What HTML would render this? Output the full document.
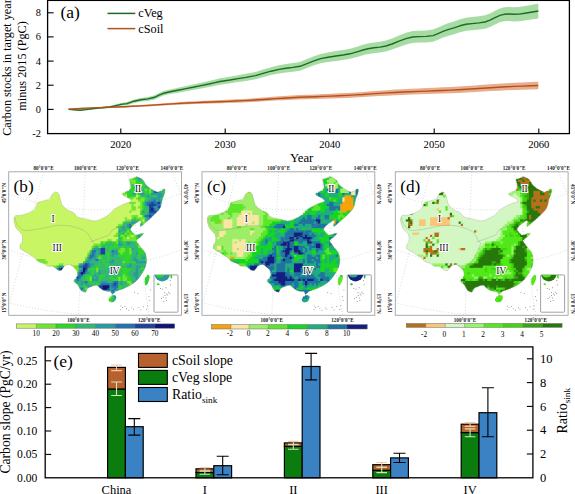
<!DOCTYPE html>
<html><head><meta charset="utf-8"><title>figure</title>
<style>
html,body{margin:0;padding:0;background:#fff;}
body{width:575px;height:494px;overflow:hidden;font-family:"Liberation Serif", serif;}
svg{display:block;font-family:"Liberation Serif", serif;}
</style></head><body>
<svg width="575" height="494" viewBox="0 0 575 494">
<rect x="0" y="0" width="575" height="494" fill="#ffffff"/>
<g id="panel-a">
<polygon points="68.5,109.4 74.0,109.4 80.0,109.7 86.0,109.0 92.0,108.0 98.0,107.1 104.4,106.4 110.0,105.8 116.0,104.3 121.0,103.0 127.0,102.0 134.0,99.5 141.0,98.0 148.0,96.9 154.7,95.2 159.0,93.0 163.5,91.1 170.0,89.5 178.0,87.7 186.0,86.0 193.0,84.6 201.0,82.7 209.0,81.0 215.0,79.5 220.0,78.3 230.0,76.7 238.0,75.2 246.0,73.8 255.5,71.9 263.0,69.6 271.0,67.3 279.0,65.3 286.0,64.1 293.0,63.1 300.0,61.9 307.0,59.1 314.0,56.3 320.6,54.0 328.0,52.5 336.0,51.1 343.0,50.1 350.0,48.8 357.0,46.7 363.0,44.8 368.0,43.4 374.0,42.4 380.0,41.7 386.0,40.5 392.0,38.4 399.0,35.5 406.0,32.8 412.5,31.1 419.0,30.7 426.0,30.4 433.0,29.5 438.0,27.4 443.0,25.2 448.0,23.3 454.0,21.4 460.0,19.3 466.0,17.8 472.0,17.0 479.0,16.2 485.0,15.2 490.0,13.4 495.0,10.7 500.0,8.5 504.0,7.3 509.0,6.9 514.0,7.2 519.0,6.9 525.0,6.0 531.0,4.9 538.3,3.6 538.3,18.4 531.0,19.5 525.0,20.4 519.0,21.3 514.0,21.4 509.0,21.1 504.0,21.3 500.0,22.3 495.0,24.5 490.0,27.0 485.0,28.8 479.0,29.6 472.0,30.2 466.0,30.8 460.0,32.3 454.0,34.2 448.0,35.9 443.0,37.6 438.0,39.8 433.0,41.7 426.0,42.4 419.0,42.5 412.5,42.9 406.0,44.4 399.0,46.9 392.0,49.6 386.0,51.5 380.0,52.5 374.0,53.2 368.0,54.0 363.0,55.2 357.0,56.9 350.0,58.8 343.0,59.9 336.0,60.9 328.0,61.9 320.6,63.2 314.0,65.3 307.0,68.1 300.0,70.7 293.0,71.7 286.0,72.5 279.0,73.5 271.0,75.1 263.0,77.2 255.5,79.3 246.0,81.0 238.0,82.0 230.0,83.3 220.0,84.7 215.0,85.7 209.0,87.0 201.0,88.5 193.0,90.0 186.0,91.2 178.0,92.7 170.0,94.1 163.5,95.5 159.0,97.4 154.7,99.4 148.0,100.9 141.0,101.6 134.0,102.9 127.0,105.2 121.0,105.8 116.0,106.9 110.0,108.2 104.4,108.6 98.0,108.9 92.0,109.6 86.0,110.2 80.0,110.7 74.0,110.0 68.5,109.4" fill="#a6dca4"/>
<polygon points="68.5,109.1 76.5,108.5 84.4,108.0 92.4,107.5 100.4,107.1 108.3,106.7 116.3,106.3 124.2,105.9 132.2,105.5 140.2,105.0 148.1,104.4 156.1,103.9 164.1,103.3 172.0,102.7 180.0,102.1 187.9,101.6 195.9,101.2 203.9,100.8 211.8,100.5 219.8,100.1 227.8,99.7 235.7,99.3 243.7,98.9 251.6,98.4 259.6,97.8 267.6,97.2 275.5,96.6 283.5,96.1 291.5,95.6 299.4,95.1 307.4,94.7 315.3,94.4 323.3,94.0 331.3,93.7 339.2,93.3 347.2,92.9 355.2,92.4 363.1,91.9 371.1,91.3 379.0,90.7 387.0,90.2 395.0,89.6 402.9,89.2 410.9,88.8 418.9,88.4 426.8,88.0 434.8,87.7 442.7,87.3 450.7,86.9 458.7,86.5 466.6,86.0 474.6,85.4 482.6,84.8 490.5,84.3 498.5,83.7 506.4,83.3 514.4,82.8 522.4,82.4 530.3,82.1 538.3,81.8 538.3,89.2 530.3,89.4 522.4,89.7 514.4,89.9 506.4,90.3 498.5,90.7 490.5,91.1 482.6,91.6 474.6,92.0 466.6,92.5 458.7,92.9 450.7,93.3 442.7,93.6 434.8,93.8 426.8,94.1 418.9,94.3 410.9,94.6 402.9,94.9 395.0,95.3 387.0,95.7 379.0,96.1 371.1,96.6 363.1,97.1 355.2,97.5 347.2,97.9 339.2,98.2 331.3,98.5 323.3,98.7 315.3,99.0 307.4,99.2 299.4,99.5 291.5,99.8 283.5,100.2 275.5,100.6 267.6,101.1 259.6,101.6 251.6,102.0 243.7,102.4 235.7,102.7 227.8,103.0 219.8,103.3 211.8,103.5 203.9,103.7 195.9,104.0 187.9,104.3 180.0,104.7 172.0,105.1 164.1,105.5 156.1,106.0 148.1,106.4 140.2,106.8 132.2,107.1 124.2,107.4 116.3,107.7 108.3,107.9 100.4,108.1 92.4,108.3 84.4,108.5 76.5,108.8 68.5,109.1" fill="#e9ad8c"/>
<polyline points="68.5,109.4 74.0,109.7 80.0,110.2 86.0,109.6 92.0,108.8 98.0,108.0 104.4,107.5 110.0,107.0 116.0,105.6 121.0,104.4 127.0,103.6 134.0,101.2 141.0,99.8 148.0,98.9 154.7,97.3 159.0,95.2 163.5,93.3 170.0,91.8 178.0,90.2 186.0,88.6 193.0,87.3 201.0,85.6 209.0,84.0 215.0,82.6 220.0,81.5 230.0,80.0 238.0,78.6 246.0,77.4 255.5,75.6 263.0,73.4 271.0,71.2 279.0,69.4 286.0,68.3 293.0,67.4 300.0,66.3 307.0,63.6 314.0,60.8 320.6,58.6 328.0,57.2 336.0,56.0 343.0,55.0 350.0,53.8 357.0,51.8 363.0,50.0 368.0,48.7 374.0,47.8 380.0,47.1 386.0,46.0 392.0,44.0 399.0,41.2 406.0,38.6 412.5,37.0 419.0,36.6 426.0,36.4 433.0,35.6 438.0,33.6 443.0,31.4 448.0,29.6 454.0,27.8 460.0,25.8 466.0,24.3 472.0,23.6 479.0,22.9 485.0,22.0 490.0,20.2 495.0,17.6 500.0,15.4 504.0,14.3 509.0,14.0 514.0,14.3 519.0,14.1 525.0,13.2 531.0,12.2 538.3,11.0" fill="none" stroke="#1d6b24" stroke-width="1.4" stroke-linejoin="round"/>
<polyline points="68.5,109.1 76.5,108.7 84.4,108.2 92.4,107.9 100.4,107.6 108.3,107.3 116.3,107.0 124.2,106.7 132.2,106.3 140.2,105.9 148.1,105.4 156.1,104.9 164.1,104.4 172.0,103.9 180.0,103.4 187.9,103.0 195.9,102.6 203.9,102.3 211.8,102.0 219.8,101.7 227.8,101.4 235.7,101.0 243.7,100.6 251.6,100.2 259.6,99.7 267.6,99.2 275.5,98.6 283.5,98.2 291.5,97.7 299.4,97.3 307.4,97.0 315.3,96.7 323.3,96.4 331.3,96.1 339.2,95.8 347.2,95.4 355.2,94.9 363.1,94.5 371.1,93.9 379.0,93.4 387.0,92.9 395.0,92.5 402.9,92.0 410.9,91.7 418.9,91.4 426.8,91.1 434.8,90.8 442.7,90.5 450.7,90.1 458.7,89.7 466.6,89.2 474.6,88.7 482.6,88.2 490.5,87.7 498.5,87.2 506.4,86.8 514.4,86.4 522.4,86.1 530.3,85.8 538.3,85.5" fill="none" stroke="#b4501e" stroke-width="1.4" stroke-linejoin="round"/>
<rect x="47.6" y="0.4" width="521.8" height="133.2" fill="none" stroke="#000" stroke-width="1.3"/>
<text x="40.9" y="137.0" font-size="10.4" text-anchor="end" font-weight="normal" fill="#000">-2</text>
<line x1="47.6" y1="109.4" x2="53.6" y2="109.4" stroke="#000" stroke-width="1.1"/>
<text x="40.9" y="112.8" font-size="10.4" text-anchor="end" font-weight="normal" fill="#000">0</text>
<line x1="47.6" y1="85.2" x2="53.6" y2="85.2" stroke="#000" stroke-width="1.1"/>
<text x="40.9" y="88.6" font-size="10.4" text-anchor="end" font-weight="normal" fill="#000">2</text>
<line x1="47.6" y1="61.1" x2="53.6" y2="61.1" stroke="#000" stroke-width="1.1"/>
<text x="40.9" y="64.5" font-size="10.4" text-anchor="end" font-weight="normal" fill="#000">4</text>
<line x1="47.6" y1="36.9" x2="53.6" y2="36.9" stroke="#000" stroke-width="1.1"/>
<text x="40.9" y="40.3" font-size="10.4" text-anchor="end" font-weight="normal" fill="#000">6</text>
<line x1="47.6" y1="12.8" x2="53.6" y2="12.8" stroke="#000" stroke-width="1.1"/>
<text x="40.9" y="16.2" font-size="10.4" text-anchor="end" font-weight="normal" fill="#000">8</text>
<line x1="120.8" y1="133.6" x2="120.8" y2="128.6" stroke="#000" stroke-width="1.1"/>
<text x="120.8" y="148.1" font-size="10.6" text-anchor="middle" font-weight="normal" fill="#000">2020</text>
<line x1="225.2" y1="133.6" x2="225.2" y2="128.6" stroke="#000" stroke-width="1.1"/>
<text x="225.2" y="148.1" font-size="10.6" text-anchor="middle" font-weight="normal" fill="#000">2030</text>
<line x1="329.8" y1="133.6" x2="329.8" y2="128.6" stroke="#000" stroke-width="1.1"/>
<text x="329.8" y="148.1" font-size="10.6" text-anchor="middle" font-weight="normal" fill="#000">2040</text>
<line x1="434.2" y1="133.6" x2="434.2" y2="128.6" stroke="#000" stroke-width="1.1"/>
<text x="434.2" y="148.1" font-size="10.6" text-anchor="middle" font-weight="normal" fill="#000">2050</text>
<line x1="538.8" y1="133.6" x2="538.8" y2="128.6" stroke="#000" stroke-width="1.1"/>
<text x="538.8" y="148.1" font-size="10.6" text-anchor="middle" font-weight="normal" fill="#000">2060</text>
<text x="301.6" y="161.6" font-size="12.7" text-anchor="middle" font-weight="normal" fill="#000">Year</text>
<text x="11.1" y="135.8" font-size="12.2" text-anchor="start" font-weight="normal" fill="#000" transform="rotate(-90 11.1 135.8)">Carbon stocks in target year</text>
<text x="26.1" y="66.0" font-size="12.2" text-anchor="middle" font-weight="normal" fill="#000" transform="rotate(-90 26.1 66.0)">minus 2015 (PgC)</text>
<text x="60.5" y="18.2" font-size="17.5" text-anchor="start" font-weight="normal" fill="#000">(a)</text>
<line x1="107.5" y1="13.4" x2="135.3" y2="13.4" stroke="#1d6b24" stroke-width="1.5"/>
<line x1="107.5" y1="28.6" x2="135.3" y2="28.6" stroke="#b4501e" stroke-width="1.5"/>
<text x="138.2" y="17.4" font-size="12.3" text-anchor="start" font-weight="normal" fill="#000">cVeg</text>
<text x="138.2" y="32.6" font-size="12.3" text-anchor="start" font-weight="normal" fill="#000">cSoil</text>
</g>
<defs><clipPath id="china">
<polygon points="55.7,191.9 57.6,192.6 59.2,194.8 60.3,199.5 61.8,204.4 64.2,207.4 67.1,209.6 70.3,211.2 73.2,212.3 75.2,214.3 76.7,216.6 81.5,218.3 87.1,219.2 90.8,220.3 94.1,221.0 97.5,220.4 100.5,219.2 104.2,217.6 107.4,215.7 110.2,213.0 112.6,210.5 115.2,208.6 117.9,207.0 121.4,205.2 124.8,203.6 128.5,202.6 131.8,200.9 129.8,199.0 127.5,197.5 124.2,196.0 121.4,194.0 123.8,192.4 126.6,191.4 129.2,190.0 130.9,187.9 130.4,183.4 129.2,179.2 132.4,178.4 136.2,176.6 139.4,177.4 142.3,179.2 144.2,181.8 145.7,184.4 148.2,186.8 151.0,188.7 154.4,190.8 157.9,192.2 161.0,190.6 164.0,188.7 165.3,189.6 164.9,192.2 163.8,195.8 162.3,199.2 161.6,203.2 160.6,207.0 158.6,210.2 156.2,212.8 152.5,216.2 149.4,219.2 145.3,222.7 142.8,225.0 140.7,226.8 139.7,225.2 140.6,223.2 141.5,221.8 140.4,220.8 139.3,220.8 137.0,222.4 135.0,223.8 133.0,225.4 131.4,227.2 130.3,229.3 131.0,230.8 132.2,232.0 133.6,233.6 135.2,234.9 137.0,234.8 139.0,234.3 141.4,233.6 143.8,233.3 142.6,235.0 141.0,236.5 139.2,238.0 137.5,239.2 136.2,240.6 137.0,242.2 138.0,243.5 139.2,245.2 140.5,247.0 142.8,249.6 144.9,252.2 146.0,255.6 146.6,259.2 146.4,262.8 145.7,266.1 144.2,269.8 142.3,273.1 140.2,276.3 137.9,279.2 135.0,282.0 131.8,284.4 128.4,286.3 124.8,287.9 121.4,289.4 117.9,290.5 115.4,291.4 113.6,293.4 112.2,294.6 111.2,293.0 110.9,291.6 109.2,291.6 107.4,291.4 104.8,290.8 102.2,289.7 99.6,287.8 97.0,285.3 93.6,285.6 90.6,287.0 88.8,287.6 87.1,288.8 86.4,290.8 85.4,292.3 83.2,291.8 81.0,290.5 79.2,287.6 77.5,284.4 75.2,282.8 73.2,280.9 75.2,278.4 77.5,275.7 77.4,273.0 76.7,270.5 75.0,268.6 73.2,267.0 71.4,265.4 69.7,264.4 67.0,264.9 64.5,266.1 62.8,268.4 61.0,270.5 58.8,270.4 56.6,269.6 54.6,267.6 52.3,266.1 49.6,266.3 47.0,266.1 45.2,264.6 43.6,263.5 40.6,262.4 37.5,260.9 35.2,258.8 33.1,256.6 29.6,254.6 26.1,252.2 23.0,250.6 20.0,248.7 20.0,246.0 20.9,243.5 22.3,241.9 22.6,238.0 21.8,234.0 20.0,232.4 18.3,230.6 16.8,229.0 15.7,227.1 14.4,223.2 13.9,219.2 14.4,217.0 15.7,215.4 19.2,215.4 22.6,214.9 27.2,213.4 31.4,211.4 33.8,209.8 35.7,207.9 36.4,205.2 37.5,202.7 40.6,201.6 43.6,200.9 47.2,199.8 50.5,198.3 51.2,196.0 52.3,194.0 54.0,192.6"/><polygon points="109.0,297.2 110.8,295.6 113.4,295.2 115.8,295.8 116.3,297.6 115.4,300.2 113.4,302.0 110.8,302.5 109.0,301.2 108.5,299.2"/><polygon points="147.6,274.8 149.0,275.0 149.6,277.0 149.0,280.0 147.8,283.0 146.4,285.6 145.4,285.2 144.6,283.0 144.4,280.4 145.2,277.8 146.4,275.8"/>
</clipPath>
<clipPath id="frameclip"><rect x="8.7" y="171.8" width="172.8" height="143.5"/></clipPath>
<clipPath id="insetclip"><rect x="154.0" y="274.9" width="24.0" height="37.3"/></clipPath>
</defs>
<g id="map-b" transform="translate(0.0 0)">
<rect x="8.7" y="171.8" width="172.8" height="143.5" fill="#fff" stroke="#a2a2a2" stroke-width="0.9"/>
<g clip-path="url(#frameclip)" fill="none" stroke="#c4c4c4" stroke-width="0.7" stroke-dasharray="0.9 2.1">
<path d="M43.5 171.8L9.6 302.7"/><path d="M85.4 171.8L78.4 315.3"/><path d="M127.5 171.8L149.2 315.3"/><path d="M171.9 171.8L183 200"/>
<path d="M8.7 194 Q50 209.5 95 209.8 T181.5 193"/>
<path d="M8.7 249.6 Q50 265 95 265.6 T181.5 249.6"/>
<path d="M8.7 302.7 Q45 312 95 316"/>
</g>
<g clip-path="url(#china)"><rect x="135.8" y="175.4" width="3.20" height="3.20" fill="#30d52c"/><rect x="129.2" y="177.6" width="5.40" height="3.20" fill="#70e62e"/><rect x="133.6" y="177.6" width="3.20" height="3.20" fill="#30d52c"/><rect x="135.8" y="177.6" width="3.20" height="3.20" fill="#33b874"/><rect x="138.0" y="177.6" width="3.20" height="3.20" fill="#2a9aa0"/><rect x="140.2" y="177.6" width="3.20" height="3.20" fill="#33b874"/><rect x="129.2" y="179.8" width="7.60" height="3.20" fill="#70e62e"/><rect x="135.8" y="179.8" width="3.20" height="3.20" fill="#30d52c"/><rect x="138.0" y="179.8" width="7.60" height="3.20" fill="#33b874"/><rect x="129.2" y="182.0" width="3.20" height="3.20" fill="#30d52c"/><rect x="131.4" y="182.0" width="5.40" height="3.20" fill="#70e62e"/><rect x="135.8" y="182.0" width="9.80" height="3.20" fill="#30d52c"/><rect x="129.2" y="184.2" width="3.20" height="3.20" fill="#70e62e"/><rect x="131.4" y="184.2" width="3.20" height="3.20" fill="#33b874"/><rect x="133.6" y="184.2" width="5.40" height="3.20" fill="#30d52c"/><rect x="138.0" y="184.2" width="3.20" height="3.20" fill="#70e62e"/><rect x="140.2" y="184.2" width="5.40" height="3.20" fill="#30d52c"/><rect x="144.6" y="184.2" width="3.20" height="3.20" fill="#33b874"/><rect x="129.2" y="186.4" width="5.40" height="3.20" fill="#30d52c"/><rect x="133.6" y="186.4" width="3.20" height="3.20" fill="#33b874"/><rect x="135.8" y="186.4" width="5.40" height="3.20" fill="#70e62e"/><rect x="140.2" y="186.4" width="3.20" height="3.20" fill="#33b874"/><rect x="142.4" y="186.4" width="3.20" height="3.20" fill="#30d52c"/><rect x="144.6" y="186.4" width="5.40" height="3.20" fill="#33b874"/><rect x="129.2" y="188.6" width="7.60" height="3.20" fill="#30d52c"/><rect x="135.8" y="188.6" width="3.20" height="3.20" fill="#33b874"/><rect x="138.0" y="188.6" width="3.20" height="3.20" fill="#2a9aa0"/><rect x="140.2" y="188.6" width="5.40" height="3.20" fill="#33b874"/><rect x="144.6" y="188.6" width="3.20" height="3.20" fill="#70e62e"/><rect x="146.8" y="188.6" width="3.20" height="3.20" fill="#30d52c"/><rect x="149.0" y="188.6" width="3.20" height="3.20" fill="#70e62e"/><rect x="151.2" y="188.6" width="3.20" height="3.20" fill="#33b874"/><rect x="162.2" y="188.6" width="3.20" height="3.20" fill="#33b874"/><rect x="54.4" y="190.8" width="3.20" height="3.20" fill="#c8f564"/><rect x="124.8" y="190.8" width="5.40" height="3.20" fill="#30d52c"/><rect x="129.2" y="190.8" width="3.20" height="3.20" fill="#33b874"/><rect x="131.4" y="190.8" width="7.60" height="3.20" fill="#30d52c"/><rect x="138.0" y="190.8" width="3.20" height="3.20" fill="#2a9aa0"/><rect x="140.2" y="190.8" width="5.40" height="3.20" fill="#33b874"/><rect x="144.6" y="190.8" width="5.40" height="3.20" fill="#30d52c"/><rect x="149.0" y="190.8" width="3.20" height="3.20" fill="#70e62e"/><rect x="151.2" y="190.8" width="3.20" height="3.20" fill="#33b874"/><rect x="153.4" y="190.8" width="3.20" height="3.20" fill="#2470b0"/><rect x="155.6" y="190.8" width="3.20" height="3.20" fill="#1f409c"/><rect x="157.8" y="190.8" width="3.20" height="3.20" fill="#2a9aa0"/><rect x="160.0" y="190.8" width="5.40" height="3.20" fill="#33b874"/><rect x="164.4" y="190.8" width="3.20" height="3.20" fill="#30d52c"/><rect x="52.2" y="193.0" width="7.60" height="3.20" fill="#c8f564"/><rect x="122.6" y="193.0" width="5.40" height="3.20" fill="#70e62e"/><rect x="127.0" y="193.0" width="5.40" height="3.20" fill="#30d52c"/><rect x="131.4" y="193.0" width="3.20" height="3.20" fill="#33b874"/><rect x="133.6" y="193.0" width="3.20" height="3.20" fill="#2a9aa0"/><rect x="135.8" y="193.0" width="3.20" height="3.20" fill="#70e62e"/><rect x="138.0" y="193.0" width="3.20" height="3.20" fill="#30d52c"/><rect x="140.2" y="193.0" width="5.40" height="3.20" fill="#2a9aa0"/><rect x="144.6" y="193.0" width="3.20" height="3.20" fill="#30d52c"/><rect x="146.8" y="193.0" width="3.20" height="3.20" fill="#33b874"/><rect x="149.0" y="193.0" width="3.20" height="3.20" fill="#30d52c"/><rect x="151.2" y="193.0" width="12.00" height="3.20" fill="#2a9aa0"/><rect x="162.2" y="193.0" width="3.20" height="3.20" fill="#33b874"/><rect x="50.0" y="195.2" width="12.00" height="3.20" fill="#c8f564"/><rect x="124.8" y="195.2" width="3.20" height="3.20" fill="#c8f564"/><rect x="127.0" y="195.2" width="9.80" height="3.20" fill="#30d52c"/><rect x="135.8" y="195.2" width="3.20" height="3.20" fill="#c8f564"/><rect x="138.0" y="195.2" width="3.20" height="3.20" fill="#70e62e"/><rect x="140.2" y="195.2" width="7.60" height="3.20" fill="#33b874"/><rect x="146.8" y="195.2" width="3.20" height="3.20" fill="#2a9aa0"/><rect x="149.0" y="195.2" width="5.40" height="3.20" fill="#33b874"/><rect x="153.4" y="195.2" width="3.20" height="3.20" fill="#30d52c"/><rect x="155.6" y="195.2" width="3.20" height="3.20" fill="#33b874"/><rect x="157.8" y="195.2" width="5.40" height="3.20" fill="#2a9aa0"/><rect x="162.2" y="195.2" width="3.20" height="3.20" fill="#33b874"/><rect x="50.0" y="197.4" width="12.00" height="3.20" fill="#c8f564"/><rect x="129.2" y="197.4" width="5.40" height="3.20" fill="#70e62e"/><rect x="133.6" y="197.4" width="3.20" height="3.20" fill="#c8f564"/><rect x="135.8" y="197.4" width="3.20" height="3.20" fill="#70e62e"/><rect x="138.0" y="197.4" width="3.20" height="3.20" fill="#30d52c"/><rect x="140.2" y="197.4" width="5.40" height="3.20" fill="#70e62e"/><rect x="144.6" y="197.4" width="3.20" height="3.20" fill="#30d52c"/><rect x="146.8" y="197.4" width="5.40" height="3.20" fill="#33b874"/><rect x="151.2" y="197.4" width="9.80" height="3.20" fill="#2a9aa0"/><rect x="160.0" y="197.4" width="3.20" height="3.20" fill="#33b874"/><rect x="41.2" y="199.6" width="20.80" height="3.20" fill="#c8f564"/><rect x="129.2" y="199.6" width="9.80" height="3.20" fill="#c8f564"/><rect x="138.0" y="199.6" width="7.60" height="3.20" fill="#70e62e"/><rect x="144.6" y="199.6" width="5.40" height="3.20" fill="#33b874"/><rect x="149.0" y="199.6" width="5.40" height="3.20" fill="#2a9aa0"/><rect x="153.4" y="199.6" width="3.20" height="3.20" fill="#2470b0"/><rect x="155.6" y="199.6" width="3.20" height="3.20" fill="#33b874"/><rect x="157.8" y="199.6" width="5.40" height="3.20" fill="#2a9aa0"/><rect x="36.8" y="201.8" width="25.20" height="3.20" fill="#c8f564"/><rect x="124.8" y="201.8" width="5.40" height="3.20" fill="#c8f564"/><rect x="129.2" y="201.8" width="7.60" height="3.20" fill="#70e62e"/><rect x="135.8" y="201.8" width="5.40" height="3.20" fill="#c8f564"/><rect x="140.2" y="201.8" width="3.20" height="3.20" fill="#70e62e"/><rect x="142.4" y="201.8" width="3.20" height="3.20" fill="#30d52c"/><rect x="144.6" y="201.8" width="3.20" height="3.20" fill="#2a9aa0"/><rect x="146.8" y="201.8" width="5.40" height="3.20" fill="#2470b0"/><rect x="151.2" y="201.8" width="3.20" height="3.20" fill="#1f409c"/><rect x="153.4" y="201.8" width="5.40" height="3.20" fill="#2470b0"/><rect x="157.8" y="201.8" width="3.20" height="3.20" fill="#1f409c"/><rect x="160.0" y="201.8" width="3.20" height="3.20" fill="#2a9aa0"/><rect x="36.8" y="204.0" width="27.40" height="3.20" fill="#c8f564"/><rect x="120.4" y="204.0" width="12.00" height="3.20" fill="#c8f564"/><rect x="131.4" y="204.0" width="3.20" height="3.20" fill="#70e62e"/><rect x="133.6" y="204.0" width="7.60" height="3.20" fill="#c8f564"/><rect x="140.2" y="204.0" width="3.20" height="3.20" fill="#70e62e"/><rect x="142.4" y="204.0" width="3.20" height="3.20" fill="#30d52c"/><rect x="144.6" y="204.0" width="3.20" height="3.20" fill="#2a9aa0"/><rect x="146.8" y="204.0" width="3.20" height="3.20" fill="#2470b0"/><rect x="149.0" y="204.0" width="7.60" height="3.20" fill="#1f409c"/><rect x="155.6" y="204.0" width="5.40" height="3.20" fill="#2470b0"/><rect x="160.0" y="204.0" width="3.20" height="3.20" fill="#2a9aa0"/><rect x="34.6" y="206.2" width="31.80" height="3.20" fill="#c8f564"/><rect x="116.0" y="206.2" width="16.40" height="3.20" fill="#c8f564"/><rect x="131.4" y="206.2" width="5.40" height="3.20" fill="#70e62e"/><rect x="135.8" y="206.2" width="3.20" height="3.20" fill="#c8f564"/><rect x="138.0" y="206.2" width="5.40" height="3.20" fill="#70e62e"/><rect x="142.4" y="206.2" width="3.20" height="3.20" fill="#30d52c"/><rect x="144.6" y="206.2" width="5.40" height="3.20" fill="#33b874"/><rect x="149.0" y="206.2" width="5.40" height="3.20" fill="#1f409c"/><rect x="153.4" y="206.2" width="5.40" height="3.20" fill="#2a9aa0"/><rect x="157.8" y="206.2" width="3.20" height="3.20" fill="#1f409c"/><rect x="34.6" y="208.4" width="34.00" height="3.20" fill="#c8f564"/><rect x="113.8" y="208.4" width="18.60" height="3.20" fill="#c8f564"/><rect x="131.4" y="208.4" width="5.40" height="3.20" fill="#70e62e"/><rect x="135.8" y="208.4" width="5.40" height="3.20" fill="#c8f564"/><rect x="140.2" y="208.4" width="3.20" height="3.20" fill="#70e62e"/><rect x="142.4" y="208.4" width="3.20" height="3.20" fill="#30d52c"/><rect x="144.6" y="208.4" width="5.40" height="3.20" fill="#33b874"/><rect x="149.0" y="208.4" width="3.20" height="3.20" fill="#1f409c"/><rect x="151.2" y="208.4" width="3.20" height="3.20" fill="#121274"/><rect x="153.4" y="208.4" width="3.20" height="3.20" fill="#2470b0"/><rect x="155.6" y="208.4" width="3.20" height="3.20" fill="#2a9aa0"/><rect x="157.8" y="208.4" width="3.20" height="3.20" fill="#2470b0"/><rect x="30.2" y="210.6" width="42.80" height="3.20" fill="#c8f564"/><rect x="111.6" y="210.6" width="18.60" height="3.20" fill="#c8f564"/><rect x="129.2" y="210.6" width="3.20" height="3.20" fill="#70e62e"/><rect x="131.4" y="210.6" width="9.80" height="3.20" fill="#c8f564"/><rect x="140.2" y="210.6" width="3.20" height="3.20" fill="#30d52c"/><rect x="142.4" y="210.6" width="3.20" height="3.20" fill="#2a9aa0"/><rect x="144.6" y="210.6" width="3.20" height="3.20" fill="#30d52c"/><rect x="146.8" y="210.6" width="3.20" height="3.20" fill="#33b874"/><rect x="149.0" y="210.6" width="7.60" height="3.20" fill="#1f409c"/><rect x="155.6" y="210.6" width="3.20" height="3.20" fill="#2470b0"/><rect x="23.6" y="212.8" width="51.60" height="3.20" fill="#c8f564"/><rect x="109.4" y="212.8" width="31.80" height="3.20" fill="#c8f564"/><rect x="140.2" y="212.8" width="3.20" height="3.20" fill="#30d52c"/><rect x="142.4" y="212.8" width="5.40" height="3.20" fill="#33b874"/><rect x="146.8" y="212.8" width="3.20" height="3.20" fill="#2a9aa0"/><rect x="149.0" y="212.8" width="7.60" height="3.20" fill="#2470b0"/><rect x="14.8" y="215.0" width="62.60" height="3.20" fill="#c8f564"/><rect x="105.0" y="215.0" width="27.40" height="3.20" fill="#c8f564"/><rect x="131.4" y="215.0" width="7.60" height="3.20" fill="#70e62e"/><rect x="138.0" y="215.0" width="5.40" height="3.20" fill="#c8f564"/><rect x="142.4" y="215.0" width="3.20" height="3.20" fill="#30d52c"/><rect x="144.6" y="215.0" width="5.40" height="3.20" fill="#2470b0"/><rect x="149.0" y="215.0" width="3.20" height="3.20" fill="#1f409c"/><rect x="151.2" y="215.0" width="3.20" height="3.20" fill="#2470b0"/><rect x="12.6" y="217.2" width="73.60" height="3.20" fill="#c8f564"/><rect x="100.6" y="217.2" width="25.20" height="3.20" fill="#c8f564"/><rect x="124.8" y="217.2" width="3.20" height="3.20" fill="#70e62e"/><rect x="127.0" y="217.2" width="5.40" height="3.20" fill="#c8f564"/><rect x="131.4" y="217.2" width="3.20" height="3.20" fill="#70e62e"/><rect x="133.6" y="217.2" width="3.20" height="3.20" fill="#30d52c"/><rect x="135.8" y="217.2" width="9.80" height="3.20" fill="#70e62e"/><rect x="144.6" y="217.2" width="3.20" height="3.20" fill="#33b874"/><rect x="146.8" y="217.2" width="3.20" height="3.20" fill="#2a9aa0"/><rect x="149.0" y="217.2" width="3.20" height="3.20" fill="#2470b0"/><rect x="12.6" y="219.4" width="113.20" height="3.20" fill="#c8f564"/><rect x="124.8" y="219.4" width="7.60" height="3.20" fill="#70e62e"/><rect x="131.4" y="219.4" width="7.60" height="3.20" fill="#33b874"/><rect x="138.0" y="219.4" width="3.20" height="3.20" fill="#30d52c"/><rect x="140.2" y="219.4" width="3.20" height="3.20" fill="#70e62e"/><rect x="142.4" y="219.4" width="3.20" height="3.20" fill="#c8f564"/><rect x="144.6" y="219.4" width="3.20" height="3.20" fill="#33b874"/><rect x="146.8" y="219.4" width="3.20" height="3.20" fill="#2a9aa0"/><rect x="12.6" y="221.6" width="111.00" height="3.20" fill="#c8f564"/><rect x="122.6" y="221.6" width="3.20" height="3.20" fill="#30d52c"/><rect x="124.8" y="221.6" width="7.60" height="3.20" fill="#33b874"/><rect x="131.4" y="221.6" width="5.40" height="3.20" fill="#2a9aa0"/><rect x="135.8" y="221.6" width="3.20" height="3.20" fill="#33b874"/><rect x="140.2" y="221.6" width="3.20" height="3.20" fill="#30d52c"/><rect x="142.4" y="221.6" width="3.20" height="3.20" fill="#70e62e"/><rect x="14.8" y="223.8" width="104.40" height="3.20" fill="#c8f564"/><rect x="118.2" y="223.8" width="5.40" height="3.20" fill="#70e62e"/><rect x="122.6" y="223.8" width="5.40" height="3.20" fill="#33b874"/><rect x="127.0" y="223.8" width="3.20" height="3.20" fill="#2a9aa0"/><rect x="129.2" y="223.8" width="3.20" height="3.20" fill="#2470b0"/><rect x="131.4" y="223.8" width="3.20" height="3.20" fill="#30d52c"/><rect x="140.2" y="223.8" width="3.20" height="3.20" fill="#33b874"/><rect x="14.8" y="226.0" width="102.20" height="3.20" fill="#c8f564"/><rect x="116.0" y="226.0" width="3.20" height="3.20" fill="#70e62e"/><rect x="118.2" y="226.0" width="3.20" height="3.20" fill="#30d52c"/><rect x="120.4" y="226.0" width="3.20" height="3.20" fill="#33b874"/><rect x="122.6" y="226.0" width="3.20" height="3.20" fill="#2a9aa0"/><rect x="124.8" y="226.0" width="3.20" height="3.20" fill="#33b874"/><rect x="127.0" y="226.0" width="3.20" height="3.20" fill="#2a9aa0"/><rect x="129.2" y="226.0" width="3.20" height="3.20" fill="#2470b0"/><rect x="17.0" y="228.2" width="102.20" height="3.20" fill="#c8f564"/><rect x="118.2" y="228.2" width="5.40" height="3.20" fill="#33b874"/><rect x="122.6" y="228.2" width="3.20" height="3.20" fill="#2a9aa0"/><rect x="124.8" y="228.2" width="3.20" height="3.20" fill="#33b874"/><rect x="127.0" y="228.2" width="5.40" height="3.20" fill="#30d52c"/><rect x="19.2" y="230.4" width="100.00" height="3.20" fill="#c8f564"/><rect x="118.2" y="230.4" width="3.20" height="3.20" fill="#2a9aa0"/><rect x="120.4" y="230.4" width="7.60" height="3.20" fill="#33b874"/><rect x="127.0" y="230.4" width="3.20" height="3.20" fill="#70e62e"/><rect x="129.2" y="230.4" width="3.20" height="3.20" fill="#30d52c"/><rect x="21.4" y="232.6" width="95.60" height="3.20" fill="#c8f564"/><rect x="116.0" y="232.6" width="3.20" height="3.20" fill="#70e62e"/><rect x="118.2" y="232.6" width="3.20" height="3.20" fill="#33b874"/><rect x="120.4" y="232.6" width="3.20" height="3.20" fill="#30d52c"/><rect x="122.6" y="232.6" width="3.20" height="3.20" fill="#33b874"/><rect x="124.8" y="232.6" width="3.20" height="3.20" fill="#70e62e"/><rect x="127.0" y="232.6" width="3.20" height="3.20" fill="#30d52c"/><rect x="129.2" y="232.6" width="3.20" height="3.20" fill="#70e62e"/><rect x="131.4" y="232.6" width="3.20" height="3.20" fill="#30d52c"/><rect x="138.0" y="232.6" width="3.20" height="3.20" fill="#33b874"/><rect x="140.2" y="232.6" width="5.40" height="3.20" fill="#30d52c"/><rect x="21.4" y="234.8" width="93.40" height="3.20" fill="#c8f564"/><rect x="113.8" y="234.8" width="5.40" height="3.20" fill="#70e62e"/><rect x="118.2" y="234.8" width="3.20" height="3.20" fill="#33b874"/><rect x="120.4" y="234.8" width="5.40" height="3.20" fill="#70e62e"/><rect x="124.8" y="234.8" width="3.20" height="3.20" fill="#30d52c"/><rect x="127.0" y="234.8" width="5.40" height="3.20" fill="#70e62e"/><rect x="131.4" y="234.8" width="3.20" height="3.20" fill="#c8f564"/><rect x="133.6" y="234.8" width="3.20" height="3.20" fill="#70e62e"/><rect x="135.8" y="234.8" width="3.20" height="3.20" fill="#30d52c"/><rect x="138.0" y="234.8" width="3.20" height="3.20" fill="#2a9aa0"/><rect x="140.2" y="234.8" width="3.20" height="3.20" fill="#33b874"/><rect x="21.4" y="237.0" width="97.80" height="3.20" fill="#c8f564"/><rect x="118.2" y="237.0" width="3.20" height="3.20" fill="#33b874"/><rect x="120.4" y="237.0" width="3.20" height="3.20" fill="#30d52c"/><rect x="122.6" y="237.0" width="5.40" height="3.20" fill="#70e62e"/><rect x="127.0" y="237.0" width="3.20" height="3.20" fill="#c8f564"/><rect x="129.2" y="237.0" width="7.60" height="3.20" fill="#70e62e"/><rect x="135.8" y="237.0" width="3.20" height="3.20" fill="#30d52c"/><rect x="138.0" y="237.0" width="3.20" height="3.20" fill="#33b874"/><rect x="21.4" y="239.2" width="86.80" height="3.20" fill="#c8f564"/><rect x="107.2" y="239.2" width="5.40" height="3.20" fill="#70e62e"/><rect x="111.6" y="239.2" width="5.40" height="3.20" fill="#c8f564"/><rect x="116.0" y="239.2" width="3.20" height="3.20" fill="#70e62e"/><rect x="118.2" y="239.2" width="3.20" height="3.20" fill="#33b874"/><rect x="120.4" y="239.2" width="3.20" height="3.20" fill="#30d52c"/><rect x="122.6" y="239.2" width="16.40" height="3.20" fill="#70e62e"/><rect x="21.4" y="241.4" width="80.20" height="3.20" fill="#c8f564"/><rect x="100.6" y="241.4" width="3.20" height="3.20" fill="#30d52c"/><rect x="102.8" y="241.4" width="3.20" height="3.20" fill="#70e62e"/><rect x="105.0" y="241.4" width="5.40" height="3.20" fill="#30d52c"/><rect x="109.4" y="241.4" width="3.20" height="3.20" fill="#33b874"/><rect x="111.6" y="241.4" width="5.40" height="3.20" fill="#30d52c"/><rect x="116.0" y="241.4" width="3.20" height="3.20" fill="#70e62e"/><rect x="118.2" y="241.4" width="3.20" height="3.20" fill="#2a9aa0"/><rect x="120.4" y="241.4" width="3.20" height="3.20" fill="#33b874"/><rect x="122.6" y="241.4" width="3.20" height="3.20" fill="#30d52c"/><rect x="124.8" y="241.4" width="3.20" height="3.20" fill="#33b874"/><rect x="127.0" y="241.4" width="5.40" height="3.20" fill="#2a9aa0"/><rect x="131.4" y="241.4" width="5.40" height="3.20" fill="#33b874"/><rect x="135.8" y="241.4" width="3.20" height="3.20" fill="#30d52c"/><rect x="19.2" y="243.6" width="75.80" height="3.20" fill="#c8f564"/><rect x="94.0" y="243.6" width="7.60" height="3.20" fill="#70e62e"/><rect x="100.6" y="243.6" width="5.40" height="3.20" fill="#30d52c"/><rect x="105.0" y="243.6" width="9.80" height="3.20" fill="#33b874"/><rect x="113.8" y="243.6" width="5.40" height="3.20" fill="#30d52c"/><rect x="118.2" y="243.6" width="5.40" height="3.20" fill="#2a9aa0"/><rect x="122.6" y="243.6" width="5.40" height="3.20" fill="#33b874"/><rect x="127.0" y="243.6" width="3.20" height="3.20" fill="#2a9aa0"/><rect x="129.2" y="243.6" width="7.60" height="3.20" fill="#33b874"/><rect x="135.8" y="243.6" width="3.20" height="3.20" fill="#30d52c"/><rect x="138.0" y="243.6" width="3.20" height="3.20" fill="#70e62e"/><rect x="19.2" y="245.8" width="73.60" height="3.20" fill="#c8f564"/><rect x="91.8" y="245.8" width="3.20" height="3.20" fill="#70e62e"/><rect x="94.0" y="245.8" width="3.20" height="3.20" fill="#30d52c"/><rect x="96.2" y="245.8" width="3.20" height="3.20" fill="#33b874"/><rect x="98.4" y="245.8" width="3.20" height="3.20" fill="#70e62e"/><rect x="100.6" y="245.8" width="3.20" height="3.20" fill="#33b874"/><rect x="102.8" y="245.8" width="3.20" height="3.20" fill="#2a9aa0"/><rect x="105.0" y="245.8" width="3.20" height="3.20" fill="#30d52c"/><rect x="107.2" y="245.8" width="3.20" height="3.20" fill="#33b874"/><rect x="109.4" y="245.8" width="9.80" height="3.20" fill="#30d52c"/><rect x="118.2" y="245.8" width="3.20" height="3.20" fill="#33b874"/><rect x="120.4" y="245.8" width="5.40" height="3.20" fill="#30d52c"/><rect x="124.8" y="245.8" width="3.20" height="3.20" fill="#33b874"/><rect x="127.0" y="245.8" width="3.20" height="3.20" fill="#30d52c"/><rect x="129.2" y="245.8" width="9.80" height="3.20" fill="#33b874"/><rect x="138.0" y="245.8" width="3.20" height="3.20" fill="#70e62e"/><rect x="21.4" y="248.0" width="71.40" height="3.20" fill="#c8f564"/><rect x="91.8" y="248.0" width="3.20" height="3.20" fill="#33b874"/><rect x="94.0" y="248.0" width="7.60" height="3.20" fill="#2a9aa0"/><rect x="100.6" y="248.0" width="5.40" height="3.20" fill="#1f409c"/><rect x="105.0" y="248.0" width="5.40" height="3.20" fill="#33b874"/><rect x="109.4" y="248.0" width="3.20" height="3.20" fill="#30d52c"/><rect x="111.6" y="248.0" width="7.60" height="3.20" fill="#33b874"/><rect x="118.2" y="248.0" width="3.20" height="3.20" fill="#30d52c"/><rect x="120.4" y="248.0" width="5.40" height="3.20" fill="#70e62e"/><rect x="124.8" y="248.0" width="5.40" height="3.20" fill="#30d52c"/><rect x="129.2" y="248.0" width="3.20" height="3.20" fill="#70e62e"/><rect x="131.4" y="248.0" width="3.20" height="3.20" fill="#2a9aa0"/><rect x="133.6" y="248.0" width="5.40" height="3.20" fill="#33b874"/><rect x="138.0" y="248.0" width="5.40" height="3.20" fill="#30d52c"/><rect x="23.6" y="250.2" width="67.00" height="3.20" fill="#c8f564"/><rect x="89.6" y="250.2" width="3.20" height="3.20" fill="#30d52c"/><rect x="91.8" y="250.2" width="5.40" height="3.20" fill="#2470b0"/><rect x="96.2" y="250.2" width="3.20" height="3.20" fill="#33b874"/><rect x="98.4" y="250.2" width="3.20" height="3.20" fill="#2a9aa0"/><rect x="100.6" y="250.2" width="5.40" height="3.20" fill="#1f409c"/><rect x="105.0" y="250.2" width="7.60" height="3.20" fill="#33b874"/><rect x="111.6" y="250.2" width="3.20" height="3.20" fill="#2470b0"/><rect x="113.8" y="250.2" width="5.40" height="3.20" fill="#2a9aa0"/><rect x="118.2" y="250.2" width="7.60" height="3.20" fill="#70e62e"/><rect x="124.8" y="250.2" width="5.40" height="3.20" fill="#30d52c"/><rect x="129.2" y="250.2" width="3.20" height="3.20" fill="#70e62e"/><rect x="131.4" y="250.2" width="7.60" height="3.20" fill="#33b874"/><rect x="138.0" y="250.2" width="7.60" height="3.20" fill="#30d52c"/><rect x="28.0" y="252.4" width="60.40" height="3.20" fill="#c8f564"/><rect x="87.4" y="252.4" width="3.20" height="3.20" fill="#70e62e"/><rect x="89.6" y="252.4" width="3.20" height="3.20" fill="#33b874"/><rect x="91.8" y="252.4" width="3.20" height="3.20" fill="#2470b0"/><rect x="94.0" y="252.4" width="3.20" height="3.20" fill="#2a9aa0"/><rect x="96.2" y="252.4" width="3.20" height="3.20" fill="#33b874"/><rect x="98.4" y="252.4" width="3.20" height="3.20" fill="#2a9aa0"/><rect x="100.6" y="252.4" width="5.40" height="3.20" fill="#1f409c"/><rect x="105.0" y="252.4" width="5.40" height="3.20" fill="#30d52c"/><rect x="109.4" y="252.4" width="3.20" height="3.20" fill="#33b874"/><rect x="111.6" y="252.4" width="7.60" height="3.20" fill="#2a9aa0"/><rect x="118.2" y="252.4" width="3.20" height="3.20" fill="#30d52c"/><rect x="120.4" y="252.4" width="3.20" height="3.20" fill="#70e62e"/><rect x="122.6" y="252.4" width="7.60" height="3.20" fill="#30d52c"/><rect x="129.2" y="252.4" width="3.20" height="3.20" fill="#70e62e"/><rect x="131.4" y="252.4" width="5.40" height="3.20" fill="#33b874"/><rect x="135.8" y="252.4" width="3.20" height="3.20" fill="#2a9aa0"/><rect x="138.0" y="252.4" width="7.60" height="3.20" fill="#30d52c"/><rect x="144.6" y="252.4" width="3.20" height="3.20" fill="#2a9aa0"/><rect x="30.2" y="254.6" width="58.20" height="3.20" fill="#c8f564"/><rect x="87.4" y="254.6" width="3.20" height="3.20" fill="#30d52c"/><rect x="89.6" y="254.6" width="5.40" height="3.20" fill="#2470b0"/><rect x="94.0" y="254.6" width="3.20" height="3.20" fill="#2a9aa0"/><rect x="96.2" y="254.6" width="3.20" height="3.20" fill="#33b874"/><rect x="98.4" y="254.6" width="5.40" height="3.20" fill="#30d52c"/><rect x="102.8" y="254.6" width="5.40" height="3.20" fill="#33b874"/><rect x="107.2" y="254.6" width="3.20" height="3.20" fill="#30d52c"/><rect x="109.4" y="254.6" width="3.20" height="3.20" fill="#33b874"/><rect x="111.6" y="254.6" width="3.20" height="3.20" fill="#2a9aa0"/><rect x="113.8" y="254.6" width="5.40" height="3.20" fill="#33b874"/><rect x="118.2" y="254.6" width="14.20" height="3.20" fill="#30d52c"/><rect x="131.4" y="254.6" width="7.60" height="3.20" fill="#33b874"/><rect x="138.0" y="254.6" width="3.20" height="3.20" fill="#30d52c"/><rect x="140.2" y="254.6" width="7.60" height="3.20" fill="#33b874"/><rect x="34.6" y="256.8" width="51.60" height="3.20" fill="#c8f564"/><rect x="85.2" y="256.8" width="3.20" height="3.20" fill="#70e62e"/><rect x="87.4" y="256.8" width="3.20" height="3.20" fill="#2a9aa0"/><rect x="89.6" y="256.8" width="3.20" height="3.20" fill="#2470b0"/><rect x="91.8" y="256.8" width="5.40" height="3.20" fill="#2a9aa0"/><rect x="96.2" y="256.8" width="3.20" height="3.20" fill="#33b874"/><rect x="98.4" y="256.8" width="3.20" height="3.20" fill="#70e62e"/><rect x="100.6" y="256.8" width="3.20" height="3.20" fill="#30d52c"/><rect x="102.8" y="256.8" width="5.40" height="3.20" fill="#33b874"/><rect x="107.2" y="256.8" width="3.20" height="3.20" fill="#30d52c"/><rect x="109.4" y="256.8" width="12.00" height="3.20" fill="#33b874"/><rect x="120.4" y="256.8" width="3.20" height="3.20" fill="#30d52c"/><rect x="122.6" y="256.8" width="3.20" height="3.20" fill="#33b874"/><rect x="124.8" y="256.8" width="7.60" height="3.20" fill="#30d52c"/><rect x="131.4" y="256.8" width="3.20" height="3.20" fill="#33b874"/><rect x="133.6" y="256.8" width="3.20" height="3.20" fill="#2a9aa0"/><rect x="135.8" y="256.8" width="3.20" height="3.20" fill="#33b874"/><rect x="138.0" y="256.8" width="3.20" height="3.20" fill="#30d52c"/><rect x="140.2" y="256.8" width="3.20" height="3.20" fill="#33b874"/><rect x="142.4" y="256.8" width="3.20" height="3.20" fill="#2a9aa0"/><rect x="144.6" y="256.8" width="3.20" height="3.20" fill="#33b874"/><rect x="36.8" y="259.0" width="9.80" height="3.20" fill="#70e62e"/><rect x="45.6" y="259.0" width="40.60" height="3.20" fill="#c8f564"/><rect x="85.2" y="259.0" width="3.20" height="3.20" fill="#30d52c"/><rect x="87.4" y="259.0" width="5.40" height="3.20" fill="#2a9aa0"/><rect x="91.8" y="259.0" width="3.20" height="3.20" fill="#33b874"/><rect x="94.0" y="259.0" width="3.20" height="3.20" fill="#2a9aa0"/><rect x="96.2" y="259.0" width="3.20" height="3.20" fill="#2470b0"/><rect x="98.4" y="259.0" width="5.40" height="3.20" fill="#33b874"/><rect x="102.8" y="259.0" width="3.20" height="3.20" fill="#30d52c"/><rect x="105.0" y="259.0" width="3.20" height="3.20" fill="#33b874"/><rect x="107.2" y="259.0" width="3.20" height="3.20" fill="#30d52c"/><rect x="109.4" y="259.0" width="3.20" height="3.20" fill="#33b874"/><rect x="111.6" y="259.0" width="3.20" height="3.20" fill="#2a9aa0"/><rect x="113.8" y="259.0" width="9.80" height="3.20" fill="#33b874"/><rect x="122.6" y="259.0" width="7.60" height="3.20" fill="#30d52c"/><rect x="129.2" y="259.0" width="5.40" height="3.20" fill="#33b874"/><rect x="133.6" y="259.0" width="5.40" height="3.20" fill="#2a9aa0"/><rect x="138.0" y="259.0" width="7.60" height="3.20" fill="#33b874"/><rect x="144.6" y="259.0" width="3.20" height="3.20" fill="#30d52c"/><rect x="39.0" y="261.2" width="9.80" height="3.20" fill="#70e62e"/><rect x="47.8" y="261.2" width="36.20" height="3.20" fill="#c8f564"/><rect x="83.0" y="261.2" width="3.20" height="3.20" fill="#30d52c"/><rect x="85.2" y="261.2" width="5.40" height="3.20" fill="#2a9aa0"/><rect x="89.6" y="261.2" width="14.20" height="3.20" fill="#33b874"/><rect x="102.8" y="261.2" width="3.20" height="3.20" fill="#30d52c"/><rect x="105.0" y="261.2" width="5.40" height="3.20" fill="#33b874"/><rect x="109.4" y="261.2" width="5.40" height="3.20" fill="#2a9aa0"/><rect x="113.8" y="261.2" width="9.80" height="3.20" fill="#33b874"/><rect x="122.6" y="261.2" width="3.20" height="3.20" fill="#70e62e"/><rect x="124.8" y="261.2" width="12.00" height="3.20" fill="#30d52c"/><rect x="135.8" y="261.2" width="12.00" height="3.20" fill="#2a9aa0"/><rect x="45.6" y="263.4" width="14.20" height="3.20" fill="#c8f564"/><rect x="58.8" y="263.4" width="5.40" height="3.20" fill="#70e62e"/><rect x="63.2" y="263.4" width="16.40" height="3.20" fill="#c8f564"/><rect x="78.6" y="263.4" width="3.20" height="3.20" fill="#33b874"/><rect x="80.8" y="263.4" width="3.20" height="3.20" fill="#2a9aa0"/><rect x="83.0" y="263.4" width="3.20" height="3.20" fill="#2470b0"/><rect x="85.2" y="263.4" width="3.20" height="3.20" fill="#1f409c"/><rect x="87.4" y="263.4" width="3.20" height="3.20" fill="#2470b0"/><rect x="89.6" y="263.4" width="5.40" height="3.20" fill="#2a9aa0"/><rect x="94.0" y="263.4" width="5.40" height="3.20" fill="#33b874"/><rect x="98.4" y="263.4" width="3.20" height="3.20" fill="#30d52c"/><rect x="100.6" y="263.4" width="5.40" height="3.20" fill="#33b874"/><rect x="105.0" y="263.4" width="5.40" height="3.20" fill="#30d52c"/><rect x="109.4" y="263.4" width="14.20" height="3.20" fill="#33b874"/><rect x="122.6" y="263.4" width="3.20" height="3.20" fill="#30d52c"/><rect x="124.8" y="263.4" width="5.40" height="3.20" fill="#33b874"/><rect x="129.2" y="263.4" width="3.20" height="3.20" fill="#2a9aa0"/><rect x="131.4" y="263.4" width="16.40" height="3.20" fill="#33b874"/><rect x="47.8" y="265.6" width="3.20" height="3.20" fill="#c8f564"/><rect x="50.0" y="265.6" width="7.60" height="3.20" fill="#70e62e"/><rect x="56.6" y="265.6" width="3.20" height="3.20" fill="#30d52c"/><rect x="58.8" y="265.6" width="5.40" height="3.20" fill="#2a9aa0"/><rect x="72.0" y="265.6" width="3.20" height="3.20" fill="#c8f564"/><rect x="74.2" y="265.6" width="5.40" height="3.20" fill="#70e62e"/><rect x="78.6" y="265.6" width="5.40" height="3.20" fill="#2470b0"/><rect x="83.0" y="265.6" width="5.40" height="3.20" fill="#1f409c"/><rect x="87.4" y="265.6" width="3.20" height="3.20" fill="#2470b0"/><rect x="89.6" y="265.6" width="3.20" height="3.20" fill="#2a9aa0"/><rect x="91.8" y="265.6" width="5.40" height="3.20" fill="#33b874"/><rect x="96.2" y="265.6" width="3.20" height="3.20" fill="#30d52c"/><rect x="98.4" y="265.6" width="7.60" height="3.20" fill="#33b874"/><rect x="105.0" y="265.6" width="3.20" height="3.20" fill="#30d52c"/><rect x="107.2" y="265.6" width="9.80" height="3.20" fill="#33b874"/><rect x="116.0" y="265.6" width="3.20" height="3.20" fill="#2a9aa0"/><rect x="118.2" y="265.6" width="9.80" height="3.20" fill="#33b874"/><rect x="127.0" y="265.6" width="5.40" height="3.20" fill="#2a9aa0"/><rect x="131.4" y="265.6" width="5.40" height="3.20" fill="#33b874"/><rect x="135.8" y="265.6" width="5.40" height="3.20" fill="#2a9aa0"/><rect x="140.2" y="265.6" width="5.40" height="3.20" fill="#33b874"/><rect x="144.6" y="265.6" width="3.20" height="3.20" fill="#2a9aa0"/><rect x="56.6" y="267.8" width="3.20" height="3.20" fill="#2a9aa0"/><rect x="58.8" y="267.8" width="3.20" height="3.20" fill="#1f409c"/><rect x="61.0" y="267.8" width="3.20" height="3.20" fill="#121274"/><rect x="74.2" y="267.8" width="5.40" height="3.20" fill="#70e62e"/><rect x="78.6" y="267.8" width="3.20" height="3.20" fill="#33b874"/><rect x="80.8" y="267.8" width="3.20" height="3.20" fill="#2a9aa0"/><rect x="83.0" y="267.8" width="3.20" height="3.20" fill="#121274"/><rect x="85.2" y="267.8" width="3.20" height="3.20" fill="#1f409c"/><rect x="87.4" y="267.8" width="3.20" height="3.20" fill="#33b874"/><rect x="89.6" y="267.8" width="7.60" height="3.20" fill="#30d52c"/><rect x="96.2" y="267.8" width="3.20" height="3.20" fill="#70e62e"/><rect x="98.4" y="267.8" width="16.40" height="3.20" fill="#33b874"/><rect x="113.8" y="267.8" width="5.40" height="3.20" fill="#2a9aa0"/><rect x="118.2" y="267.8" width="3.20" height="3.20" fill="#33b874"/><rect x="120.4" y="267.8" width="12.00" height="3.20" fill="#30d52c"/><rect x="131.4" y="267.8" width="5.40" height="3.20" fill="#33b874"/><rect x="135.8" y="267.8" width="3.20" height="3.20" fill="#2a9aa0"/><rect x="138.0" y="267.8" width="3.20" height="3.20" fill="#33b874"/><rect x="140.2" y="267.8" width="5.40" height="3.20" fill="#30d52c"/><rect x="58.8" y="270.0" width="3.20" height="3.20" fill="#30d52c"/><rect x="76.4" y="270.0" width="3.20" height="3.20" fill="#70e62e"/><rect x="78.6" y="270.0" width="3.20" height="3.20" fill="#2a9aa0"/><rect x="80.8" y="270.0" width="3.20" height="3.20" fill="#2470b0"/><rect x="83.0" y="270.0" width="3.20" height="3.20" fill="#121274"/><rect x="85.2" y="270.0" width="3.20" height="3.20" fill="#2470b0"/><rect x="87.4" y="270.0" width="5.40" height="3.20" fill="#33b874"/><rect x="91.8" y="270.0" width="3.20" height="3.20" fill="#30d52c"/><rect x="94.0" y="270.0" width="3.20" height="3.20" fill="#33b874"/><rect x="96.2" y="270.0" width="3.20" height="3.20" fill="#70e62e"/><rect x="98.4" y="270.0" width="3.20" height="3.20" fill="#2a9aa0"/><rect x="100.6" y="270.0" width="12.00" height="3.20" fill="#33b874"/><rect x="111.6" y="270.0" width="7.60" height="3.20" fill="#2a9aa0"/><rect x="118.2" y="270.0" width="3.20" height="3.20" fill="#30d52c"/><rect x="120.4" y="270.0" width="3.20" height="3.20" fill="#33b874"/><rect x="122.6" y="270.0" width="7.60" height="3.20" fill="#30d52c"/><rect x="129.2" y="270.0" width="7.60" height="3.20" fill="#33b874"/><rect x="135.8" y="270.0" width="3.20" height="3.20" fill="#2a9aa0"/><rect x="138.0" y="270.0" width="7.60" height="3.20" fill="#33b874"/><rect x="76.4" y="272.2" width="3.20" height="3.20" fill="#30d52c"/><rect x="78.6" y="272.2" width="3.20" height="3.20" fill="#2470b0"/><rect x="80.8" y="272.2" width="3.20" height="3.20" fill="#121274"/><rect x="83.0" y="272.2" width="3.20" height="3.20" fill="#1f409c"/><rect x="85.2" y="272.2" width="5.40" height="3.20" fill="#2a9aa0"/><rect x="89.6" y="272.2" width="3.20" height="3.20" fill="#33b874"/><rect x="91.8" y="272.2" width="3.20" height="3.20" fill="#30d52c"/><rect x="94.0" y="272.2" width="5.40" height="3.20" fill="#33b874"/><rect x="98.4" y="272.2" width="3.20" height="3.20" fill="#2a9aa0"/><rect x="100.6" y="272.2" width="12.00" height="3.20" fill="#33b874"/><rect x="111.6" y="272.2" width="3.20" height="3.20" fill="#2a9aa0"/><rect x="113.8" y="272.2" width="7.60" height="3.20" fill="#33b874"/><rect x="120.4" y="272.2" width="7.60" height="3.20" fill="#30d52c"/><rect x="127.0" y="272.2" width="7.60" height="3.20" fill="#33b874"/><rect x="133.6" y="272.2" width="5.40" height="3.20" fill="#2a9aa0"/><rect x="138.0" y="272.2" width="5.40" height="3.20" fill="#33b874"/><rect x="76.4" y="274.4" width="3.20" height="3.20" fill="#2a9aa0"/><rect x="78.6" y="274.4" width="5.40" height="3.20" fill="#2470b0"/><rect x="83.0" y="274.4" width="3.20" height="3.20" fill="#33b874"/><rect x="85.2" y="274.4" width="7.60" height="3.20" fill="#30d52c"/><rect x="91.8" y="274.4" width="3.20" height="3.20" fill="#33b874"/><rect x="94.0" y="274.4" width="3.20" height="3.20" fill="#2a9aa0"/><rect x="96.2" y="274.4" width="5.40" height="3.20" fill="#33b874"/><rect x="100.6" y="274.4" width="5.40" height="3.20" fill="#30d52c"/><rect x="105.0" y="274.4" width="18.60" height="3.20" fill="#33b874"/><rect x="122.6" y="274.4" width="3.20" height="3.20" fill="#70e62e"/><rect x="124.8" y="274.4" width="5.40" height="3.20" fill="#30d52c"/><rect x="129.2" y="274.4" width="5.40" height="3.20" fill="#33b874"/><rect x="133.6" y="274.4" width="5.40" height="3.20" fill="#2a9aa0"/><rect x="138.0" y="274.4" width="3.20" height="3.20" fill="#33b874"/><rect x="146.8" y="274.4" width="3.20" height="3.20" fill="#30d52c"/><rect x="76.4" y="276.6" width="3.20" height="3.20" fill="#1f409c"/><rect x="78.6" y="276.6" width="3.20" height="3.20" fill="#2470b0"/><rect x="80.8" y="276.6" width="5.40" height="3.20" fill="#33b874"/><rect x="85.2" y="276.6" width="5.40" height="3.20" fill="#30d52c"/><rect x="89.6" y="276.6" width="3.20" height="3.20" fill="#70e62e"/><rect x="91.8" y="276.6" width="3.20" height="3.20" fill="#2a9aa0"/><rect x="94.0" y="276.6" width="3.20" height="3.20" fill="#33b874"/><rect x="96.2" y="276.6" width="3.20" height="3.20" fill="#2a9aa0"/><rect x="98.4" y="276.6" width="5.40" height="3.20" fill="#30d52c"/><rect x="102.8" y="276.6" width="7.60" height="3.20" fill="#33b874"/><rect x="109.4" y="276.6" width="5.40" height="3.20" fill="#30d52c"/><rect x="113.8" y="276.6" width="3.20" height="3.20" fill="#33b874"/><rect x="116.0" y="276.6" width="3.20" height="3.20" fill="#30d52c"/><rect x="118.2" y="276.6" width="3.20" height="3.20" fill="#70e62e"/><rect x="120.4" y="276.6" width="3.20" height="3.20" fill="#30d52c"/><rect x="122.6" y="276.6" width="5.40" height="3.20" fill="#70e62e"/><rect x="127.0" y="276.6" width="5.40" height="3.20" fill="#30d52c"/><rect x="131.4" y="276.6" width="5.40" height="3.20" fill="#33b874"/><rect x="135.8" y="276.6" width="3.20" height="3.20" fill="#2a9aa0"/><rect x="138.0" y="276.6" width="3.20" height="3.20" fill="#33b874"/><rect x="144.6" y="276.6" width="7.60" height="3.20" fill="#30d52c"/><rect x="74.2" y="278.8" width="3.20" height="3.20" fill="#33b874"/><rect x="76.4" y="278.8" width="3.20" height="3.20" fill="#2470b0"/><rect x="78.6" y="278.8" width="3.20" height="3.20" fill="#2a9aa0"/><rect x="80.8" y="278.8" width="5.40" height="3.20" fill="#33b874"/><rect x="85.2" y="278.8" width="5.40" height="3.20" fill="#30d52c"/><rect x="89.6" y="278.8" width="3.20" height="3.20" fill="#70e62e"/><rect x="91.8" y="278.8" width="7.60" height="3.20" fill="#2a9aa0"/><rect x="98.4" y="278.8" width="3.20" height="3.20" fill="#30d52c"/><rect x="100.6" y="278.8" width="12.00" height="3.20" fill="#33b874"/><rect x="111.6" y="278.8" width="7.60" height="3.20" fill="#30d52c"/><rect x="118.2" y="278.8" width="3.20" height="3.20" fill="#70e62e"/><rect x="120.4" y="278.8" width="3.20" height="3.20" fill="#30d52c"/><rect x="122.6" y="278.8" width="5.40" height="3.20" fill="#70e62e"/><rect x="127.0" y="278.8" width="5.40" height="3.20" fill="#30d52c"/><rect x="131.4" y="278.8" width="5.40" height="3.20" fill="#33b874"/><rect x="135.8" y="278.8" width="3.20" height="3.20" fill="#2a9aa0"/><rect x="144.6" y="278.8" width="5.40" height="3.20" fill="#30d52c"/><rect x="74.2" y="281.0" width="3.20" height="3.20" fill="#33b874"/><rect x="76.4" y="281.0" width="3.20" height="3.20" fill="#2a9aa0"/><rect x="78.6" y="281.0" width="3.20" height="3.20" fill="#33b874"/><rect x="80.8" y="281.0" width="5.40" height="3.20" fill="#2a9aa0"/><rect x="85.2" y="281.0" width="3.20" height="3.20" fill="#2470b0"/><rect x="87.4" y="281.0" width="3.20" height="3.20" fill="#33b874"/><rect x="89.6" y="281.0" width="3.20" height="3.20" fill="#30d52c"/><rect x="91.8" y="281.0" width="9.80" height="3.20" fill="#33b874"/><rect x="100.6" y="281.0" width="7.60" height="3.20" fill="#2a9aa0"/><rect x="107.2" y="281.0" width="5.40" height="3.20" fill="#33b874"/><rect x="111.6" y="281.0" width="3.20" height="3.20" fill="#2a9aa0"/><rect x="113.8" y="281.0" width="5.40" height="3.20" fill="#2470b0"/><rect x="118.2" y="281.0" width="3.20" height="3.20" fill="#33b874"/><rect x="120.4" y="281.0" width="3.20" height="3.20" fill="#2a9aa0"/><rect x="122.6" y="281.0" width="5.40" height="3.20" fill="#33b874"/><rect x="127.0" y="281.0" width="5.40" height="3.20" fill="#70e62e"/><rect x="131.4" y="281.0" width="3.20" height="3.20" fill="#33b874"/><rect x="133.6" y="281.0" width="3.20" height="3.20" fill="#2a9aa0"/><rect x="144.6" y="281.0" width="3.20" height="3.20" fill="#30d52c"/><rect x="146.8" y="281.0" width="3.20" height="3.20" fill="#33b874"/><rect x="76.4" y="283.2" width="5.40" height="3.20" fill="#33b874"/><rect x="80.8" y="283.2" width="3.20" height="3.20" fill="#2a9aa0"/><rect x="83.0" y="283.2" width="3.20" height="3.20" fill="#33b874"/><rect x="85.2" y="283.2" width="3.20" height="3.20" fill="#2a9aa0"/><rect x="87.4" y="283.2" width="5.40" height="3.20" fill="#33b874"/><rect x="91.8" y="283.2" width="3.20" height="3.20" fill="#30d52c"/><rect x="94.0" y="283.2" width="3.20" height="3.20" fill="#33b874"/><rect x="96.2" y="283.2" width="3.20" height="3.20" fill="#30d52c"/><rect x="98.4" y="283.2" width="3.20" height="3.20" fill="#33b874"/><rect x="100.6" y="283.2" width="9.80" height="3.20" fill="#2470b0"/><rect x="109.4" y="283.2" width="3.20" height="3.20" fill="#2a9aa0"/><rect x="111.6" y="283.2" width="3.20" height="3.20" fill="#2470b0"/><rect x="113.8" y="283.2" width="3.20" height="3.20" fill="#1f409c"/><rect x="116.0" y="283.2" width="3.20" height="3.20" fill="#2470b0"/><rect x="118.2" y="283.2" width="3.20" height="3.20" fill="#33b874"/><rect x="120.4" y="283.2" width="3.20" height="3.20" fill="#2a9aa0"/><rect x="122.6" y="283.2" width="5.40" height="3.20" fill="#33b874"/><rect x="127.0" y="283.2" width="3.20" height="3.20" fill="#30d52c"/><rect x="129.2" y="283.2" width="3.20" height="3.20" fill="#70e62e"/><rect x="144.6" y="283.2" width="3.20" height="3.20" fill="#30d52c"/><rect x="78.6" y="285.4" width="5.40" height="3.20" fill="#33b874"/><rect x="83.0" y="285.4" width="3.20" height="3.20" fill="#30d52c"/><rect x="85.2" y="285.4" width="3.20" height="3.20" fill="#33b874"/><rect x="87.4" y="285.4" width="7.60" height="3.20" fill="#2a9aa0"/><rect x="98.4" y="285.4" width="5.40" height="3.20" fill="#1f409c"/><rect x="102.8" y="285.4" width="7.60" height="3.20" fill="#121274"/><rect x="109.4" y="285.4" width="3.20" height="3.20" fill="#2a9aa0"/><rect x="111.6" y="285.4" width="7.60" height="3.20" fill="#2470b0"/><rect x="118.2" y="285.4" width="5.40" height="3.20" fill="#30d52c"/><rect x="122.6" y="285.4" width="5.40" height="3.20" fill="#33b874"/><rect x="127.0" y="285.4" width="3.20" height="3.20" fill="#30d52c"/><rect x="78.6" y="287.6" width="3.20" height="3.20" fill="#2a9aa0"/><rect x="80.8" y="287.6" width="3.20" height="3.20" fill="#2470b0"/><rect x="83.0" y="287.6" width="3.20" height="3.20" fill="#33b874"/><rect x="85.2" y="287.6" width="3.20" height="3.20" fill="#70e62e"/><rect x="100.6" y="287.6" width="3.20" height="3.20" fill="#1f409c"/><rect x="102.8" y="287.6" width="5.40" height="3.20" fill="#121274"/><rect x="107.2" y="287.6" width="3.20" height="3.20" fill="#1f409c"/><rect x="109.4" y="287.6" width="5.40" height="3.20" fill="#2a9aa0"/><rect x="113.8" y="287.6" width="3.20" height="3.20" fill="#2470b0"/><rect x="116.0" y="287.6" width="3.20" height="3.20" fill="#2a9aa0"/><rect x="118.2" y="287.6" width="3.20" height="3.20" fill="#30d52c"/><rect x="120.4" y="287.6" width="3.20" height="3.20" fill="#33b874"/><rect x="122.6" y="287.6" width="3.20" height="3.20" fill="#2a9aa0"/><rect x="80.8" y="289.8" width="5.40" height="3.20" fill="#33b874"/><rect x="85.2" y="289.8" width="3.20" height="3.20" fill="#30d52c"/><rect x="102.8" y="289.8" width="9.80" height="3.20" fill="#2a9aa0"/><rect x="111.6" y="289.8" width="3.20" height="3.20" fill="#2470b0"/><rect x="113.8" y="289.8" width="5.40" height="3.20" fill="#2a9aa0"/><rect x="111.6" y="292.0" width="3.20" height="3.20" fill="#2a9aa0"/><rect x="111.6" y="294.2" width="3.20" height="3.20" fill="#33b874"/><rect x="113.8" y="294.2" width="3.20" height="3.20" fill="#2470b0"/><rect x="109.4" y="296.4" width="3.20" height="3.20" fill="#70e62e"/><rect x="111.6" y="296.4" width="3.20" height="3.20" fill="#30d52c"/><rect x="113.8" y="296.4" width="3.20" height="3.20" fill="#2a9aa0"/><rect x="107.2" y="298.6" width="5.40" height="3.20" fill="#30d52c"/><rect x="111.6" y="298.6" width="5.40" height="3.20" fill="#33b874"/><rect x="109.4" y="300.8" width="3.20" height="3.20" fill="#70e62e"/><rect x="111.6" y="300.8" width="3.20" height="3.20" fill="#33b874"/></g>
<polygon points="55.7,191.9 57.6,192.6 59.2,194.8 60.3,199.5 61.8,204.4 64.2,207.4 67.1,209.6 70.3,211.2 73.2,212.3 75.2,214.3 76.7,216.6 81.5,218.3 87.1,219.2 90.8,220.3 94.1,221.0 97.5,220.4 100.5,219.2 104.2,217.6 107.4,215.7 110.2,213.0 112.6,210.5 115.2,208.6 117.9,207.0 121.4,205.2 124.8,203.6 128.5,202.6 131.8,200.9 129.8,199.0 127.5,197.5 124.2,196.0 121.4,194.0 123.8,192.4 126.6,191.4 129.2,190.0 130.9,187.9 130.4,183.4 129.2,179.2 132.4,178.4 136.2,176.6 139.4,177.4 142.3,179.2 144.2,181.8 145.7,184.4 148.2,186.8 151.0,188.7 154.4,190.8 157.9,192.2 161.0,190.6 164.0,188.7 165.3,189.6 164.9,192.2 163.8,195.8 162.3,199.2 161.6,203.2 160.6,207.0 158.6,210.2 156.2,212.8 152.5,216.2 149.4,219.2 145.3,222.7 142.8,225.0 140.7,226.8 139.7,225.2 140.6,223.2 141.5,221.8 140.4,220.8 139.3,220.8 137.0,222.4 135.0,223.8 133.0,225.4 131.4,227.2 130.3,229.3 131.0,230.8 132.2,232.0 133.6,233.6 135.2,234.9 137.0,234.8 139.0,234.3 141.4,233.6 143.8,233.3 142.6,235.0 141.0,236.5 139.2,238.0 137.5,239.2 136.2,240.6 137.0,242.2 138.0,243.5 139.2,245.2 140.5,247.0 142.8,249.6 144.9,252.2 146.0,255.6 146.6,259.2 146.4,262.8 145.7,266.1 144.2,269.8 142.3,273.1 140.2,276.3 137.9,279.2 135.0,282.0 131.8,284.4 128.4,286.3 124.8,287.9 121.4,289.4 117.9,290.5 115.4,291.4 113.6,293.4 112.2,294.6 111.2,293.0 110.9,291.6 109.2,291.6 107.4,291.4 104.8,290.8 102.2,289.7 99.6,287.8 97.0,285.3 93.6,285.6 90.6,287.0 88.8,287.6 87.1,288.8 86.4,290.8 85.4,292.3 83.2,291.8 81.0,290.5 79.2,287.6 77.5,284.4 75.2,282.8 73.2,280.9 75.2,278.4 77.5,275.7 77.4,273.0 76.7,270.5 75.0,268.6 73.2,267.0 71.4,265.4 69.7,264.4 67.0,264.9 64.5,266.1 62.8,268.4 61.0,270.5 58.8,270.4 56.6,269.6 54.6,267.6 52.3,266.1 49.6,266.3 47.0,266.1 45.2,264.6 43.6,263.5 40.6,262.4 37.5,260.9 35.2,258.8 33.1,256.6 29.6,254.6 26.1,252.2 23.0,250.6 20.0,248.7 20.0,246.0 20.9,243.5 22.3,241.9 22.6,238.0 21.8,234.0 20.0,232.4 18.3,230.6 16.8,229.0 15.7,227.1 14.4,223.2 13.9,219.2 14.4,217.0 15.7,215.4 19.2,215.4 22.6,214.9 27.2,213.4 31.4,211.4 33.8,209.8 35.7,207.9 36.4,205.2 37.5,202.7 40.6,201.6 43.6,200.9 47.2,199.8 50.5,198.3 51.2,196.0 52.3,194.0 54.0,192.6" fill="none" stroke="#9aa58a" stroke-width="0.35"/>
<g fill="none" stroke="#8d9388" stroke-width="0.45" opacity="0.75">
<path d="M14.8 217.5C15.5 222 17.5 226 19.2 227C21.5 229.5 23.5 230.6 26.1 230.6C33 230.3 38 228.8 43.6 228C50 226.8 55 225.3 61 225.3C66 225.3 71 225.8 74.9 227.1C79.5 228.5 83 229.8 85.4 231.4C88.2 233.6 89.6 236 90.6 238.4L94.1 243.6"/>
<path d="M90 241.9L100.5 238.4L109.2 234.9L112.6 229.7L124.8 224.5L135.3 217.5L139 219.5"/>
<path d="M94.1 243.6C92 250 88 258 85 262C80 266 74 267 70 264.5"/>
</g>
<g fill="#777">
<rect x="120.5" y="305.6" width="0.8" height="0.8"/>
<rect x="122.0" y="307.2" width="0.8" height="0.8"/>
<rect x="124.6" y="306.1" width="0.8" height="0.8"/>
<rect x="126.2" y="308.4" width="0.8" height="0.8"/>
<rect x="131.5" y="307.5" width="0.8" height="0.8"/>
<rect x="133.0" y="308.8" width="0.8" height="0.8"/>
<rect x="138.5" y="307.0" width="0.8" height="0.8"/>
<rect x="143.0" y="306.4" width="0.8" height="0.8"/>
<rect x="147.0" y="305.4" width="0.8" height="0.8"/>
<rect x="149.4" y="300.2" width="0.8" height="0.8"/>
<rect x="148.6" y="296.0" width="0.8" height="0.8"/>
<rect x="134.0" y="292.3" width="0.8" height="0.8"/>
<rect x="137.4" y="293.2" width="0.8" height="0.8"/>
<rect x="150.2" y="289.6" width="0.8" height="0.8"/>
<rect x="120.2" y="309.4" width="0.8" height="0.8"/>
<rect x="128.4" y="309.9" width="0.8" height="0.8"/>
<rect x="140.4" y="309.6" width="0.8" height="0.8"/>
<rect x="146.2" y="309.1" width="0.8" height="0.8"/>
</g>
<rect x="154.0" y="274.9" width="24.0" height="37.3" rx="0.8" fill="#fff" stroke="#969696" stroke-width="0.9"/>
<g clip-path="url(#insetclip)">
<ellipse cx="162.2" cy="274.4" rx="7.6" ry="7.0" fill="#2a9aa0"/>
<ellipse cx="160.0" cy="274.0" rx="4.6" ry="3.4" fill="#30d52c"/>
<ellipse cx="158.2" cy="284.2" rx="1.3" ry="1.0" fill="#30d52c"/>
<ellipse cx="171.3" cy="276.4" rx="0.9" ry="2.2" fill="#30d52c"/>
</g>
<g fill="#666">
<rect x="160.2" y="288.2" width="0.8" height="0.8"/>
<rect x="162.4" y="288.8" width="0.8" height="0.8"/>
<rect x="165.5" y="287.4" width="0.8" height="0.8"/>
<rect x="168.2" y="291.8" width="0.8" height="0.8"/>
<rect x="166.4" y="293.6" width="0.8" height="0.8"/>
<rect x="164.6" y="295.2" width="0.8" height="0.8"/>
<rect x="162.8" y="296.8" width="0.8" height="0.8"/>
<rect x="161.0" y="298.2" width="0.8" height="0.8"/>
<rect x="165.6" y="297.6" width="0.8" height="0.8"/>
<rect x="167.3" y="294.6" width="0.8" height="0.8"/>
<rect x="169.5" y="293.0" width="0.8" height="0.8"/>
<rect x="163.4" y="301.2" width="0.8" height="0.8"/>
<rect x="166.2" y="300.0" width="0.8" height="0.8"/>
<rect x="170.4" y="284.4" width="0.8" height="0.8"/>
<rect x="169.8" y="280.2" width="0.8" height="0.8"/>
<rect x="164.4" y="292.0" width="0.8" height="0.8"/>
</g>
<text x="53.0" y="221.5" font-size="9.4" text-anchor="middle" font-weight="normal" fill="#111" stroke="#fff" stroke-width="2.1" stroke-linejoin="round" paint-order="stroke">I</text>
<text x="138.0" y="191.5" font-size="9.4" text-anchor="middle" font-weight="normal" fill="#111" stroke="#fff" stroke-width="2.1" stroke-linejoin="round" paint-order="stroke">II</text>
<text x="57.3" y="250.7" font-size="9.4" text-anchor="middle" font-weight="normal" fill="#111" stroke="#fff" stroke-width="2.1" stroke-linejoin="round" paint-order="stroke">III</text>
<text x="114.7" y="274.1" font-size="9.4" text-anchor="middle" font-weight="normal" fill="#111" stroke="#fff" stroke-width="2.1" stroke-linejoin="round" paint-order="stroke">IV</text>
<text x="13.6" y="192.2" font-size="17.2" text-anchor="start" font-weight="normal" fill="#000">(b)</text>
<text x="43.5" y="169.5" font-size="5.2" text-anchor="middle" font-weight="bold" fill="#222">80°0'0"E</text>
<text x="85.4" y="169.5" font-size="5.2" text-anchor="middle" font-weight="bold" fill="#222">100°0'0"E</text>
<text x="127.5" y="169.5" font-size="5.2" text-anchor="middle" font-weight="bold" fill="#222">120°0'0"E</text>
<text x="171.9" y="169.5" font-size="5.2" text-anchor="middle" font-weight="bold" fill="#222">140°0'0"E</text>
<text x="78.4" y="321.9" font-size="5.1" text-anchor="middle" font-weight="bold" fill="#222">100°0'0"E</text>
<text x="149.2" y="321.9" font-size="5.1" text-anchor="middle" font-weight="bold" fill="#222">120°0'0"E</text>
<text x="5.6" y="193.2" font-size="5.1" text-anchor="middle" font-weight="bold" fill="#222" transform="rotate(-90 5.6 193.2)">45°0'0"N</text>
<text x="184.1" y="194.2" font-size="5.1" text-anchor="middle" font-weight="bold" fill="#222" transform="rotate(90 184.1 194.2)">45°0'0"N</text>
<text x="5.6" y="249.6" font-size="5.1" text-anchor="middle" font-weight="bold" fill="#222" transform="rotate(-90 5.6 249.6)">30°0'0"N</text>
<text x="184.1" y="250.6" font-size="5.1" text-anchor="middle" font-weight="bold" fill="#222" transform="rotate(90 184.1 250.6)">30°0'0"N</text>
<text x="5.6" y="302.7" font-size="5.1" text-anchor="middle" font-weight="bold" fill="#222" transform="rotate(-90 5.6 302.7)">15°0'0"N</text>
<text x="184.1" y="303.7" font-size="5.1" text-anchor="middle" font-weight="bold" fill="#222" transform="rotate(90 184.1 303.7)">15°0'0"N</text>
<rect x="16.50" y="323.9" width="19.95" height="4.3" fill="#c8f564"/>
<rect x="36.25" y="323.9" width="19.95" height="4.3" fill="#70e62e"/>
<rect x="56.00" y="323.9" width="19.95" height="4.3" fill="#30d52c"/>
<rect x="75.75" y="323.9" width="19.95" height="4.3" fill="#33b874"/>
<rect x="95.50" y="323.9" width="19.95" height="4.3" fill="#2a9aa0"/>
<rect x="115.25" y="323.9" width="19.95" height="4.3" fill="#2470b0"/>
<rect x="135.00" y="323.9" width="19.95" height="4.3" fill="#1f409c"/>
<rect x="154.75" y="323.9" width="19.95" height="4.3" fill="#121274"/>
<rect x="16.50" y="323.9" width="158.0" height="4.3" fill="none" stroke="#666" stroke-width="0.5"/>
<line x1="36.25" y1="323.9" x2="36.25" y2="328.2" stroke="#666" stroke-width="0.4"/>
<text x="36.2" y="336.1" font-size="7.3" text-anchor="middle" font-weight="normal" fill="#000">10</text>
<line x1="56.00" y1="323.9" x2="56.00" y2="328.2" stroke="#666" stroke-width="0.4"/>
<text x="56.0" y="336.1" font-size="7.3" text-anchor="middle" font-weight="normal" fill="#000">20</text>
<line x1="75.75" y1="323.9" x2="75.75" y2="328.2" stroke="#666" stroke-width="0.4"/>
<text x="75.8" y="336.1" font-size="7.3" text-anchor="middle" font-weight="normal" fill="#000">30</text>
<line x1="95.50" y1="323.9" x2="95.50" y2="328.2" stroke="#666" stroke-width="0.4"/>
<text x="95.5" y="336.1" font-size="7.3" text-anchor="middle" font-weight="normal" fill="#000">40</text>
<line x1="115.25" y1="323.9" x2="115.25" y2="328.2" stroke="#666" stroke-width="0.4"/>
<text x="115.2" y="336.1" font-size="7.3" text-anchor="middle" font-weight="normal" fill="#000">50</text>
<line x1="135.00" y1="323.9" x2="135.00" y2="328.2" stroke="#666" stroke-width="0.4"/>
<text x="135.0" y="336.1" font-size="7.3" text-anchor="middle" font-weight="normal" fill="#000">60</text>
<line x1="154.75" y1="323.9" x2="154.75" y2="328.2" stroke="#666" stroke-width="0.4"/>
<text x="154.8" y="336.1" font-size="7.3" text-anchor="middle" font-weight="normal" fill="#000">70</text>
</g>
<g id="map-c" transform="translate(193.3 0)">
<rect x="8.7" y="171.8" width="172.8" height="143.5" fill="#fff" stroke="#a2a2a2" stroke-width="0.9"/>
<g clip-path="url(#frameclip)" fill="none" stroke="#c4c4c4" stroke-width="0.7" stroke-dasharray="0.9 2.1">
<path d="M43.5 171.8L9.6 302.7"/><path d="M85.4 171.8L78.4 315.3"/><path d="M127.5 171.8L149.2 315.3"/><path d="M171.9 171.8L183 200"/>
<path d="M8.7 194 Q50 209.5 95 209.8 T181.5 193"/>
<path d="M8.7 249.6 Q50 265 95 265.6 T181.5 249.6"/>
<path d="M8.7 302.7 Q45 312 95 316"/>
</g>
<g clip-path="url(#china)"><rect x="135.8" y="175.4" width="3.20" height="3.20" fill="#1eac80"/><rect x="129.2" y="177.6" width="7.60" height="3.20" fill="#16d622"/><rect x="135.8" y="177.6" width="7.60" height="3.20" fill="#9cee66"/><rect x="129.2" y="179.8" width="5.40" height="3.20" fill="#16d622"/><rect x="133.6" y="179.8" width="9.80" height="3.20" fill="#9cee66"/><rect x="142.4" y="179.8" width="3.20" height="3.20" fill="#16d622"/><rect x="129.2" y="182.0" width="3.20" height="3.20" fill="#1eac80"/><rect x="131.4" y="182.0" width="3.20" height="3.20" fill="#16d622"/><rect x="133.6" y="182.0" width="3.20" height="3.20" fill="#5ce628"/><rect x="135.8" y="182.0" width="5.40" height="3.20" fill="#9cee66"/><rect x="140.2" y="182.0" width="3.20" height="3.20" fill="#5ce628"/><rect x="142.4" y="182.0" width="3.20" height="3.20" fill="#9cee66"/><rect x="129.2" y="184.2" width="3.20" height="3.20" fill="#1e74a0"/><rect x="131.4" y="184.2" width="14.20" height="3.20" fill="#9cee66"/><rect x="144.6" y="184.2" width="3.20" height="3.20" fill="#16d622"/><rect x="129.2" y="186.4" width="3.20" height="3.20" fill="#1eac80"/><rect x="131.4" y="186.4" width="3.20" height="3.20" fill="#16d622"/><rect x="133.6" y="186.4" width="12.00" height="3.20" fill="#9cee66"/><rect x="144.6" y="186.4" width="3.20" height="3.20" fill="#1eac80"/><rect x="146.8" y="186.4" width="3.20" height="3.20" fill="#16d622"/><rect x="129.2" y="188.6" width="3.20" height="3.20" fill="#16d622"/><rect x="131.4" y="188.6" width="3.20" height="3.20" fill="#1eac80"/><rect x="133.6" y="188.6" width="3.20" height="3.20" fill="#1e74a0"/><rect x="135.8" y="188.6" width="3.20" height="3.20" fill="#9cee66"/><rect x="138.0" y="188.6" width="3.20" height="3.20" fill="#1eac80"/><rect x="140.2" y="188.6" width="3.20" height="3.20" fill="#f9e6a4"/><rect x="142.4" y="188.6" width="3.20" height="3.20" fill="#1e74a0"/><rect x="144.6" y="188.6" width="3.20" height="3.20" fill="#1eac80"/><rect x="146.8" y="188.6" width="7.60" height="3.20" fill="#9cee66"/><rect x="162.2" y="188.6" width="3.20" height="3.20" fill="#1e74a0"/><rect x="54.4" y="190.8" width="3.20" height="3.20" fill="#f6a20c"/><rect x="124.8" y="190.8" width="3.20" height="3.20" fill="#1eac80"/><rect x="127.0" y="190.8" width="5.40" height="3.20" fill="#16d622"/><rect x="131.4" y="190.8" width="9.80" height="3.20" fill="#1eac80"/><rect x="140.2" y="190.8" width="5.40" height="3.20" fill="#1e74a0"/><rect x="144.6" y="190.8" width="3.20" height="3.20" fill="#1eac80"/><rect x="146.8" y="190.8" width="9.80" height="3.20" fill="#9cee66"/><rect x="155.6" y="190.8" width="3.20" height="3.20" fill="#1e74a0"/><rect x="157.8" y="190.8" width="5.40" height="3.20" fill="#f9e6a4"/><rect x="162.2" y="190.8" width="5.40" height="3.20" fill="#1e74a0"/><rect x="52.2" y="193.0" width="7.60" height="3.20" fill="#9cee66"/><rect x="122.6" y="193.0" width="3.20" height="3.20" fill="#1eac80"/><rect x="124.8" y="193.0" width="3.20" height="3.20" fill="#1e74a0"/><rect x="127.0" y="193.0" width="5.40" height="3.20" fill="#1eac80"/><rect x="131.4" y="193.0" width="5.40" height="3.20" fill="#16d622"/><rect x="135.8" y="193.0" width="9.80" height="3.20" fill="#1eac80"/><rect x="144.6" y="193.0" width="5.40" height="3.20" fill="#16d622"/><rect x="149.0" y="193.0" width="3.20" height="3.20" fill="#1e74a0"/><rect x="151.2" y="193.0" width="7.60" height="3.20" fill="#1eac80"/><rect x="157.8" y="193.0" width="5.40" height="3.20" fill="#f9e6a4"/><rect x="162.2" y="193.0" width="3.20" height="3.20" fill="#1e74a0"/><rect x="50.0" y="195.2" width="12.00" height="3.20" fill="#9cee66"/><rect x="124.8" y="195.2" width="3.20" height="3.20" fill="#1e74a0"/><rect x="127.0" y="195.2" width="5.40" height="3.20" fill="#1eac80"/><rect x="131.4" y="195.2" width="5.40" height="3.20" fill="#16d622"/><rect x="135.8" y="195.2" width="9.80" height="3.20" fill="#1eac80"/><rect x="144.6" y="195.2" width="5.40" height="3.20" fill="#16d622"/><rect x="149.0" y="195.2" width="3.20" height="3.20" fill="#1eac80"/><rect x="151.2" y="195.2" width="7.60" height="3.20" fill="#f6a20c"/><rect x="157.8" y="195.2" width="7.60" height="3.20" fill="#1eac80"/><rect x="50.0" y="197.4" width="12.00" height="3.20" fill="#9cee66"/><rect x="129.2" y="197.4" width="7.60" height="3.20" fill="#1eac80"/><rect x="135.8" y="197.4" width="3.20" height="3.20" fill="#5ce628"/><rect x="138.0" y="197.4" width="7.60" height="3.20" fill="#16d622"/><rect x="144.6" y="197.4" width="5.40" height="3.20" fill="#1eac80"/><rect x="149.0" y="197.4" width="3.20" height="3.20" fill="#f9e6a4"/><rect x="151.2" y="197.4" width="9.80" height="3.20" fill="#f6a20c"/><rect x="160.0" y="197.4" width="3.20" height="3.20" fill="#1eac80"/><rect x="41.2" y="199.6" width="20.80" height="3.20" fill="#9cee66"/><rect x="129.2" y="199.6" width="7.60" height="3.20" fill="#1eac80"/><rect x="135.8" y="199.6" width="5.40" height="3.20" fill="#16d622"/><rect x="140.2" y="199.6" width="3.20" height="3.20" fill="#5ce628"/><rect x="142.4" y="199.6" width="3.20" height="3.20" fill="#16d622"/><rect x="144.6" y="199.6" width="5.40" height="3.20" fill="#1eac80"/><rect x="149.0" y="199.6" width="3.20" height="3.20" fill="#f9e6a4"/><rect x="151.2" y="199.6" width="9.80" height="3.20" fill="#f6a20c"/><rect x="160.0" y="199.6" width="3.20" height="3.20" fill="#1eac80"/><rect x="36.8" y="201.8" width="3.20" height="3.20" fill="#5ce628"/><rect x="39.0" y="201.8" width="23.00" height="3.20" fill="#9cee66"/><rect x="124.8" y="201.8" width="7.60" height="3.20" fill="#16d622"/><rect x="131.4" y="201.8" width="5.40" height="3.20" fill="#1eac80"/><rect x="135.8" y="201.8" width="5.40" height="3.20" fill="#1e74a0"/><rect x="140.2" y="201.8" width="9.80" height="3.20" fill="#1eac80"/><rect x="149.0" y="201.8" width="12.00" height="3.20" fill="#f6a20c"/><rect x="160.0" y="201.8" width="3.20" height="3.20" fill="#16d622"/><rect x="36.8" y="204.0" width="14.20" height="3.20" fill="#5ce628"/><rect x="50.0" y="204.0" width="14.20" height="3.20" fill="#9cee66"/><rect x="120.4" y="204.0" width="5.40" height="3.20" fill="#5ce628"/><rect x="124.8" y="204.0" width="7.60" height="3.20" fill="#16d622"/><rect x="131.4" y="204.0" width="3.20" height="3.20" fill="#1eac80"/><rect x="133.6" y="204.0" width="7.60" height="3.20" fill="#1e74a0"/><rect x="140.2" y="204.0" width="7.60" height="3.20" fill="#1eac80"/><rect x="146.8" y="204.0" width="14.20" height="3.20" fill="#f6a20c"/><rect x="160.0" y="204.0" width="3.20" height="3.20" fill="#16d622"/><rect x="34.6" y="206.2" width="18.60" height="3.20" fill="#5ce628"/><rect x="52.2" y="206.2" width="14.20" height="3.20" fill="#9cee66"/><rect x="116.0" y="206.2" width="5.40" height="3.20" fill="#16d622"/><rect x="120.4" y="206.2" width="7.60" height="3.20" fill="#5ce628"/><rect x="127.0" y="206.2" width="9.80" height="3.20" fill="#16d622"/><rect x="135.8" y="206.2" width="12.00" height="3.20" fill="#1e74a0"/><rect x="146.8" y="206.2" width="14.20" height="3.20" fill="#f6a20c"/><rect x="34.6" y="208.4" width="16.40" height="3.20" fill="#5ce628"/><rect x="50.0" y="208.4" width="18.60" height="3.20" fill="#9cee66"/><rect x="113.8" y="208.4" width="3.20" height="3.20" fill="#16d622"/><rect x="116.0" y="208.4" width="3.20" height="3.20" fill="#1eac80"/><rect x="118.2" y="208.4" width="9.80" height="3.20" fill="#5ce628"/><rect x="127.0" y="208.4" width="5.40" height="3.20" fill="#16d622"/><rect x="131.4" y="208.4" width="5.40" height="3.20" fill="#1eac80"/><rect x="135.8" y="208.4" width="7.60" height="3.20" fill="#1e74a0"/><rect x="142.4" y="208.4" width="3.20" height="3.20" fill="#1eac80"/><rect x="144.6" y="208.4" width="3.20" height="3.20" fill="#1e74a0"/><rect x="146.8" y="208.4" width="14.20" height="3.20" fill="#f6a20c"/><rect x="30.2" y="210.6" width="3.20" height="3.20" fill="#9cee66"/><rect x="32.4" y="210.6" width="16.40" height="3.20" fill="#5ce628"/><rect x="47.8" y="210.6" width="12.00" height="3.20" fill="#f9e6a4"/><rect x="58.8" y="210.6" width="12.00" height="3.20" fill="#9cee66"/><rect x="69.8" y="210.6" width="3.20" height="3.20" fill="#5ce628"/><rect x="111.6" y="210.6" width="14.20" height="3.20" fill="#16d622"/><rect x="124.8" y="210.6" width="3.20" height="3.20" fill="#1eac80"/><rect x="127.0" y="210.6" width="5.40" height="3.20" fill="#16d622"/><rect x="131.4" y="210.6" width="9.80" height="3.20" fill="#1eac80"/><rect x="140.2" y="210.6" width="5.40" height="3.20" fill="#16d622"/><rect x="144.6" y="210.6" width="5.40" height="3.20" fill="#5ce628"/><rect x="149.0" y="210.6" width="5.40" height="3.20" fill="#f6a20c"/><rect x="153.4" y="210.6" width="5.40" height="3.20" fill="#16d622"/><rect x="23.6" y="212.8" width="5.40" height="3.20" fill="#9cee66"/><rect x="28.0" y="212.8" width="3.20" height="3.20" fill="#5ce628"/><rect x="30.2" y="212.8" width="5.40" height="3.20" fill="#9cee66"/><rect x="34.6" y="212.8" width="5.40" height="3.20" fill="#5ce628"/><rect x="39.0" y="212.8" width="9.80" height="3.20" fill="#9cee66"/><rect x="47.8" y="212.8" width="7.60" height="3.20" fill="#f9e6a4"/><rect x="54.4" y="212.8" width="3.20" height="3.20" fill="#9cee66"/><rect x="56.6" y="212.8" width="3.20" height="3.20" fill="#f9e6a4"/><rect x="58.8" y="212.8" width="14.20" height="3.20" fill="#9cee66"/><rect x="72.0" y="212.8" width="3.20" height="3.20" fill="#5ce628"/><rect x="109.4" y="212.8" width="5.40" height="3.20" fill="#16d622"/><rect x="113.8" y="212.8" width="3.20" height="3.20" fill="#1eac80"/><rect x="116.0" y="212.8" width="7.60" height="3.20" fill="#16d622"/><rect x="122.6" y="212.8" width="18.60" height="3.20" fill="#1eac80"/><rect x="140.2" y="212.8" width="7.60" height="3.20" fill="#16d622"/><rect x="146.8" y="212.8" width="3.20" height="3.20" fill="#5ce628"/><rect x="149.0" y="212.8" width="7.60" height="3.20" fill="#16d622"/><rect x="14.8" y="215.0" width="5.40" height="3.20" fill="#9cee66"/><rect x="19.2" y="215.0" width="7.60" height="3.20" fill="#5ce628"/><rect x="25.8" y="215.0" width="12.00" height="3.20" fill="#9cee66"/><rect x="36.8" y="215.0" width="3.20" height="3.20" fill="#5ce628"/><rect x="39.0" y="215.0" width="7.60" height="3.20" fill="#9cee66"/><rect x="45.6" y="215.0" width="20.80" height="3.20" fill="#f9e6a4"/><rect x="65.4" y="215.0" width="5.40" height="3.20" fill="#9cee66"/><rect x="69.8" y="215.0" width="5.40" height="3.20" fill="#5ce628"/><rect x="74.2" y="215.0" width="3.20" height="3.20" fill="#9cee66"/><rect x="105.0" y="215.0" width="9.80" height="3.20" fill="#1eac80"/><rect x="113.8" y="215.0" width="5.40" height="3.20" fill="#1e74a0"/><rect x="118.2" y="215.0" width="7.60" height="3.20" fill="#1eac80"/><rect x="124.8" y="215.0" width="3.20" height="3.20" fill="#1e74a0"/><rect x="127.0" y="215.0" width="5.40" height="3.20" fill="#1eac80"/><rect x="131.4" y="215.0" width="5.40" height="3.20" fill="#1e74a0"/><rect x="135.8" y="215.0" width="9.80" height="3.20" fill="#16d622"/><rect x="144.6" y="215.0" width="7.60" height="3.20" fill="#5ce628"/><rect x="151.2" y="215.0" width="3.20" height="3.20" fill="#16d622"/><rect x="12.6" y="217.2" width="5.40" height="3.20" fill="#9cee66"/><rect x="17.0" y="217.2" width="9.80" height="3.20" fill="#5ce628"/><rect x="25.8" y="217.2" width="9.80" height="3.20" fill="#9cee66"/><rect x="34.6" y="217.2" width="3.20" height="3.20" fill="#5ce628"/><rect x="36.8" y="217.2" width="7.60" height="3.20" fill="#9cee66"/><rect x="43.4" y="217.2" width="23.00" height="3.20" fill="#f9e6a4"/><rect x="65.4" y="217.2" width="5.40" height="3.20" fill="#9cee66"/><rect x="69.8" y="217.2" width="5.40" height="3.20" fill="#5ce628"/><rect x="74.2" y="217.2" width="12.00" height="3.20" fill="#9cee66"/><rect x="100.6" y="217.2" width="9.80" height="3.20" fill="#1eac80"/><rect x="109.4" y="217.2" width="3.20" height="3.20" fill="#1e74a0"/><rect x="111.6" y="217.2" width="3.20" height="3.20" fill="#1eac80"/><rect x="113.8" y="217.2" width="5.40" height="3.20" fill="#1e74a0"/><rect x="118.2" y="217.2" width="5.40" height="3.20" fill="#1eac80"/><rect x="122.6" y="217.2" width="5.40" height="3.20" fill="#1e74a0"/><rect x="127.0" y="217.2" width="3.20" height="3.20" fill="#16d622"/><rect x="129.2" y="217.2" width="3.20" height="3.20" fill="#1eac80"/><rect x="131.4" y="217.2" width="5.40" height="3.20" fill="#1e74a0"/><rect x="135.8" y="217.2" width="9.80" height="3.20" fill="#16d622"/><rect x="144.6" y="217.2" width="3.20" height="3.20" fill="#5ce628"/><rect x="146.8" y="217.2" width="3.20" height="3.20" fill="#16d622"/><rect x="149.0" y="217.2" width="3.20" height="3.20" fill="#5ce628"/><rect x="12.6" y="219.4" width="5.40" height="3.20" fill="#9cee66"/><rect x="17.0" y="219.4" width="12.00" height="3.20" fill="#5ce628"/><rect x="28.0" y="219.4" width="3.20" height="3.20" fill="#9cee66"/><rect x="30.2" y="219.4" width="9.80" height="3.20" fill="#f9e6a4"/><rect x="39.0" y="219.4" width="5.40" height="3.20" fill="#9cee66"/><rect x="43.4" y="219.4" width="9.80" height="3.20" fill="#f9e6a4"/><rect x="52.2" y="219.4" width="3.20" height="3.20" fill="#9cee66"/><rect x="54.4" y="219.4" width="12.00" height="3.20" fill="#f9e6a4"/><rect x="65.4" y="219.4" width="5.40" height="3.20" fill="#9cee66"/><rect x="69.8" y="219.4" width="18.60" height="3.20" fill="#5ce628"/><rect x="87.4" y="219.4" width="5.40" height="3.20" fill="#16d622"/><rect x="91.8" y="219.4" width="5.40" height="3.20" fill="#1eac80"/><rect x="96.2" y="219.4" width="5.40" height="3.20" fill="#16d622"/><rect x="100.6" y="219.4" width="7.60" height="3.20" fill="#1eac80"/><rect x="107.2" y="219.4" width="16.40" height="3.20" fill="#1e74a0"/><rect x="122.6" y="219.4" width="5.40" height="3.20" fill="#141e80"/><rect x="127.0" y="219.4" width="14.20" height="3.20" fill="#1eac80"/><rect x="140.2" y="219.4" width="3.20" height="3.20" fill="#f6a20c"/><rect x="142.4" y="219.4" width="3.20" height="3.20" fill="#1eac80"/><rect x="144.6" y="219.4" width="3.20" height="3.20" fill="#16d622"/><rect x="146.8" y="219.4" width="3.20" height="3.20" fill="#5ce628"/><rect x="12.6" y="221.6" width="9.80" height="3.20" fill="#9cee66"/><rect x="21.4" y="221.6" width="5.40" height="3.20" fill="#5ce628"/><rect x="25.8" y="221.6" width="3.20" height="3.20" fill="#f6a20c"/><rect x="28.0" y="221.6" width="3.20" height="3.20" fill="#9cee66"/><rect x="30.2" y="221.6" width="9.80" height="3.20" fill="#f9e6a4"/><rect x="39.0" y="221.6" width="5.40" height="3.20" fill="#9cee66"/><rect x="43.4" y="221.6" width="16.40" height="3.20" fill="#f9e6a4"/><rect x="58.8" y="221.6" width="3.20" height="3.20" fill="#9cee66"/><rect x="61.0" y="221.6" width="5.40" height="3.20" fill="#f9e6a4"/><rect x="65.4" y="221.6" width="5.40" height="3.20" fill="#9cee66"/><rect x="69.8" y="221.6" width="9.80" height="3.20" fill="#5ce628"/><rect x="78.6" y="221.6" width="9.80" height="3.20" fill="#16d622"/><rect x="87.4" y="221.6" width="9.80" height="3.20" fill="#1eac80"/><rect x="96.2" y="221.6" width="5.40" height="3.20" fill="#16d622"/><rect x="100.6" y="221.6" width="5.40" height="3.20" fill="#1eac80"/><rect x="105.0" y="221.6" width="16.40" height="3.20" fill="#1e74a0"/><rect x="120.4" y="221.6" width="3.20" height="3.20" fill="#1eac80"/><rect x="122.6" y="221.6" width="3.20" height="3.20" fill="#1e74a0"/><rect x="124.8" y="221.6" width="3.20" height="3.20" fill="#141e80"/><rect x="127.0" y="221.6" width="12.00" height="3.20" fill="#1eac80"/><rect x="140.2" y="221.6" width="3.20" height="3.20" fill="#f6a20c"/><rect x="142.4" y="221.6" width="3.20" height="3.20" fill="#1e74a0"/><rect x="14.8" y="223.8" width="16.40" height="3.20" fill="#9cee66"/><rect x="30.2" y="223.8" width="9.80" height="3.20" fill="#f9e6a4"/><rect x="39.0" y="223.8" width="5.40" height="3.20" fill="#9cee66"/><rect x="43.4" y="223.8" width="9.80" height="3.20" fill="#f9e6a4"/><rect x="52.2" y="223.8" width="3.20" height="3.20" fill="#9cee66"/><rect x="54.4" y="223.8" width="12.00" height="3.20" fill="#f9e6a4"/><rect x="65.4" y="223.8" width="5.40" height="3.20" fill="#9cee66"/><rect x="69.8" y="223.8" width="7.60" height="3.20" fill="#5ce628"/><rect x="76.4" y="223.8" width="5.40" height="3.20" fill="#16d622"/><rect x="80.8" y="223.8" width="3.20" height="3.20" fill="#1eac80"/><rect x="83.0" y="223.8" width="9.80" height="3.20" fill="#1e74a0"/><rect x="91.8" y="223.8" width="3.20" height="3.20" fill="#16d622"/><rect x="94.0" y="223.8" width="3.20" height="3.20" fill="#1eac80"/><rect x="96.2" y="223.8" width="5.40" height="3.20" fill="#16d622"/><rect x="100.6" y="223.8" width="5.40" height="3.20" fill="#1e74a0"/><rect x="105.0" y="223.8" width="5.40" height="3.20" fill="#1eac80"/><rect x="109.4" y="223.8" width="3.20" height="3.20" fill="#1e74a0"/><rect x="111.6" y="223.8" width="7.60" height="3.20" fill="#1eac80"/><rect x="118.2" y="223.8" width="16.40" height="3.20" fill="#1e74a0"/><rect x="140.2" y="223.8" width="3.20" height="3.20" fill="#1eac80"/><rect x="14.8" y="226.0" width="16.40" height="3.20" fill="#9cee66"/><rect x="30.2" y="226.0" width="9.80" height="3.20" fill="#f9e6a4"/><rect x="39.0" y="226.0" width="5.40" height="3.20" fill="#9cee66"/><rect x="43.4" y="226.0" width="5.40" height="3.20" fill="#5ce628"/><rect x="47.8" y="226.0" width="20.80" height="3.20" fill="#9cee66"/><rect x="67.6" y="226.0" width="5.40" height="3.20" fill="#5ce628"/><rect x="72.0" y="226.0" width="5.40" height="3.20" fill="#16d622"/><rect x="76.4" y="226.0" width="5.40" height="3.20" fill="#1eac80"/><rect x="80.8" y="226.0" width="9.80" height="3.20" fill="#1e74a0"/><rect x="89.6" y="226.0" width="3.20" height="3.20" fill="#141e80"/><rect x="91.8" y="226.0" width="9.80" height="3.20" fill="#16d622"/><rect x="100.6" y="226.0" width="18.60" height="3.20" fill="#1eac80"/><rect x="118.2" y="226.0" width="14.20" height="3.20" fill="#1e74a0"/><rect x="17.0" y="228.2" width="40.60" height="3.20" fill="#9cee66"/><rect x="56.6" y="228.2" width="5.40" height="3.20" fill="#5ce628"/><rect x="61.0" y="228.2" width="12.00" height="3.20" fill="#9cee66"/><rect x="72.0" y="228.2" width="3.20" height="3.20" fill="#5ce628"/><rect x="74.2" y="228.2" width="9.80" height="3.20" fill="#16d622"/><rect x="83.0" y="228.2" width="5.40" height="3.20" fill="#1eac80"/><rect x="87.4" y="228.2" width="5.40" height="3.20" fill="#16d622"/><rect x="91.8" y="228.2" width="5.40" height="3.20" fill="#1eac80"/><rect x="96.2" y="228.2" width="5.40" height="3.20" fill="#1e74a0"/><rect x="100.6" y="228.2" width="3.20" height="3.20" fill="#1eac80"/><rect x="102.8" y="228.2" width="3.20" height="3.20" fill="#1e74a0"/><rect x="105.0" y="228.2" width="5.40" height="3.20" fill="#1eac80"/><rect x="109.4" y="228.2" width="3.20" height="3.20" fill="#16d622"/><rect x="111.6" y="228.2" width="7.60" height="3.20" fill="#1eac80"/><rect x="118.2" y="228.2" width="9.80" height="3.20" fill="#16d622"/><rect x="127.0" y="228.2" width="3.20" height="3.20" fill="#1eac80"/><rect x="129.2" y="228.2" width="3.20" height="3.20" fill="#16d622"/><rect x="19.2" y="230.4" width="7.60" height="3.20" fill="#9cee66"/><rect x="25.8" y="230.4" width="7.60" height="3.20" fill="#f9e6a4"/><rect x="32.4" y="230.4" width="25.20" height="3.20" fill="#9cee66"/><rect x="56.6" y="230.4" width="5.40" height="3.20" fill="#f9e6a4"/><rect x="61.0" y="230.4" width="9.80" height="3.20" fill="#9cee66"/><rect x="69.8" y="230.4" width="5.40" height="3.20" fill="#5ce628"/><rect x="74.2" y="230.4" width="3.20" height="3.20" fill="#16d622"/><rect x="76.4" y="230.4" width="3.20" height="3.20" fill="#1eac80"/><rect x="78.6" y="230.4" width="3.20" height="3.20" fill="#16d622"/><rect x="80.8" y="230.4" width="5.40" height="3.20" fill="#1eac80"/><rect x="85.2" y="230.4" width="7.60" height="3.20" fill="#16d622"/><rect x="91.8" y="230.4" width="3.20" height="3.20" fill="#1eac80"/><rect x="94.0" y="230.4" width="25.20" height="3.20" fill="#1e74a0"/><rect x="118.2" y="230.4" width="14.20" height="3.20" fill="#16d622"/><rect x="21.4" y="232.6" width="5.40" height="3.20" fill="#9cee66"/><rect x="25.8" y="232.6" width="7.60" height="3.20" fill="#f9e6a4"/><rect x="32.4" y="232.6" width="25.20" height="3.20" fill="#9cee66"/><rect x="56.6" y="232.6" width="3.20" height="3.20" fill="#f9e6a4"/><rect x="58.8" y="232.6" width="9.80" height="3.20" fill="#9cee66"/><rect x="67.6" y="232.6" width="7.60" height="3.20" fill="#5ce628"/><rect x="74.2" y="232.6" width="9.80" height="3.20" fill="#16d622"/><rect x="83.0" y="232.6" width="5.40" height="3.20" fill="#1eac80"/><rect x="87.4" y="232.6" width="3.20" height="3.20" fill="#16d622"/><rect x="89.6" y="232.6" width="3.20" height="3.20" fill="#1eac80"/><rect x="91.8" y="232.6" width="9.80" height="3.20" fill="#1e74a0"/><rect x="100.6" y="232.6" width="9.80" height="3.20" fill="#141e80"/><rect x="109.4" y="232.6" width="7.60" height="3.20" fill="#1e74a0"/><rect x="116.0" y="232.6" width="3.20" height="3.20" fill="#1eac80"/><rect x="118.2" y="232.6" width="3.20" height="3.20" fill="#1e74a0"/><rect x="120.4" y="232.6" width="5.40" height="3.20" fill="#1eac80"/><rect x="124.8" y="232.6" width="3.20" height="3.20" fill="#16d622"/><rect x="127.0" y="232.6" width="5.40" height="3.20" fill="#1eac80"/><rect x="131.4" y="232.6" width="3.20" height="3.20" fill="#16d622"/><rect x="138.0" y="232.6" width="3.20" height="3.20" fill="#16d622"/><rect x="140.2" y="232.6" width="5.40" height="3.20" fill="#1e74a0"/><rect x="21.4" y="234.8" width="5.40" height="3.20" fill="#9cee66"/><rect x="25.8" y="234.8" width="5.40" height="3.20" fill="#f9e6a4"/><rect x="30.2" y="234.8" width="38.40" height="3.20" fill="#9cee66"/><rect x="67.6" y="234.8" width="5.40" height="3.20" fill="#5ce628"/><rect x="72.0" y="234.8" width="9.80" height="3.20" fill="#16d622"/><rect x="80.8" y="234.8" width="12.00" height="3.20" fill="#1eac80"/><rect x="91.8" y="234.8" width="9.80" height="3.20" fill="#1e74a0"/><rect x="100.6" y="234.8" width="9.80" height="3.20" fill="#141e80"/><rect x="109.4" y="234.8" width="3.20" height="3.20" fill="#1e74a0"/><rect x="111.6" y="234.8" width="3.20" height="3.20" fill="#141e80"/><rect x="113.8" y="234.8" width="9.80" height="3.20" fill="#1e74a0"/><rect x="122.6" y="234.8" width="9.80" height="3.20" fill="#1eac80"/><rect x="131.4" y="234.8" width="7.60" height="3.20" fill="#16d622"/><rect x="138.0" y="234.8" width="5.40" height="3.20" fill="#1eac80"/><rect x="21.4" y="237.0" width="3.20" height="3.20" fill="#9cee66"/><rect x="23.6" y="237.0" width="3.20" height="3.20" fill="#f9e6a4"/><rect x="25.8" y="237.0" width="40.60" height="3.20" fill="#9cee66"/><rect x="65.4" y="237.0" width="5.40" height="3.20" fill="#5ce628"/><rect x="69.8" y="237.0" width="3.20" height="3.20" fill="#16d622"/><rect x="72.0" y="237.0" width="7.60" height="3.20" fill="#1eac80"/><rect x="78.6" y="237.0" width="5.40" height="3.20" fill="#16d622"/><rect x="83.0" y="237.0" width="5.40" height="3.20" fill="#1eac80"/><rect x="87.4" y="237.0" width="9.80" height="3.20" fill="#1e74a0"/><rect x="96.2" y="237.0" width="5.40" height="3.20" fill="#141e80"/><rect x="100.6" y="237.0" width="3.20" height="3.20" fill="#1e74a0"/><rect x="102.8" y="237.0" width="3.20" height="3.20" fill="#141e80"/><rect x="105.0" y="237.0" width="5.40" height="3.20" fill="#1e74a0"/><rect x="109.4" y="237.0" width="9.80" height="3.20" fill="#141e80"/><rect x="118.2" y="237.0" width="3.20" height="3.20" fill="#1e74a0"/><rect x="120.4" y="237.0" width="5.40" height="3.20" fill="#1eac80"/><rect x="124.8" y="237.0" width="12.00" height="3.20" fill="#16d622"/><rect x="135.8" y="237.0" width="5.40" height="3.20" fill="#1e74a0"/><rect x="21.4" y="239.2" width="18.60" height="3.20" fill="#9cee66"/><rect x="39.0" y="239.2" width="7.60" height="3.20" fill="#f9e6a4"/><rect x="45.6" y="239.2" width="3.20" height="3.20" fill="#9cee66"/><rect x="47.8" y="239.2" width="5.40" height="3.20" fill="#f9e6a4"/><rect x="52.2" y="239.2" width="12.00" height="3.20" fill="#9cee66"/><rect x="63.2" y="239.2" width="5.40" height="3.20" fill="#5ce628"/><rect x="67.6" y="239.2" width="3.20" height="3.20" fill="#16d622"/><rect x="69.8" y="239.2" width="3.20" height="3.20" fill="#1eac80"/><rect x="72.0" y="239.2" width="3.20" height="3.20" fill="#1e74a0"/><rect x="74.2" y="239.2" width="5.40" height="3.20" fill="#1eac80"/><rect x="78.6" y="239.2" width="7.60" height="3.20" fill="#16d622"/><rect x="85.2" y="239.2" width="3.20" height="3.20" fill="#1eac80"/><rect x="87.4" y="239.2" width="9.80" height="3.20" fill="#1e74a0"/><rect x="96.2" y="239.2" width="5.40" height="3.20" fill="#141e80"/><rect x="100.6" y="239.2" width="14.20" height="3.20" fill="#1e74a0"/><rect x="113.8" y="239.2" width="3.20" height="3.20" fill="#141e80"/><rect x="116.0" y="239.2" width="3.20" height="3.20" fill="#1e74a0"/><rect x="118.2" y="239.2" width="9.80" height="3.20" fill="#1eac80"/><rect x="127.0" y="239.2" width="9.80" height="3.20" fill="#16d622"/><rect x="135.8" y="239.2" width="3.20" height="3.20" fill="#1e74a0"/><rect x="21.4" y="241.4" width="18.60" height="3.20" fill="#9cee66"/><rect x="39.0" y="241.4" width="3.20" height="3.20" fill="#f9e6a4"/><rect x="41.2" y="241.4" width="3.20" height="3.20" fill="#9cee66"/><rect x="43.4" y="241.4" width="9.80" height="3.20" fill="#f9e6a4"/><rect x="52.2" y="241.4" width="3.20" height="3.20" fill="#9cee66"/><rect x="54.4" y="241.4" width="3.20" height="3.20" fill="#5ce628"/><rect x="56.6" y="241.4" width="5.40" height="3.20" fill="#9cee66"/><rect x="61.0" y="241.4" width="5.40" height="3.20" fill="#5ce628"/><rect x="65.4" y="241.4" width="3.20" height="3.20" fill="#16d622"/><rect x="67.6" y="241.4" width="5.40" height="3.20" fill="#1eac80"/><rect x="72.0" y="241.4" width="3.20" height="3.20" fill="#1e74a0"/><rect x="74.2" y="241.4" width="5.40" height="3.20" fill="#16d622"/><rect x="78.6" y="241.4" width="5.40" height="3.20" fill="#1eac80"/><rect x="83.0" y="241.4" width="7.60" height="3.20" fill="#1e74a0"/><rect x="89.6" y="241.4" width="7.60" height="3.20" fill="#141e80"/><rect x="96.2" y="241.4" width="5.40" height="3.20" fill="#1e74a0"/><rect x="100.6" y="241.4" width="5.40" height="3.20" fill="#16d622"/><rect x="105.0" y="241.4" width="5.40" height="3.20" fill="#1e74a0"/><rect x="109.4" y="241.4" width="5.40" height="3.20" fill="#1eac80"/><rect x="113.8" y="241.4" width="5.40" height="3.20" fill="#141e80"/><rect x="118.2" y="241.4" width="9.80" height="3.20" fill="#1e74a0"/><rect x="127.0" y="241.4" width="5.40" height="3.20" fill="#16d622"/><rect x="131.4" y="241.4" width="5.40" height="3.20" fill="#1eac80"/><rect x="135.8" y="241.4" width="3.20" height="3.20" fill="#1e74a0"/><rect x="19.2" y="243.6" width="20.80" height="3.20" fill="#9cee66"/><rect x="39.0" y="243.6" width="14.20" height="3.20" fill="#f9e6a4"/><rect x="52.2" y="243.6" width="5.40" height="3.20" fill="#5ce628"/><rect x="56.6" y="243.6" width="3.20" height="3.20" fill="#9cee66"/><rect x="58.8" y="243.6" width="7.60" height="3.20" fill="#5ce628"/><rect x="65.4" y="243.6" width="3.20" height="3.20" fill="#16d622"/><rect x="67.6" y="243.6" width="7.60" height="3.20" fill="#1eac80"/><rect x="74.2" y="243.6" width="5.40" height="3.20" fill="#16d622"/><rect x="78.6" y="243.6" width="5.40" height="3.20" fill="#1eac80"/><rect x="83.0" y="243.6" width="5.40" height="3.20" fill="#1e74a0"/><rect x="87.4" y="243.6" width="9.80" height="3.20" fill="#141e80"/><rect x="96.2" y="243.6" width="5.40" height="3.20" fill="#1e74a0"/><rect x="100.6" y="243.6" width="5.40" height="3.20" fill="#16d622"/><rect x="105.0" y="243.6" width="9.80" height="3.20" fill="#1eac80"/><rect x="113.8" y="243.6" width="5.40" height="3.20" fill="#1e74a0"/><rect x="118.2" y="243.6" width="3.20" height="3.20" fill="#1eac80"/><rect x="120.4" y="243.6" width="3.20" height="3.20" fill="#1e74a0"/><rect x="122.6" y="243.6" width="5.40" height="3.20" fill="#141e80"/><rect x="127.0" y="243.6" width="3.20" height="3.20" fill="#1e74a0"/><rect x="129.2" y="243.6" width="3.20" height="3.20" fill="#1eac80"/><rect x="131.4" y="243.6" width="5.40" height="3.20" fill="#16d622"/><rect x="135.8" y="243.6" width="5.40" height="3.20" fill="#1e74a0"/><rect x="19.2" y="245.8" width="5.40" height="3.20" fill="#9cee66"/><rect x="23.6" y="245.8" width="5.40" height="3.20" fill="#f9e6a4"/><rect x="28.0" y="245.8" width="3.20" height="3.20" fill="#5ce628"/><rect x="30.2" y="245.8" width="9.80" height="3.20" fill="#9cee66"/><rect x="39.0" y="245.8" width="14.20" height="3.20" fill="#f9e6a4"/><rect x="52.2" y="245.8" width="3.20" height="3.20" fill="#9cee66"/><rect x="54.4" y="245.8" width="7.60" height="3.20" fill="#5ce628"/><rect x="61.0" y="245.8" width="18.60" height="3.20" fill="#16d622"/><rect x="78.6" y="245.8" width="3.20" height="3.20" fill="#1eac80"/><rect x="80.8" y="245.8" width="3.20" height="3.20" fill="#1e74a0"/><rect x="83.0" y="245.8" width="3.20" height="3.20" fill="#16d622"/><rect x="85.2" y="245.8" width="5.40" height="3.20" fill="#1eac80"/><rect x="89.6" y="245.8" width="5.40" height="3.20" fill="#1e74a0"/><rect x="94.0" y="245.8" width="3.20" height="3.20" fill="#141e80"/><rect x="96.2" y="245.8" width="5.40" height="3.20" fill="#1e74a0"/><rect x="100.6" y="245.8" width="5.40" height="3.20" fill="#141e80"/><rect x="105.0" y="245.8" width="7.60" height="3.20" fill="#1e74a0"/><rect x="111.6" y="245.8" width="5.40" height="3.20" fill="#1eac80"/><rect x="116.0" y="245.8" width="7.60" height="3.20" fill="#1e74a0"/><rect x="122.6" y="245.8" width="5.40" height="3.20" fill="#141e80"/><rect x="127.0" y="245.8" width="3.20" height="3.20" fill="#1e74a0"/><rect x="129.2" y="245.8" width="3.20" height="3.20" fill="#1eac80"/><rect x="131.4" y="245.8" width="5.40" height="3.20" fill="#16d622"/><rect x="135.8" y="245.8" width="5.40" height="3.20" fill="#1eac80"/><rect x="21.4" y="248.0" width="3.20" height="3.20" fill="#9cee66"/><rect x="23.6" y="248.0" width="5.40" height="3.20" fill="#f9e6a4"/><rect x="28.0" y="248.0" width="3.20" height="3.20" fill="#5ce628"/><rect x="30.2" y="248.0" width="9.80" height="3.20" fill="#9cee66"/><rect x="39.0" y="248.0" width="5.40" height="3.20" fill="#f9e6a4"/><rect x="43.4" y="248.0" width="3.20" height="3.20" fill="#9cee66"/><rect x="45.6" y="248.0" width="7.60" height="3.20" fill="#f9e6a4"/><rect x="52.2" y="248.0" width="3.20" height="3.20" fill="#9cee66"/><rect x="54.4" y="248.0" width="5.40" height="3.20" fill="#5ce628"/><rect x="58.8" y="248.0" width="9.80" height="3.20" fill="#16d622"/><rect x="67.6" y="248.0" width="3.20" height="3.20" fill="#1eac80"/><rect x="69.8" y="248.0" width="9.80" height="3.20" fill="#16d622"/><rect x="78.6" y="248.0" width="5.40" height="3.20" fill="#1e74a0"/><rect x="83.0" y="248.0" width="3.20" height="3.20" fill="#16d622"/><rect x="85.2" y="248.0" width="5.40" height="3.20" fill="#1eac80"/><rect x="89.6" y="248.0" width="3.20" height="3.20" fill="#1e74a0"/><rect x="91.8" y="248.0" width="7.60" height="3.20" fill="#141e80"/><rect x="98.4" y="248.0" width="3.20" height="3.20" fill="#1e74a0"/><rect x="100.6" y="248.0" width="5.40" height="3.20" fill="#141e80"/><rect x="105.0" y="248.0" width="5.40" height="3.20" fill="#1e74a0"/><rect x="109.4" y="248.0" width="3.20" height="3.20" fill="#1eac80"/><rect x="111.6" y="248.0" width="3.20" height="3.20" fill="#1e74a0"/><rect x="113.8" y="248.0" width="3.20" height="3.20" fill="#1eac80"/><rect x="116.0" y="248.0" width="3.20" height="3.20" fill="#1e74a0"/><rect x="118.2" y="248.0" width="5.40" height="3.20" fill="#1eac80"/><rect x="122.6" y="248.0" width="7.60" height="3.20" fill="#1e74a0"/><rect x="129.2" y="248.0" width="3.20" height="3.20" fill="#1eac80"/><rect x="131.4" y="248.0" width="3.20" height="3.20" fill="#16d622"/><rect x="133.6" y="248.0" width="3.20" height="3.20" fill="#5ce628"/><rect x="135.8" y="248.0" width="7.60" height="3.20" fill="#1eac80"/><rect x="23.6" y="250.2" width="3.20" height="3.20" fill="#5ce628"/><rect x="25.8" y="250.2" width="5.40" height="3.20" fill="#9cee66"/><rect x="30.2" y="250.2" width="3.20" height="3.20" fill="#5ce628"/><rect x="32.4" y="250.2" width="7.60" height="3.20" fill="#9cee66"/><rect x="39.0" y="250.2" width="14.20" height="3.20" fill="#f9e6a4"/><rect x="52.2" y="250.2" width="5.40" height="3.20" fill="#9cee66"/><rect x="56.6" y="250.2" width="3.20" height="3.20" fill="#5ce628"/><rect x="58.8" y="250.2" width="9.80" height="3.20" fill="#16d622"/><rect x="67.6" y="250.2" width="3.20" height="3.20" fill="#1eac80"/><rect x="69.8" y="250.2" width="5.40" height="3.20" fill="#16d622"/><rect x="74.2" y="250.2" width="7.60" height="3.20" fill="#1eac80"/><rect x="80.8" y="250.2" width="3.20" height="3.20" fill="#1e74a0"/><rect x="83.0" y="250.2" width="3.20" height="3.20" fill="#16d622"/><rect x="85.2" y="250.2" width="3.20" height="3.20" fill="#1eac80"/><rect x="87.4" y="250.2" width="3.20" height="3.20" fill="#1e74a0"/><rect x="89.6" y="250.2" width="7.60" height="3.20" fill="#141e80"/><rect x="96.2" y="250.2" width="3.20" height="3.20" fill="#1e74a0"/><rect x="98.4" y="250.2" width="3.20" height="3.20" fill="#1eac80"/><rect x="100.6" y="250.2" width="7.60" height="3.20" fill="#141e80"/><rect x="107.2" y="250.2" width="3.20" height="3.20" fill="#1e74a0"/><rect x="109.4" y="250.2" width="3.20" height="3.20" fill="#1eac80"/><rect x="111.6" y="250.2" width="3.20" height="3.20" fill="#1e74a0"/><rect x="113.8" y="250.2" width="5.40" height="3.20" fill="#1eac80"/><rect x="118.2" y="250.2" width="5.40" height="3.20" fill="#16d622"/><rect x="122.6" y="250.2" width="3.20" height="3.20" fill="#1e74a0"/><rect x="124.8" y="250.2" width="7.60" height="3.20" fill="#1eac80"/><rect x="131.4" y="250.2" width="5.40" height="3.20" fill="#5ce628"/><rect x="135.8" y="250.2" width="9.80" height="3.20" fill="#16d622"/><rect x="28.0" y="252.4" width="3.20" height="3.20" fill="#16d622"/><rect x="30.2" y="252.4" width="5.40" height="3.20" fill="#5ce628"/><rect x="34.6" y="252.4" width="3.20" height="3.20" fill="#9cee66"/><rect x="36.8" y="252.4" width="3.20" height="3.20" fill="#5ce628"/><rect x="39.0" y="252.4" width="5.40" height="3.20" fill="#9cee66"/><rect x="43.4" y="252.4" width="7.60" height="3.20" fill="#f9e6a4"/><rect x="50.0" y="252.4" width="7.60" height="3.20" fill="#9cee66"/><rect x="56.6" y="252.4" width="3.20" height="3.20" fill="#5ce628"/><rect x="58.8" y="252.4" width="9.80" height="3.20" fill="#16d622"/><rect x="67.6" y="252.4" width="3.20" height="3.20" fill="#1eac80"/><rect x="69.8" y="252.4" width="5.40" height="3.20" fill="#16d622"/><rect x="74.2" y="252.4" width="5.40" height="3.20" fill="#1eac80"/><rect x="78.6" y="252.4" width="5.40" height="3.20" fill="#1e74a0"/><rect x="83.0" y="252.4" width="3.20" height="3.20" fill="#16d622"/><rect x="85.2" y="252.4" width="3.20" height="3.20" fill="#1eac80"/><rect x="87.4" y="252.4" width="5.40" height="3.20" fill="#1e74a0"/><rect x="91.8" y="252.4" width="5.40" height="3.20" fill="#141e80"/><rect x="96.2" y="252.4" width="3.20" height="3.20" fill="#1eac80"/><rect x="98.4" y="252.4" width="3.20" height="3.20" fill="#16d622"/><rect x="100.6" y="252.4" width="5.40" height="3.20" fill="#1e74a0"/><rect x="105.0" y="252.4" width="5.40" height="3.20" fill="#141e80"/><rect x="109.4" y="252.4" width="3.20" height="3.20" fill="#1e74a0"/><rect x="111.6" y="252.4" width="7.60" height="3.20" fill="#1eac80"/><rect x="118.2" y="252.4" width="5.40" height="3.20" fill="#16d622"/><rect x="122.6" y="252.4" width="9.80" height="3.20" fill="#1eac80"/><rect x="131.4" y="252.4" width="3.20" height="3.20" fill="#16d622"/><rect x="133.6" y="252.4" width="5.40" height="3.20" fill="#5ce628"/><rect x="138.0" y="252.4" width="9.80" height="3.20" fill="#16d622"/><rect x="30.2" y="254.6" width="3.20" height="3.20" fill="#5ce628"/><rect x="32.4" y="254.6" width="12.00" height="3.20" fill="#9cee66"/><rect x="43.4" y="254.6" width="7.60" height="3.20" fill="#f9e6a4"/><rect x="50.0" y="254.6" width="5.40" height="3.20" fill="#9cee66"/><rect x="54.4" y="254.6" width="5.40" height="3.20" fill="#5ce628"/><rect x="58.8" y="254.6" width="5.40" height="3.20" fill="#16d622"/><rect x="63.2" y="254.6" width="12.00" height="3.20" fill="#1eac80"/><rect x="74.2" y="254.6" width="3.20" height="3.20" fill="#1e74a0"/><rect x="76.4" y="254.6" width="3.20" height="3.20" fill="#141e80"/><rect x="78.6" y="254.6" width="5.40" height="3.20" fill="#1e74a0"/><rect x="83.0" y="254.6" width="5.40" height="3.20" fill="#1eac80"/><rect x="87.4" y="254.6" width="5.40" height="3.20" fill="#1e74a0"/><rect x="91.8" y="254.6" width="3.20" height="3.20" fill="#141e80"/><rect x="94.0" y="254.6" width="5.40" height="3.20" fill="#1e74a0"/><rect x="98.4" y="254.6" width="3.20" height="3.20" fill="#1eac80"/><rect x="100.6" y="254.6" width="3.20" height="3.20" fill="#5ce628"/><rect x="102.8" y="254.6" width="7.60" height="3.20" fill="#16d622"/><rect x="109.4" y="254.6" width="5.40" height="3.20" fill="#1eac80"/><rect x="113.8" y="254.6" width="5.40" height="3.20" fill="#1e74a0"/><rect x="118.2" y="254.6" width="5.40" height="3.20" fill="#1eac80"/><rect x="122.6" y="254.6" width="5.40" height="3.20" fill="#1e74a0"/><rect x="127.0" y="254.6" width="3.20" height="3.20" fill="#16d622"/><rect x="129.2" y="254.6" width="3.20" height="3.20" fill="#5ce628"/><rect x="131.4" y="254.6" width="5.40" height="3.20" fill="#16d622"/><rect x="135.8" y="254.6" width="7.60" height="3.20" fill="#1eac80"/><rect x="142.4" y="254.6" width="3.20" height="3.20" fill="#1e74a0"/><rect x="144.6" y="254.6" width="3.20" height="3.20" fill="#16d622"/><rect x="34.6" y="256.8" width="3.20" height="3.20" fill="#9cee66"/><rect x="36.8" y="256.8" width="5.40" height="3.20" fill="#f6a20c"/><rect x="41.2" y="256.8" width="12.00" height="3.20" fill="#9cee66"/><rect x="52.2" y="256.8" width="5.40" height="3.20" fill="#5ce628"/><rect x="56.6" y="256.8" width="5.40" height="3.20" fill="#16d622"/><rect x="61.0" y="256.8" width="9.80" height="3.20" fill="#1eac80"/><rect x="69.8" y="256.8" width="5.40" height="3.20" fill="#1e74a0"/><rect x="74.2" y="256.8" width="7.60" height="3.20" fill="#141e80"/><rect x="80.8" y="256.8" width="3.20" height="3.20" fill="#1e74a0"/><rect x="83.0" y="256.8" width="5.40" height="3.20" fill="#16d622"/><rect x="87.4" y="256.8" width="3.20" height="3.20" fill="#1eac80"/><rect x="89.6" y="256.8" width="7.60" height="3.20" fill="#1e74a0"/><rect x="96.2" y="256.8" width="3.20" height="3.20" fill="#141e80"/><rect x="98.4" y="256.8" width="3.20" height="3.20" fill="#1e74a0"/><rect x="100.6" y="256.8" width="9.80" height="3.20" fill="#16d622"/><rect x="109.4" y="256.8" width="5.40" height="3.20" fill="#1eac80"/><rect x="113.8" y="256.8" width="9.80" height="3.20" fill="#1e74a0"/><rect x="122.6" y="256.8" width="3.20" height="3.20" fill="#1eac80"/><rect x="124.8" y="256.8" width="3.20" height="3.20" fill="#1e74a0"/><rect x="127.0" y="256.8" width="3.20" height="3.20" fill="#16d622"/><rect x="129.2" y="256.8" width="3.20" height="3.20" fill="#5ce628"/><rect x="131.4" y="256.8" width="3.20" height="3.20" fill="#1eac80"/><rect x="133.6" y="256.8" width="3.20" height="3.20" fill="#16d622"/><rect x="135.8" y="256.8" width="9.80" height="3.20" fill="#1eac80"/><rect x="144.6" y="256.8" width="3.20" height="3.20" fill="#16d622"/><rect x="36.8" y="259.0" width="16.40" height="3.20" fill="#16d622"/><rect x="52.2" y="259.0" width="3.20" height="3.20" fill="#5ce628"/><rect x="54.4" y="259.0" width="12.00" height="3.20" fill="#16d622"/><rect x="65.4" y="259.0" width="9.80" height="3.20" fill="#1e74a0"/><rect x="74.2" y="259.0" width="7.60" height="3.20" fill="#141e80"/><rect x="80.8" y="259.0" width="3.20" height="3.20" fill="#1e74a0"/><rect x="83.0" y="259.0" width="5.40" height="3.20" fill="#1eac80"/><rect x="87.4" y="259.0" width="3.20" height="3.20" fill="#1e74a0"/><rect x="89.6" y="259.0" width="3.20" height="3.20" fill="#141e80"/><rect x="91.8" y="259.0" width="7.60" height="3.20" fill="#1e74a0"/><rect x="98.4" y="259.0" width="3.20" height="3.20" fill="#1eac80"/><rect x="100.6" y="259.0" width="5.40" height="3.20" fill="#16d622"/><rect x="105.0" y="259.0" width="5.40" height="3.20" fill="#1eac80"/><rect x="109.4" y="259.0" width="3.20" height="3.20" fill="#1e74a0"/><rect x="111.6" y="259.0" width="3.20" height="3.20" fill="#1eac80"/><rect x="113.8" y="259.0" width="5.40" height="3.20" fill="#1e74a0"/><rect x="118.2" y="259.0" width="3.20" height="3.20" fill="#1eac80"/><rect x="120.4" y="259.0" width="7.60" height="3.20" fill="#1e74a0"/><rect x="127.0" y="259.0" width="5.40" height="3.20" fill="#16d622"/><rect x="131.4" y="259.0" width="3.20" height="3.20" fill="#1eac80"/><rect x="133.6" y="259.0" width="3.20" height="3.20" fill="#16d622"/><rect x="135.8" y="259.0" width="5.40" height="3.20" fill="#1eac80"/><rect x="140.2" y="259.0" width="5.40" height="3.20" fill="#16d622"/><rect x="144.6" y="259.0" width="3.20" height="3.20" fill="#1eac80"/><rect x="39.0" y="261.2" width="7.60" height="3.20" fill="#1eac80"/><rect x="45.6" y="261.2" width="20.80" height="3.20" fill="#16d622"/><rect x="65.4" y="261.2" width="3.20" height="3.20" fill="#1e74a0"/><rect x="67.6" y="261.2" width="3.20" height="3.20" fill="#141e80"/><rect x="69.8" y="261.2" width="3.20" height="3.20" fill="#1e74a0"/><rect x="72.0" y="261.2" width="9.80" height="3.20" fill="#141e80"/><rect x="80.8" y="261.2" width="3.20" height="3.20" fill="#1e74a0"/><rect x="83.0" y="261.2" width="5.40" height="3.20" fill="#1eac80"/><rect x="87.4" y="261.2" width="12.00" height="3.20" fill="#1e74a0"/><rect x="98.4" y="261.2" width="12.00" height="3.20" fill="#1eac80"/><rect x="109.4" y="261.2" width="3.20" height="3.20" fill="#1e74a0"/><rect x="111.6" y="261.2" width="3.20" height="3.20" fill="#1eac80"/><rect x="113.8" y="261.2" width="7.60" height="3.20" fill="#1e74a0"/><rect x="120.4" y="261.2" width="3.20" height="3.20" fill="#1eac80"/><rect x="122.6" y="261.2" width="5.40" height="3.20" fill="#1e74a0"/><rect x="127.0" y="261.2" width="3.20" height="3.20" fill="#1eac80"/><rect x="129.2" y="261.2" width="3.20" height="3.20" fill="#16d622"/><rect x="131.4" y="261.2" width="3.20" height="3.20" fill="#1eac80"/><rect x="133.6" y="261.2" width="3.20" height="3.20" fill="#16d622"/><rect x="135.8" y="261.2" width="3.20" height="3.20" fill="#1eac80"/><rect x="138.0" y="261.2" width="5.40" height="3.20" fill="#16d622"/><rect x="142.4" y="261.2" width="5.40" height="3.20" fill="#1eac80"/><rect x="45.6" y="263.4" width="7.60" height="3.20" fill="#5ce628"/><rect x="52.2" y="263.4" width="3.20" height="3.20" fill="#16d622"/><rect x="54.4" y="263.4" width="7.60" height="3.20" fill="#1eac80"/><rect x="61.0" y="263.4" width="5.40" height="3.20" fill="#1e74a0"/><rect x="65.4" y="263.4" width="5.40" height="3.20" fill="#1eac80"/><rect x="69.8" y="263.4" width="3.20" height="3.20" fill="#1e74a0"/><rect x="72.0" y="263.4" width="5.40" height="3.20" fill="#141e80"/><rect x="76.4" y="263.4" width="5.40" height="3.20" fill="#1e74a0"/><rect x="80.8" y="263.4" width="3.20" height="3.20" fill="#1eac80"/><rect x="83.0" y="263.4" width="9.80" height="3.20" fill="#1e74a0"/><rect x="91.8" y="263.4" width="9.80" height="3.20" fill="#1eac80"/><rect x="100.6" y="263.4" width="9.80" height="3.20" fill="#141e80"/><rect x="109.4" y="263.4" width="14.20" height="3.20" fill="#1eac80"/><rect x="122.6" y="263.4" width="3.20" height="3.20" fill="#1e74a0"/><rect x="124.8" y="263.4" width="3.20" height="3.20" fill="#1eac80"/><rect x="127.0" y="263.4" width="18.60" height="3.20" fill="#16d622"/><rect x="144.6" y="263.4" width="3.20" height="3.20" fill="#1eac80"/><rect x="47.8" y="265.6" width="5.40" height="3.20" fill="#5ce628"/><rect x="52.2" y="265.6" width="3.20" height="3.20" fill="#16d622"/><rect x="54.4" y="265.6" width="3.20" height="3.20" fill="#1e74a0"/><rect x="56.6" y="265.6" width="7.60" height="3.20" fill="#141e80"/><rect x="72.0" y="265.6" width="3.20" height="3.20" fill="#141e80"/><rect x="74.2" y="265.6" width="7.60" height="3.20" fill="#1e74a0"/><rect x="80.8" y="265.6" width="3.20" height="3.20" fill="#1eac80"/><rect x="83.0" y="265.6" width="9.80" height="3.20" fill="#1e74a0"/><rect x="91.8" y="265.6" width="9.80" height="3.20" fill="#1eac80"/><rect x="100.6" y="265.6" width="9.80" height="3.20" fill="#141e80"/><rect x="109.4" y="265.6" width="5.40" height="3.20" fill="#1e74a0"/><rect x="113.8" y="265.6" width="9.80" height="3.20" fill="#1eac80"/><rect x="122.6" y="265.6" width="5.40" height="3.20" fill="#1e74a0"/><rect x="127.0" y="265.6" width="18.60" height="3.20" fill="#16d622"/><rect x="144.6" y="265.6" width="3.20" height="3.20" fill="#1eac80"/><rect x="56.6" y="267.8" width="7.60" height="3.20" fill="#141e80"/><rect x="74.2" y="267.8" width="7.60" height="3.20" fill="#1e74a0"/><rect x="80.8" y="267.8" width="3.20" height="3.20" fill="#1eac80"/><rect x="83.0" y="267.8" width="9.80" height="3.20" fill="#1e74a0"/><rect x="91.8" y="267.8" width="3.20" height="3.20" fill="#1eac80"/><rect x="94.0" y="267.8" width="3.20" height="3.20" fill="#1e74a0"/><rect x="96.2" y="267.8" width="5.40" height="3.20" fill="#1eac80"/><rect x="100.6" y="267.8" width="7.60" height="3.20" fill="#141e80"/><rect x="107.2" y="267.8" width="3.20" height="3.20" fill="#1e74a0"/><rect x="109.4" y="267.8" width="5.40" height="3.20" fill="#1eac80"/><rect x="113.8" y="267.8" width="3.20" height="3.20" fill="#1e74a0"/><rect x="116.0" y="267.8" width="5.40" height="3.20" fill="#1eac80"/><rect x="120.4" y="267.8" width="3.20" height="3.20" fill="#1e74a0"/><rect x="122.6" y="267.8" width="5.40" height="3.20" fill="#1eac80"/><rect x="127.0" y="267.8" width="5.40" height="3.20" fill="#16d622"/><rect x="131.4" y="267.8" width="5.40" height="3.20" fill="#1eac80"/><rect x="135.8" y="267.8" width="5.40" height="3.20" fill="#16d622"/><rect x="140.2" y="267.8" width="5.40" height="3.20" fill="#5ce628"/><rect x="58.8" y="270.0" width="3.20" height="3.20" fill="#1e74a0"/><rect x="76.4" y="270.0" width="3.20" height="3.20" fill="#1e74a0"/><rect x="78.6" y="270.0" width="5.40" height="3.20" fill="#1eac80"/><rect x="83.0" y="270.0" width="9.80" height="3.20" fill="#1e74a0"/><rect x="91.8" y="270.0" width="3.20" height="3.20" fill="#1eac80"/><rect x="94.0" y="270.0" width="3.20" height="3.20" fill="#1e74a0"/><rect x="96.2" y="270.0" width="5.40" height="3.20" fill="#16d622"/><rect x="100.6" y="270.0" width="7.60" height="3.20" fill="#141e80"/><rect x="107.2" y="270.0" width="5.40" height="3.20" fill="#1e74a0"/><rect x="111.6" y="270.0" width="3.20" height="3.20" fill="#1eac80"/><rect x="113.8" y="270.0" width="3.20" height="3.20" fill="#1e74a0"/><rect x="116.0" y="270.0" width="12.00" height="3.20" fill="#1eac80"/><rect x="127.0" y="270.0" width="5.40" height="3.20" fill="#16d622"/><rect x="131.4" y="270.0" width="5.40" height="3.20" fill="#1eac80"/><rect x="135.8" y="270.0" width="5.40" height="3.20" fill="#16d622"/><rect x="140.2" y="270.0" width="5.40" height="3.20" fill="#5ce628"/><rect x="76.4" y="272.2" width="3.20" height="3.20" fill="#1eac80"/><rect x="78.6" y="272.2" width="5.40" height="3.20" fill="#1e74a0"/><rect x="83.0" y="272.2" width="9.80" height="3.20" fill="#141e80"/><rect x="91.8" y="272.2" width="5.40" height="3.20" fill="#1e74a0"/><rect x="96.2" y="272.2" width="5.40" height="3.20" fill="#1eac80"/><rect x="100.6" y="272.2" width="18.60" height="3.20" fill="#1e74a0"/><rect x="118.2" y="272.2" width="9.80" height="3.20" fill="#1eac80"/><rect x="127.0" y="272.2" width="5.40" height="3.20" fill="#1e74a0"/><rect x="131.4" y="272.2" width="12.00" height="3.20" fill="#1eac80"/><rect x="76.4" y="274.4" width="3.20" height="3.20" fill="#1e74a0"/><rect x="78.6" y="274.4" width="14.20" height="3.20" fill="#141e80"/><rect x="91.8" y="274.4" width="7.60" height="3.20" fill="#1e74a0"/><rect x="98.4" y="274.4" width="3.20" height="3.20" fill="#1eac80"/><rect x="100.6" y="274.4" width="7.60" height="3.20" fill="#1e74a0"/><rect x="107.2" y="274.4" width="3.20" height="3.20" fill="#1eac80"/><rect x="109.4" y="274.4" width="3.20" height="3.20" fill="#1e74a0"/><rect x="111.6" y="274.4" width="3.20" height="3.20" fill="#1eac80"/><rect x="113.8" y="274.4" width="7.60" height="3.20" fill="#1e74a0"/><rect x="120.4" y="274.4" width="5.40" height="3.20" fill="#1eac80"/><rect x="124.8" y="274.4" width="7.60" height="3.20" fill="#1e74a0"/><rect x="131.4" y="274.4" width="9.80" height="3.20" fill="#1eac80"/><rect x="146.8" y="274.4" width="3.20" height="3.20" fill="#16d622"/><rect x="76.4" y="276.6" width="7.60" height="3.20" fill="#1e74a0"/><rect x="83.0" y="276.6" width="12.00" height="3.20" fill="#141e80"/><rect x="94.0" y="276.6" width="3.20" height="3.20" fill="#1e74a0"/><rect x="96.2" y="276.6" width="3.20" height="3.20" fill="#141e80"/><rect x="98.4" y="276.6" width="3.20" height="3.20" fill="#1e74a0"/><rect x="100.6" y="276.6" width="5.40" height="3.20" fill="#1eac80"/><rect x="105.0" y="276.6" width="18.60" height="3.20" fill="#1e74a0"/><rect x="122.6" y="276.6" width="5.40" height="3.20" fill="#1eac80"/><rect x="127.0" y="276.6" width="9.80" height="3.20" fill="#1e74a0"/><rect x="135.8" y="276.6" width="5.40" height="3.20" fill="#1eac80"/><rect x="144.6" y="276.6" width="7.60" height="3.20" fill="#5ce628"/><rect x="74.2" y="278.8" width="5.40" height="3.20" fill="#1eac80"/><rect x="78.6" y="278.8" width="3.20" height="3.20" fill="#1e74a0"/><rect x="80.8" y="278.8" width="20.80" height="3.20" fill="#141e80"/><rect x="100.6" y="278.8" width="5.40" height="3.20" fill="#1e74a0"/><rect x="105.0" y="278.8" width="3.20" height="3.20" fill="#141e80"/><rect x="107.2" y="278.8" width="3.20" height="3.20" fill="#1e74a0"/><rect x="109.4" y="278.8" width="3.20" height="3.20" fill="#141e80"/><rect x="111.6" y="278.8" width="3.20" height="3.20" fill="#1e74a0"/><rect x="113.8" y="278.8" width="7.60" height="3.20" fill="#141e80"/><rect x="120.4" y="278.8" width="5.40" height="3.20" fill="#1e74a0"/><rect x="124.8" y="278.8" width="3.20" height="3.20" fill="#1eac80"/><rect x="127.0" y="278.8" width="3.20" height="3.20" fill="#141e80"/><rect x="129.2" y="278.8" width="7.60" height="3.20" fill="#1e74a0"/><rect x="135.8" y="278.8" width="3.20" height="3.20" fill="#1eac80"/><rect x="144.6" y="278.8" width="5.40" height="3.20" fill="#5ce628"/><rect x="74.2" y="281.0" width="3.20" height="3.20" fill="#1eac80"/><rect x="76.4" y="281.0" width="9.80" height="3.20" fill="#1e74a0"/><rect x="85.2" y="281.0" width="7.60" height="3.20" fill="#141e80"/><rect x="91.8" y="281.0" width="14.20" height="3.20" fill="#1e74a0"/><rect x="105.0" y="281.0" width="5.40" height="3.20" fill="#1eac80"/><rect x="109.4" y="281.0" width="3.20" height="3.20" fill="#1e74a0"/><rect x="111.6" y="281.0" width="3.20" height="3.20" fill="#141e80"/><rect x="113.8" y="281.0" width="14.20" height="3.20" fill="#1e74a0"/><rect x="127.0" y="281.0" width="7.60" height="3.20" fill="#1eac80"/><rect x="133.6" y="281.0" width="3.20" height="3.20" fill="#1e74a0"/><rect x="144.6" y="281.0" width="5.40" height="3.20" fill="#5ce628"/><rect x="76.4" y="283.2" width="5.40" height="3.20" fill="#1eac80"/><rect x="80.8" y="283.2" width="7.60" height="3.20" fill="#1e74a0"/><rect x="87.4" y="283.2" width="5.40" height="3.20" fill="#141e80"/><rect x="91.8" y="283.2" width="7.60" height="3.20" fill="#1e74a0"/><rect x="98.4" y="283.2" width="3.20" height="3.20" fill="#1eac80"/><rect x="100.6" y="283.2" width="5.40" height="3.20" fill="#1e74a0"/><rect x="105.0" y="283.2" width="5.40" height="3.20" fill="#1eac80"/><rect x="109.4" y="283.2" width="3.20" height="3.20" fill="#1e74a0"/><rect x="111.6" y="283.2" width="3.20" height="3.20" fill="#141e80"/><rect x="113.8" y="283.2" width="3.20" height="3.20" fill="#1e74a0"/><rect x="116.0" y="283.2" width="3.20" height="3.20" fill="#1eac80"/><rect x="118.2" y="283.2" width="3.20" height="3.20" fill="#1e74a0"/><rect x="120.4" y="283.2" width="3.20" height="3.20" fill="#1eac80"/><rect x="122.6" y="283.2" width="3.20" height="3.20" fill="#1e74a0"/><rect x="124.8" y="283.2" width="7.60" height="3.20" fill="#1eac80"/><rect x="144.6" y="283.2" width="3.20" height="3.20" fill="#5ce628"/><rect x="78.6" y="285.4" width="5.40" height="3.20" fill="#1eac80"/><rect x="83.0" y="285.4" width="3.20" height="3.20" fill="#16d622"/><rect x="85.2" y="285.4" width="3.20" height="3.20" fill="#1eac80"/><rect x="87.4" y="285.4" width="7.60" height="3.20" fill="#1e74a0"/><rect x="98.4" y="285.4" width="3.20" height="3.20" fill="#1eac80"/><rect x="100.6" y="285.4" width="5.40" height="3.20" fill="#1e74a0"/><rect x="105.0" y="285.4" width="3.20" height="3.20" fill="#1eac80"/><rect x="107.2" y="285.4" width="3.20" height="3.20" fill="#16d622"/><rect x="109.4" y="285.4" width="3.20" height="3.20" fill="#1eac80"/><rect x="111.6" y="285.4" width="3.20" height="3.20" fill="#1e74a0"/><rect x="113.8" y="285.4" width="12.00" height="3.20" fill="#1eac80"/><rect x="124.8" y="285.4" width="3.20" height="3.20" fill="#16d622"/><rect x="127.0" y="285.4" width="3.20" height="3.20" fill="#1eac80"/><rect x="78.6" y="287.6" width="9.80" height="3.20" fill="#16d622"/><rect x="100.6" y="287.6" width="3.20" height="3.20" fill="#1e74a0"/><rect x="102.8" y="287.6" width="3.20" height="3.20" fill="#1eac80"/><rect x="105.0" y="287.6" width="5.40" height="3.20" fill="#16d622"/><rect x="109.4" y="287.6" width="5.40" height="3.20" fill="#1eac80"/><rect x="113.8" y="287.6" width="12.00" height="3.20" fill="#16d622"/><rect x="80.8" y="289.8" width="3.20" height="3.20" fill="#1e74a0"/><rect x="83.0" y="289.8" width="3.20" height="3.20" fill="#141e80"/><rect x="85.2" y="289.8" width="3.20" height="3.20" fill="#1e74a0"/><rect x="102.8" y="289.8" width="16.40" height="3.20" fill="#1e74a0"/><rect x="111.6" y="292.0" width="3.20" height="3.20" fill="#1e74a0"/><rect x="111.6" y="294.2" width="3.20" height="3.20" fill="#1e74a0"/><rect x="113.8" y="294.2" width="3.20" height="3.20" fill="#1eac80"/><rect x="109.4" y="296.4" width="5.40" height="3.20" fill="#1e74a0"/><rect x="113.8" y="296.4" width="3.20" height="3.20" fill="#1eac80"/><rect x="107.2" y="298.6" width="3.20" height="3.20" fill="#1e74a0"/><rect x="109.4" y="298.6" width="7.60" height="3.20" fill="#1eac80"/><rect x="109.4" y="300.8" width="5.40" height="3.20" fill="#1eac80"/></g>
<polygon points="55.7,191.9 57.6,192.6 59.2,194.8 60.3,199.5 61.8,204.4 64.2,207.4 67.1,209.6 70.3,211.2 73.2,212.3 75.2,214.3 76.7,216.6 81.5,218.3 87.1,219.2 90.8,220.3 94.1,221.0 97.5,220.4 100.5,219.2 104.2,217.6 107.4,215.7 110.2,213.0 112.6,210.5 115.2,208.6 117.9,207.0 121.4,205.2 124.8,203.6 128.5,202.6 131.8,200.9 129.8,199.0 127.5,197.5 124.2,196.0 121.4,194.0 123.8,192.4 126.6,191.4 129.2,190.0 130.9,187.9 130.4,183.4 129.2,179.2 132.4,178.4 136.2,176.6 139.4,177.4 142.3,179.2 144.2,181.8 145.7,184.4 148.2,186.8 151.0,188.7 154.4,190.8 157.9,192.2 161.0,190.6 164.0,188.7 165.3,189.6 164.9,192.2 163.8,195.8 162.3,199.2 161.6,203.2 160.6,207.0 158.6,210.2 156.2,212.8 152.5,216.2 149.4,219.2 145.3,222.7 142.8,225.0 140.7,226.8 139.7,225.2 140.6,223.2 141.5,221.8 140.4,220.8 139.3,220.8 137.0,222.4 135.0,223.8 133.0,225.4 131.4,227.2 130.3,229.3 131.0,230.8 132.2,232.0 133.6,233.6 135.2,234.9 137.0,234.8 139.0,234.3 141.4,233.6 143.8,233.3 142.6,235.0 141.0,236.5 139.2,238.0 137.5,239.2 136.2,240.6 137.0,242.2 138.0,243.5 139.2,245.2 140.5,247.0 142.8,249.6 144.9,252.2 146.0,255.6 146.6,259.2 146.4,262.8 145.7,266.1 144.2,269.8 142.3,273.1 140.2,276.3 137.9,279.2 135.0,282.0 131.8,284.4 128.4,286.3 124.8,287.9 121.4,289.4 117.9,290.5 115.4,291.4 113.6,293.4 112.2,294.6 111.2,293.0 110.9,291.6 109.2,291.6 107.4,291.4 104.8,290.8 102.2,289.7 99.6,287.8 97.0,285.3 93.6,285.6 90.6,287.0 88.8,287.6 87.1,288.8 86.4,290.8 85.4,292.3 83.2,291.8 81.0,290.5 79.2,287.6 77.5,284.4 75.2,282.8 73.2,280.9 75.2,278.4 77.5,275.7 77.4,273.0 76.7,270.5 75.0,268.6 73.2,267.0 71.4,265.4 69.7,264.4 67.0,264.9 64.5,266.1 62.8,268.4 61.0,270.5 58.8,270.4 56.6,269.6 54.6,267.6 52.3,266.1 49.6,266.3 47.0,266.1 45.2,264.6 43.6,263.5 40.6,262.4 37.5,260.9 35.2,258.8 33.1,256.6 29.6,254.6 26.1,252.2 23.0,250.6 20.0,248.7 20.0,246.0 20.9,243.5 22.3,241.9 22.6,238.0 21.8,234.0 20.0,232.4 18.3,230.6 16.8,229.0 15.7,227.1 14.4,223.2 13.9,219.2 14.4,217.0 15.7,215.4 19.2,215.4 22.6,214.9 27.2,213.4 31.4,211.4 33.8,209.8 35.7,207.9 36.4,205.2 37.5,202.7 40.6,201.6 43.6,200.9 47.2,199.8 50.5,198.3 51.2,196.0 52.3,194.0 54.0,192.6" fill="none" stroke="#9aa58a" stroke-width="0.35"/>
<g fill="none" stroke="#8d9388" stroke-width="0.45" opacity="0.75">
<path d="M14.8 217.5C15.5 222 17.5 226 19.2 227C21.5 229.5 23.5 230.6 26.1 230.6C33 230.3 38 228.8 43.6 228C50 226.8 55 225.3 61 225.3C66 225.3 71 225.8 74.9 227.1C79.5 228.5 83 229.8 85.4 231.4C88.2 233.6 89.6 236 90.6 238.4L94.1 243.6"/>
<path d="M90 241.9L100.5 238.4L109.2 234.9L112.6 229.7L124.8 224.5L135.3 217.5L139 219.5"/>
<path d="M94.1 243.6C92 250 88 258 85 262C80 266 74 267 70 264.5"/>
</g>
<g fill="#777">
<rect x="120.5" y="305.6" width="0.8" height="0.8"/>
<rect x="122.0" y="307.2" width="0.8" height="0.8"/>
<rect x="124.6" y="306.1" width="0.8" height="0.8"/>
<rect x="126.2" y="308.4" width="0.8" height="0.8"/>
<rect x="131.5" y="307.5" width="0.8" height="0.8"/>
<rect x="133.0" y="308.8" width="0.8" height="0.8"/>
<rect x="138.5" y="307.0" width="0.8" height="0.8"/>
<rect x="143.0" y="306.4" width="0.8" height="0.8"/>
<rect x="147.0" y="305.4" width="0.8" height="0.8"/>
<rect x="149.4" y="300.2" width="0.8" height="0.8"/>
<rect x="148.6" y="296.0" width="0.8" height="0.8"/>
<rect x="134.0" y="292.3" width="0.8" height="0.8"/>
<rect x="137.4" y="293.2" width="0.8" height="0.8"/>
<rect x="150.2" y="289.6" width="0.8" height="0.8"/>
<rect x="120.2" y="309.4" width="0.8" height="0.8"/>
<rect x="128.4" y="309.9" width="0.8" height="0.8"/>
<rect x="140.4" y="309.6" width="0.8" height="0.8"/>
<rect x="146.2" y="309.1" width="0.8" height="0.8"/>
</g>
<rect x="154.0" y="274.9" width="24.0" height="37.3" rx="0.8" fill="#fff" stroke="#969696" stroke-width="0.9"/>
<g clip-path="url(#insetclip)">
<ellipse cx="162.2" cy="274.4" rx="7.6" ry="7.0" fill="#141e80"/>
<ellipse cx="160.0" cy="274.0" rx="4.6" ry="3.4" fill="#1eac80"/>
<ellipse cx="158.2" cy="284.2" rx="1.3" ry="1.0" fill="#1eac80"/>
<ellipse cx="171.3" cy="276.4" rx="0.9" ry="2.2" fill="#1eac80"/>
</g>
<g fill="#666">
<rect x="160.2" y="288.2" width="0.8" height="0.8"/>
<rect x="162.4" y="288.8" width="0.8" height="0.8"/>
<rect x="165.5" y="287.4" width="0.8" height="0.8"/>
<rect x="168.2" y="291.8" width="0.8" height="0.8"/>
<rect x="166.4" y="293.6" width="0.8" height="0.8"/>
<rect x="164.6" y="295.2" width="0.8" height="0.8"/>
<rect x="162.8" y="296.8" width="0.8" height="0.8"/>
<rect x="161.0" y="298.2" width="0.8" height="0.8"/>
<rect x="165.6" y="297.6" width="0.8" height="0.8"/>
<rect x="167.3" y="294.6" width="0.8" height="0.8"/>
<rect x="169.5" y="293.0" width="0.8" height="0.8"/>
<rect x="163.4" y="301.2" width="0.8" height="0.8"/>
<rect x="166.2" y="300.0" width="0.8" height="0.8"/>
<rect x="170.4" y="284.4" width="0.8" height="0.8"/>
<rect x="169.8" y="280.2" width="0.8" height="0.8"/>
<rect x="164.4" y="292.0" width="0.8" height="0.8"/>
</g>
<text x="53.0" y="221.5" font-size="9.4" text-anchor="middle" font-weight="normal" fill="#111" stroke="#fff" stroke-width="2.1" stroke-linejoin="round" paint-order="stroke">I</text>
<text x="138.0" y="191.5" font-size="9.4" text-anchor="middle" font-weight="normal" fill="#111" stroke="#fff" stroke-width="2.1" stroke-linejoin="round" paint-order="stroke">II</text>
<text x="57.3" y="250.7" font-size="9.4" text-anchor="middle" font-weight="normal" fill="#111" stroke="#fff" stroke-width="2.1" stroke-linejoin="round" paint-order="stroke">III</text>
<text x="114.7" y="274.1" font-size="9.4" text-anchor="middle" font-weight="normal" fill="#111" stroke="#fff" stroke-width="2.1" stroke-linejoin="round" paint-order="stroke">IV</text>
<text x="13.6" y="192.2" font-size="17.2" text-anchor="start" font-weight="normal" fill="#000">(c)</text>
<text x="43.5" y="169.5" font-size="5.2" text-anchor="middle" font-weight="bold" fill="#222">80°0'0"E</text>
<text x="85.4" y="169.5" font-size="5.2" text-anchor="middle" font-weight="bold" fill="#222">100°0'0"E</text>
<text x="127.5" y="169.5" font-size="5.2" text-anchor="middle" font-weight="bold" fill="#222">120°0'0"E</text>
<text x="171.9" y="169.5" font-size="5.2" text-anchor="middle" font-weight="bold" fill="#222">140°0'0"E</text>
<text x="78.4" y="321.9" font-size="5.1" text-anchor="middle" font-weight="bold" fill="#222">100°0'0"E</text>
<text x="149.2" y="321.9" font-size="5.1" text-anchor="middle" font-weight="bold" fill="#222">120°0'0"E</text>
<text x="5.6" y="193.2" font-size="5.1" text-anchor="middle" font-weight="bold" fill="#222" transform="rotate(-90 5.6 193.2)">45°0'0"N</text>
<text x="184.1" y="194.2" font-size="5.1" text-anchor="middle" font-weight="bold" fill="#222" transform="rotate(90 184.1 194.2)">45°0'0"N</text>
<text x="5.6" y="249.6" font-size="5.1" text-anchor="middle" font-weight="bold" fill="#222" transform="rotate(-90 5.6 249.6)">30°0'0"N</text>
<text x="184.1" y="250.6" font-size="5.1" text-anchor="middle" font-weight="bold" fill="#222" transform="rotate(90 184.1 250.6)">30°0'0"N</text>
<text x="5.6" y="302.7" font-size="5.1" text-anchor="middle" font-weight="bold" fill="#222" transform="rotate(-90 5.6 302.7)">15°0'0"N</text>
<text x="184.1" y="303.7" font-size="5.1" text-anchor="middle" font-weight="bold" fill="#222" transform="rotate(90 184.1 303.7)">15°0'0"N</text>
<rect x="18.20" y="324.6" width="19.70" height="4.4" fill="#f6a20c"/>
<rect x="37.70" y="324.6" width="18.20" height="4.4" fill="#f9e6a4"/>
<rect x="55.70" y="324.6" width="19.40" height="4.4" fill="#9cee66"/>
<rect x="74.90" y="324.6" width="19.80" height="4.4" fill="#5ce628"/>
<rect x="94.50" y="324.6" width="19.60" height="4.4" fill="#16d622"/>
<rect x="113.90" y="324.6" width="20.20" height="4.4" fill="#1eac80"/>
<rect x="133.90" y="324.6" width="20.00" height="4.4" fill="#1e74a0"/>
<rect x="153.70" y="324.6" width="20.30" height="4.4" fill="#141e80"/>
<rect x="18.20" y="324.6" width="155.6" height="4.4" fill="none" stroke="#666" stroke-width="0.5"/>
<line x1="37.70" y1="324.6" x2="37.70" y2="329.0" stroke="#666" stroke-width="0.4"/>
<text x="36.5" y="336.0" font-size="7.3" text-anchor="middle" font-weight="normal" fill="#000">-2</text>
<line x1="55.70" y1="324.6" x2="55.70" y2="329.0" stroke="#666" stroke-width="0.4"/>
<text x="55.3" y="336.0" font-size="7.3" text-anchor="middle" font-weight="normal" fill="#000">0</text>
<line x1="74.90" y1="324.6" x2="74.90" y2="329.0" stroke="#666" stroke-width="0.4"/>
<text x="74.5" y="336.0" font-size="7.3" text-anchor="middle" font-weight="normal" fill="#000">2</text>
<line x1="94.50" y1="324.6" x2="94.50" y2="329.0" stroke="#666" stroke-width="0.4"/>
<text x="94.1" y="336.0" font-size="7.3" text-anchor="middle" font-weight="normal" fill="#000">4</text>
<line x1="113.90" y1="324.6" x2="113.90" y2="329.0" stroke="#666" stroke-width="0.4"/>
<text x="113.5" y="336.0" font-size="7.3" text-anchor="middle" font-weight="normal" fill="#000">6</text>
<line x1="133.90" y1="324.6" x2="133.90" y2="329.0" stroke="#666" stroke-width="0.4"/>
<text x="133.5" y="336.0" font-size="7.3" text-anchor="middle" font-weight="normal" fill="#000">8</text>
<line x1="153.70" y1="324.6" x2="153.70" y2="329.0" stroke="#666" stroke-width="0.4"/>
<text x="153.3" y="336.0" font-size="7.3" text-anchor="middle" font-weight="normal" fill="#000">10</text>
</g>
<g id="map-d" transform="translate(386.6 0)">
<rect x="8.7" y="171.8" width="172.8" height="143.5" fill="#fff" stroke="#a2a2a2" stroke-width="0.9"/>
<g clip-path="url(#frameclip)" fill="none" stroke="#c4c4c4" stroke-width="0.7" stroke-dasharray="0.9 2.1">
<path d="M43.5 171.8L9.6 302.7"/><path d="M85.4 171.8L78.4 315.3"/><path d="M127.5 171.8L149.2 315.3"/><path d="M171.9 171.8L183 200"/>
<path d="M8.7 194 Q50 209.5 95 209.8 T181.5 193"/>
<path d="M8.7 249.6 Q50 265 95 265.6 T181.5 249.6"/>
<path d="M8.7 302.7 Q45 312 95 316"/>
</g>
<g clip-path="url(#china)"><rect x="135.8" y="175.4" width="3.20" height="3.20" fill="#27780a"/><rect x="129.2" y="177.6" width="7.60" height="3.20" fill="#27780a"/><rect x="135.8" y="177.6" width="5.40" height="3.20" fill="#b4701a"/><rect x="140.2" y="177.6" width="3.20" height="3.20" fill="#27780a"/><rect x="129.2" y="179.8" width="3.20" height="3.20" fill="#27780a"/><rect x="131.4" y="179.8" width="5.40" height="3.20" fill="#b4701a"/><rect x="135.8" y="179.8" width="3.20" height="3.20" fill="#27780a"/><rect x="138.0" y="179.8" width="7.60" height="3.20" fill="#b4701a"/><rect x="129.2" y="182.0" width="5.40" height="3.20" fill="#27780a"/><rect x="133.6" y="182.0" width="9.80" height="3.20" fill="#b4701a"/><rect x="142.4" y="182.0" width="3.20" height="3.20" fill="#27780a"/><rect x="129.2" y="184.2" width="3.20" height="3.20" fill="#b4701a"/><rect x="131.4" y="184.2" width="16.40" height="3.20" fill="#27780a"/><rect x="129.2" y="186.4" width="3.20" height="3.20" fill="#b4701a"/><rect x="131.4" y="186.4" width="3.20" height="3.20" fill="#34a80e"/><rect x="133.6" y="186.4" width="16.40" height="3.20" fill="#27780a"/><rect x="129.2" y="188.6" width="3.20" height="3.20" fill="#b4701a"/><rect x="131.4" y="188.6" width="5.40" height="3.20" fill="#3fd60e"/><rect x="135.8" y="188.6" width="5.40" height="3.20" fill="#27780a"/><rect x="140.2" y="188.6" width="3.20" height="3.20" fill="#34a80e"/><rect x="142.4" y="188.6" width="12.00" height="3.20" fill="#27780a"/><rect x="162.2" y="188.6" width="3.20" height="3.20" fill="#3fd60e"/><rect x="54.4" y="190.8" width="3.20" height="3.20" fill="#b4701a"/><rect x="124.8" y="190.8" width="9.80" height="3.20" fill="#98f56a"/><rect x="133.6" y="190.8" width="3.20" height="3.20" fill="#3fd60e"/><rect x="135.8" y="190.8" width="3.20" height="3.20" fill="#34a80e"/><rect x="138.0" y="190.8" width="9.80" height="3.20" fill="#27780a"/><rect x="146.8" y="190.8" width="7.60" height="3.20" fill="#b4701a"/><rect x="153.4" y="190.8" width="3.20" height="3.20" fill="#27780a"/><rect x="155.6" y="190.8" width="7.60" height="3.20" fill="#b4701a"/><rect x="162.2" y="190.8" width="5.40" height="3.20" fill="#34a80e"/><rect x="52.2" y="193.0" width="5.40" height="3.20" fill="#27780a"/><rect x="56.6" y="193.0" width="3.20" height="3.20" fill="#d3f7c2"/><rect x="122.6" y="193.0" width="5.40" height="3.20" fill="#98f56a"/><rect x="127.0" y="193.0" width="3.20" height="3.20" fill="#d3f7c2"/><rect x="129.2" y="193.0" width="5.40" height="3.20" fill="#98f56a"/><rect x="133.6" y="193.0" width="3.20" height="3.20" fill="#52e81a"/><rect x="135.8" y="193.0" width="5.40" height="3.20" fill="#3fd60e"/><rect x="140.2" y="193.0" width="3.20" height="3.20" fill="#34a80e"/><rect x="142.4" y="193.0" width="5.40" height="3.20" fill="#27780a"/><rect x="146.8" y="193.0" width="7.60" height="3.20" fill="#b4701a"/><rect x="153.4" y="193.0" width="5.40" height="3.20" fill="#27780a"/><rect x="157.8" y="193.0" width="5.40" height="3.20" fill="#b4701a"/><rect x="162.2" y="193.0" width="3.20" height="3.20" fill="#3fd60e"/><rect x="50.0" y="195.2" width="7.60" height="3.20" fill="#d3f7c2"/><rect x="56.6" y="195.2" width="3.20" height="3.20" fill="#52e81a"/><rect x="58.8" y="195.2" width="3.20" height="3.20" fill="#d3f7c2"/><rect x="124.8" y="195.2" width="7.60" height="3.20" fill="#d3f7c2"/><rect x="131.4" y="195.2" width="3.20" height="3.20" fill="#98f56a"/><rect x="133.6" y="195.2" width="3.20" height="3.20" fill="#52e81a"/><rect x="135.8" y="195.2" width="3.20" height="3.20" fill="#3fd60e"/><rect x="138.0" y="195.2" width="5.40" height="3.20" fill="#34a80e"/><rect x="142.4" y="195.2" width="5.40" height="3.20" fill="#27780a"/><rect x="146.8" y="195.2" width="16.40" height="3.20" fill="#b4701a"/><rect x="162.2" y="195.2" width="3.20" height="3.20" fill="#34a80e"/><rect x="50.0" y="197.4" width="12.00" height="3.20" fill="#d3f7c2"/><rect x="129.2" y="197.4" width="5.40" height="3.20" fill="#d3f7c2"/><rect x="133.6" y="197.4" width="3.20" height="3.20" fill="#98f56a"/><rect x="135.8" y="197.4" width="5.40" height="3.20" fill="#3fd60e"/><rect x="140.2" y="197.4" width="3.20" height="3.20" fill="#34a80e"/><rect x="142.4" y="197.4" width="3.20" height="3.20" fill="#27780a"/><rect x="144.6" y="197.4" width="18.60" height="3.20" fill="#b4701a"/><rect x="41.2" y="199.6" width="9.80" height="3.20" fill="#d3f7c2"/><rect x="50.0" y="199.6" width="3.20" height="3.20" fill="#27780a"/><rect x="52.2" y="199.6" width="9.80" height="3.20" fill="#d3f7c2"/><rect x="129.2" y="199.6" width="5.40" height="3.20" fill="#d3f7c2"/><rect x="133.6" y="199.6" width="3.20" height="3.20" fill="#98f56a"/><rect x="135.8" y="199.6" width="5.40" height="3.20" fill="#3fd60e"/><rect x="140.2" y="199.6" width="5.40" height="3.20" fill="#27780a"/><rect x="144.6" y="199.6" width="3.20" height="3.20" fill="#b4701a"/><rect x="146.8" y="199.6" width="3.20" height="3.20" fill="#27780a"/><rect x="149.0" y="199.6" width="5.40" height="3.20" fill="#b4701a"/><rect x="153.4" y="199.6" width="3.20" height="3.20" fill="#27780a"/><rect x="155.6" y="199.6" width="3.20" height="3.20" fill="#b4701a"/><rect x="157.8" y="199.6" width="3.20" height="3.20" fill="#27780a"/><rect x="160.0" y="199.6" width="3.20" height="3.20" fill="#b4701a"/><rect x="36.8" y="201.8" width="3.20" height="3.20" fill="#d3f7c2"/><rect x="39.0" y="201.8" width="3.20" height="3.20" fill="#52e81a"/><rect x="41.2" y="201.8" width="5.40" height="3.20" fill="#d3f7c2"/><rect x="45.6" y="201.8" width="3.20" height="3.20" fill="#27780a"/><rect x="47.8" y="201.8" width="3.20" height="3.20" fill="#52e81a"/><rect x="50.0" y="201.8" width="3.20" height="3.20" fill="#b4701a"/><rect x="52.2" y="201.8" width="9.80" height="3.20" fill="#d3f7c2"/><rect x="124.8" y="201.8" width="9.80" height="3.20" fill="#d3f7c2"/><rect x="133.6" y="201.8" width="3.20" height="3.20" fill="#52e81a"/><rect x="135.8" y="201.8" width="9.80" height="3.20" fill="#27780a"/><rect x="144.6" y="201.8" width="18.60" height="3.20" fill="#b4701a"/><rect x="36.8" y="204.0" width="3.20" height="3.20" fill="#27780a"/><rect x="39.0" y="204.0" width="3.20" height="3.20" fill="#52e81a"/><rect x="41.2" y="204.0" width="23.00" height="3.20" fill="#d3f7c2"/><rect x="120.4" y="204.0" width="14.20" height="3.20" fill="#d3f7c2"/><rect x="133.6" y="204.0" width="3.20" height="3.20" fill="#98f56a"/><rect x="135.8" y="204.0" width="3.20" height="3.20" fill="#3fd60e"/><rect x="138.0" y="204.0" width="3.20" height="3.20" fill="#34a80e"/><rect x="140.2" y="204.0" width="5.40" height="3.20" fill="#27780a"/><rect x="144.6" y="204.0" width="18.60" height="3.20" fill="#b4701a"/><rect x="34.6" y="206.2" width="25.20" height="3.20" fill="#d3f7c2"/><rect x="58.8" y="206.2" width="3.20" height="3.20" fill="#52e81a"/><rect x="61.0" y="206.2" width="5.40" height="3.20" fill="#d3f7c2"/><rect x="116.0" y="206.2" width="18.60" height="3.20" fill="#d3f7c2"/><rect x="133.6" y="206.2" width="3.20" height="3.20" fill="#98f56a"/><rect x="135.8" y="206.2" width="5.40" height="3.20" fill="#3fd60e"/><rect x="140.2" y="206.2" width="5.40" height="3.20" fill="#27780a"/><rect x="144.6" y="206.2" width="5.40" height="3.20" fill="#b4701a"/><rect x="149.0" y="206.2" width="5.40" height="3.20" fill="#27780a"/><rect x="153.4" y="206.2" width="7.60" height="3.20" fill="#b4701a"/><rect x="34.6" y="208.4" width="16.40" height="3.20" fill="#d3f7c2"/><rect x="50.0" y="208.4" width="3.20" height="3.20" fill="#f9c676"/><rect x="52.2" y="208.4" width="7.60" height="3.20" fill="#d3f7c2"/><rect x="58.8" y="208.4" width="3.20" height="3.20" fill="#52e81a"/><rect x="61.0" y="208.4" width="7.60" height="3.20" fill="#d3f7c2"/><rect x="113.8" y="208.4" width="23.00" height="3.20" fill="#d3f7c2"/><rect x="135.8" y="208.4" width="3.20" height="3.20" fill="#52e81a"/><rect x="138.0" y="208.4" width="3.20" height="3.20" fill="#3fd60e"/><rect x="140.2" y="208.4" width="7.60" height="3.20" fill="#27780a"/><rect x="146.8" y="208.4" width="14.20" height="3.20" fill="#b4701a"/><rect x="30.2" y="210.6" width="23.00" height="3.20" fill="#d3f7c2"/><rect x="52.2" y="210.6" width="3.20" height="3.20" fill="#52e81a"/><rect x="54.4" y="210.6" width="18.60" height="3.20" fill="#d3f7c2"/><rect x="111.6" y="210.6" width="25.20" height="3.20" fill="#d3f7c2"/><rect x="135.8" y="210.6" width="5.40" height="3.20" fill="#52e81a"/><rect x="140.2" y="210.6" width="3.20" height="3.20" fill="#34a80e"/><rect x="142.4" y="210.6" width="9.80" height="3.20" fill="#27780a"/><rect x="151.2" y="210.6" width="7.60" height="3.20" fill="#b4701a"/><rect x="23.6" y="212.8" width="3.20" height="3.20" fill="#27780a"/><rect x="25.8" y="212.8" width="38.40" height="3.20" fill="#d3f7c2"/><rect x="63.2" y="212.8" width="3.20" height="3.20" fill="#27780a"/><rect x="65.4" y="212.8" width="9.80" height="3.20" fill="#d3f7c2"/><rect x="109.4" y="212.8" width="27.40" height="3.20" fill="#d3f7c2"/><rect x="135.8" y="212.8" width="3.20" height="3.20" fill="#52e81a"/><rect x="138.0" y="212.8" width="3.20" height="3.20" fill="#3fd60e"/><rect x="140.2" y="212.8" width="14.20" height="3.20" fill="#27780a"/><rect x="153.4" y="212.8" width="3.20" height="3.20" fill="#b4701a"/><rect x="14.8" y="215.0" width="49.40" height="3.20" fill="#d3f7c2"/><rect x="63.2" y="215.0" width="3.20" height="3.20" fill="#b4701a"/><rect x="65.4" y="215.0" width="3.20" height="3.20" fill="#52e81a"/><rect x="67.6" y="215.0" width="9.80" height="3.20" fill="#d3f7c2"/><rect x="105.0" y="215.0" width="25.20" height="3.20" fill="#d3f7c2"/><rect x="129.2" y="215.0" width="5.40" height="3.20" fill="#98f56a"/><rect x="133.6" y="215.0" width="5.40" height="3.20" fill="#52e81a"/><rect x="138.0" y="215.0" width="3.20" height="3.20" fill="#3fd60e"/><rect x="140.2" y="215.0" width="3.20" height="3.20" fill="#27780a"/><rect x="142.4" y="215.0" width="3.20" height="3.20" fill="#b4701a"/><rect x="144.6" y="215.0" width="9.80" height="3.20" fill="#27780a"/><rect x="12.6" y="217.2" width="9.80" height="3.20" fill="#d3f7c2"/><rect x="21.4" y="217.2" width="3.20" height="3.20" fill="#27780a"/><rect x="23.6" y="217.2" width="20.80" height="3.20" fill="#d3f7c2"/><rect x="43.4" y="217.2" width="18.60" height="3.20" fill="#f9c676"/><rect x="61.0" y="217.2" width="3.20" height="3.20" fill="#b4701a"/><rect x="63.2" y="217.2" width="23.00" height="3.20" fill="#d3f7c2"/><rect x="100.6" y="217.2" width="27.40" height="3.20" fill="#d3f7c2"/><rect x="127.0" y="217.2" width="5.40" height="3.20" fill="#98f56a"/><rect x="131.4" y="217.2" width="7.60" height="3.20" fill="#52e81a"/><rect x="138.0" y="217.2" width="3.20" height="3.20" fill="#3fd60e"/><rect x="140.2" y="217.2" width="3.20" height="3.20" fill="#27780a"/><rect x="142.4" y="217.2" width="3.20" height="3.20" fill="#b4701a"/><rect x="144.6" y="217.2" width="7.60" height="3.20" fill="#27780a"/><rect x="12.6" y="219.4" width="7.60" height="3.20" fill="#d3f7c2"/><rect x="19.2" y="219.4" width="5.40" height="3.20" fill="#27780a"/><rect x="23.6" y="219.4" width="3.20" height="3.20" fill="#b4701a"/><rect x="25.8" y="219.4" width="7.60" height="3.20" fill="#d3f7c2"/><rect x="32.4" y="219.4" width="7.60" height="3.20" fill="#f9c676"/><rect x="39.0" y="219.4" width="5.40" height="3.20" fill="#d3f7c2"/><rect x="43.4" y="219.4" width="20.80" height="3.20" fill="#f9c676"/><rect x="63.2" y="219.4" width="62.60" height="3.20" fill="#d3f7c2"/><rect x="124.8" y="219.4" width="3.20" height="3.20" fill="#98f56a"/><rect x="127.0" y="219.4" width="7.60" height="3.20" fill="#52e81a"/><rect x="133.6" y="219.4" width="3.20" height="3.20" fill="#27780a"/><rect x="135.8" y="219.4" width="3.20" height="3.20" fill="#34a80e"/><rect x="138.0" y="219.4" width="12.00" height="3.20" fill="#27780a"/><rect x="12.6" y="221.6" width="9.80" height="3.20" fill="#d3f7c2"/><rect x="21.4" y="221.6" width="3.20" height="3.20" fill="#b4701a"/><rect x="23.6" y="221.6" width="3.20" height="3.20" fill="#27780a"/><rect x="25.8" y="221.6" width="7.60" height="3.20" fill="#d3f7c2"/><rect x="32.4" y="221.6" width="7.60" height="3.20" fill="#f9c676"/><rect x="39.0" y="221.6" width="5.40" height="3.20" fill="#d3f7c2"/><rect x="43.4" y="221.6" width="20.80" height="3.20" fill="#f9c676"/><rect x="63.2" y="221.6" width="9.80" height="3.20" fill="#d3f7c2"/><rect x="72.0" y="221.6" width="3.20" height="3.20" fill="#27780a"/><rect x="74.2" y="221.6" width="47.20" height="3.20" fill="#d3f7c2"/><rect x="120.4" y="221.6" width="7.60" height="3.20" fill="#98f56a"/><rect x="127.0" y="221.6" width="3.20" height="3.20" fill="#3fd60e"/><rect x="129.2" y="221.6" width="5.40" height="3.20" fill="#34a80e"/><rect x="133.6" y="221.6" width="3.20" height="3.20" fill="#3fd60e"/><rect x="135.8" y="221.6" width="3.20" height="3.20" fill="#34a80e"/><rect x="140.2" y="221.6" width="3.20" height="3.20" fill="#3fd60e"/><rect x="142.4" y="221.6" width="3.20" height="3.20" fill="#34a80e"/><rect x="14.8" y="223.8" width="7.60" height="3.20" fill="#d3f7c2"/><rect x="21.4" y="223.8" width="5.40" height="3.20" fill="#b4701a"/><rect x="25.8" y="223.8" width="7.60" height="3.20" fill="#d3f7c2"/><rect x="32.4" y="223.8" width="7.60" height="3.20" fill="#f9c676"/><rect x="39.0" y="223.8" width="5.40" height="3.20" fill="#d3f7c2"/><rect x="43.4" y="223.8" width="20.80" height="3.20" fill="#f9c676"/><rect x="63.2" y="223.8" width="12.00" height="3.20" fill="#d3f7c2"/><rect x="74.2" y="223.8" width="3.20" height="3.20" fill="#b4701a"/><rect x="76.4" y="223.8" width="42.80" height="3.20" fill="#d3f7c2"/><rect x="118.2" y="223.8" width="5.40" height="3.20" fill="#98f56a"/><rect x="122.6" y="223.8" width="3.20" height="3.20" fill="#52e81a"/><rect x="124.8" y="223.8" width="3.20" height="3.20" fill="#3fd60e"/><rect x="127.0" y="223.8" width="3.20" height="3.20" fill="#34a80e"/><rect x="129.2" y="223.8" width="3.20" height="3.20" fill="#27780a"/><rect x="131.4" y="223.8" width="3.20" height="3.20" fill="#34a80e"/><rect x="140.2" y="223.8" width="3.20" height="3.20" fill="#52e81a"/><rect x="14.8" y="226.0" width="7.60" height="3.20" fill="#d3f7c2"/><rect x="21.4" y="226.0" width="3.20" height="3.20" fill="#27780a"/><rect x="23.6" y="226.0" width="93.40" height="3.20" fill="#d3f7c2"/><rect x="116.0" y="226.0" width="5.40" height="3.20" fill="#98f56a"/><rect x="120.4" y="226.0" width="5.40" height="3.20" fill="#52e81a"/><rect x="124.8" y="226.0" width="3.20" height="3.20" fill="#34a80e"/><rect x="127.0" y="226.0" width="5.40" height="3.20" fill="#27780a"/><rect x="17.0" y="228.2" width="97.80" height="3.20" fill="#d3f7c2"/><rect x="113.8" y="228.2" width="7.60" height="3.20" fill="#98f56a"/><rect x="120.4" y="228.2" width="7.60" height="3.20" fill="#52e81a"/><rect x="127.0" y="228.2" width="5.40" height="3.20" fill="#27780a"/><rect x="19.2" y="230.4" width="69.20" height="3.20" fill="#d3f7c2"/><rect x="87.4" y="230.4" width="3.20" height="3.20" fill="#b4701a"/><rect x="89.6" y="230.4" width="25.20" height="3.20" fill="#d3f7c2"/><rect x="113.8" y="230.4" width="3.20" height="3.20" fill="#98f56a"/><rect x="116.0" y="230.4" width="12.00" height="3.20" fill="#52e81a"/><rect x="127.0" y="230.4" width="3.20" height="3.20" fill="#3fd60e"/><rect x="129.2" y="230.4" width="3.20" height="3.20" fill="#34a80e"/><rect x="21.4" y="232.6" width="5.40" height="3.20" fill="#d3f7c2"/><rect x="25.8" y="232.6" width="7.60" height="3.20" fill="#f9c676"/><rect x="32.4" y="232.6" width="16.40" height="3.20" fill="#d3f7c2"/><rect x="47.8" y="232.6" width="5.40" height="3.20" fill="#b4701a"/><rect x="52.2" y="232.6" width="62.60" height="3.20" fill="#d3f7c2"/><rect x="113.8" y="232.6" width="3.20" height="3.20" fill="#98f56a"/><rect x="116.0" y="232.6" width="7.60" height="3.20" fill="#52e81a"/><rect x="122.6" y="232.6" width="3.20" height="3.20" fill="#3fd60e"/><rect x="124.8" y="232.6" width="7.60" height="3.20" fill="#52e81a"/><rect x="131.4" y="232.6" width="3.20" height="3.20" fill="#34a80e"/><rect x="138.0" y="232.6" width="3.20" height="3.20" fill="#34a80e"/><rect x="140.2" y="232.6" width="5.40" height="3.20" fill="#52e81a"/><rect x="21.4" y="234.8" width="23.00" height="3.20" fill="#d3f7c2"/><rect x="43.4" y="234.8" width="3.20" height="3.20" fill="#b4701a"/><rect x="45.6" y="234.8" width="3.20" height="3.20" fill="#d3f7c2"/><rect x="47.8" y="234.8" width="5.40" height="3.20" fill="#b4701a"/><rect x="52.2" y="234.8" width="62.60" height="3.20" fill="#d3f7c2"/><rect x="113.8" y="234.8" width="5.40" height="3.20" fill="#98f56a"/><rect x="118.2" y="234.8" width="3.20" height="3.20" fill="#3fd60e"/><rect x="120.4" y="234.8" width="3.20" height="3.20" fill="#52e81a"/><rect x="122.6" y="234.8" width="5.40" height="3.20" fill="#3fd60e"/><rect x="127.0" y="234.8" width="3.20" height="3.20" fill="#52e81a"/><rect x="129.2" y="234.8" width="5.40" height="3.20" fill="#3fd60e"/><rect x="133.6" y="234.8" width="7.60" height="3.20" fill="#27780a"/><rect x="140.2" y="234.8" width="3.20" height="3.20" fill="#98f56a"/><rect x="21.4" y="237.0" width="18.60" height="3.20" fill="#d3f7c2"/><rect x="39.0" y="237.0" width="3.20" height="3.20" fill="#b4701a"/><rect x="41.2" y="237.0" width="5.40" height="3.20" fill="#d3f7c2"/><rect x="45.6" y="237.0" width="3.20" height="3.20" fill="#52e81a"/><rect x="47.8" y="237.0" width="64.80" height="3.20" fill="#d3f7c2"/><rect x="111.6" y="237.0" width="5.40" height="3.20" fill="#98f56a"/><rect x="116.0" y="237.0" width="20.80" height="3.20" fill="#52e81a"/><rect x="135.8" y="237.0" width="3.20" height="3.20" fill="#27780a"/><rect x="138.0" y="237.0" width="3.20" height="3.20" fill="#34a80e"/><rect x="21.4" y="239.2" width="16.40" height="3.20" fill="#d3f7c2"/><rect x="36.8" y="239.2" width="3.20" height="3.20" fill="#52e81a"/><rect x="39.0" y="239.2" width="3.20" height="3.20" fill="#d3f7c2"/><rect x="41.2" y="239.2" width="3.20" height="3.20" fill="#b4701a"/><rect x="43.4" y="239.2" width="7.60" height="3.20" fill="#d3f7c2"/><rect x="50.0" y="239.2" width="3.20" height="3.20" fill="#52e81a"/><rect x="52.2" y="239.2" width="58.20" height="3.20" fill="#d3f7c2"/><rect x="109.4" y="239.2" width="5.40" height="3.20" fill="#98f56a"/><rect x="113.8" y="239.2" width="20.80" height="3.20" fill="#52e81a"/><rect x="133.6" y="239.2" width="3.20" height="3.20" fill="#3fd60e"/><rect x="135.8" y="239.2" width="3.20" height="3.20" fill="#27780a"/><rect x="21.4" y="241.4" width="18.60" height="3.20" fill="#d3f7c2"/><rect x="39.0" y="241.4" width="3.20" height="3.20" fill="#b4701a"/><rect x="41.2" y="241.4" width="3.20" height="3.20" fill="#52e81a"/><rect x="43.4" y="241.4" width="3.20" height="3.20" fill="#b4701a"/><rect x="45.6" y="241.4" width="5.40" height="3.20" fill="#d3f7c2"/><rect x="50.0" y="241.4" width="3.20" height="3.20" fill="#52e81a"/><rect x="52.2" y="241.4" width="47.20" height="3.20" fill="#d3f7c2"/><rect x="98.4" y="241.4" width="7.60" height="3.20" fill="#98f56a"/><rect x="105.0" y="241.4" width="3.20" height="3.20" fill="#3fd60e"/><rect x="107.2" y="241.4" width="7.60" height="3.20" fill="#52e81a"/><rect x="113.8" y="241.4" width="3.20" height="3.20" fill="#98f56a"/><rect x="116.0" y="241.4" width="16.40" height="3.20" fill="#52e81a"/><rect x="131.4" y="241.4" width="3.20" height="3.20" fill="#34a80e"/><rect x="133.6" y="241.4" width="5.40" height="3.20" fill="#27780a"/><rect x="19.2" y="243.6" width="20.80" height="3.20" fill="#d3f7c2"/><rect x="39.0" y="243.6" width="3.20" height="3.20" fill="#27780a"/><rect x="41.2" y="243.6" width="5.40" height="3.20" fill="#d3f7c2"/><rect x="45.6" y="243.6" width="3.20" height="3.20" fill="#27780a"/><rect x="47.8" y="243.6" width="49.40" height="3.20" fill="#d3f7c2"/><rect x="96.2" y="243.6" width="3.20" height="3.20" fill="#98f56a"/><rect x="98.4" y="243.6" width="5.40" height="3.20" fill="#3fd60e"/><rect x="102.8" y="243.6" width="3.20" height="3.20" fill="#52e81a"/><rect x="105.0" y="243.6" width="3.20" height="3.20" fill="#27780a"/><rect x="107.2" y="243.6" width="3.20" height="3.20" fill="#3fd60e"/><rect x="109.4" y="243.6" width="18.60" height="3.20" fill="#52e81a"/><rect x="127.0" y="243.6" width="3.20" height="3.20" fill="#98f56a"/><rect x="129.2" y="243.6" width="3.20" height="3.20" fill="#52e81a"/><rect x="131.4" y="243.6" width="3.20" height="3.20" fill="#34a80e"/><rect x="133.6" y="243.6" width="7.60" height="3.20" fill="#27780a"/><rect x="19.2" y="245.8" width="20.80" height="3.20" fill="#d3f7c2"/><rect x="39.0" y="245.8" width="3.20" height="3.20" fill="#27780a"/><rect x="41.2" y="245.8" width="3.20" height="3.20" fill="#52e81a"/><rect x="43.4" y="245.8" width="3.20" height="3.20" fill="#b4701a"/><rect x="45.6" y="245.8" width="49.40" height="3.20" fill="#d3f7c2"/><rect x="94.0" y="245.8" width="5.40" height="3.20" fill="#98f56a"/><rect x="98.4" y="245.8" width="7.60" height="3.20" fill="#52e81a"/><rect x="105.0" y="245.8" width="3.20" height="3.20" fill="#3fd60e"/><rect x="107.2" y="245.8" width="3.20" height="3.20" fill="#52e81a"/><rect x="109.4" y="245.8" width="3.20" height="3.20" fill="#34a80e"/><rect x="111.6" y="245.8" width="14.20" height="3.20" fill="#52e81a"/><rect x="124.8" y="245.8" width="3.20" height="3.20" fill="#98f56a"/><rect x="127.0" y="245.8" width="3.20" height="3.20" fill="#3fd60e"/><rect x="129.2" y="245.8" width="7.60" height="3.20" fill="#27780a"/><rect x="135.8" y="245.8" width="3.20" height="3.20" fill="#34a80e"/><rect x="138.0" y="245.8" width="3.20" height="3.20" fill="#27780a"/><rect x="21.4" y="248.0" width="16.40" height="3.20" fill="#d3f7c2"/><rect x="36.8" y="248.0" width="9.80" height="3.20" fill="#b4701a"/><rect x="45.6" y="248.0" width="5.40" height="3.20" fill="#d3f7c2"/><rect x="50.0" y="248.0" width="3.20" height="3.20" fill="#b4701a"/><rect x="52.2" y="248.0" width="20.80" height="3.20" fill="#d3f7c2"/><rect x="72.0" y="248.0" width="3.20" height="3.20" fill="#f9c676"/><rect x="74.2" y="248.0" width="5.40" height="3.20" fill="#b4701a"/><rect x="78.6" y="248.0" width="14.20" height="3.20" fill="#d3f7c2"/><rect x="91.8" y="248.0" width="5.40" height="3.20" fill="#98f56a"/><rect x="96.2" y="248.0" width="3.20" height="3.20" fill="#3fd60e"/><rect x="98.4" y="248.0" width="3.20" height="3.20" fill="#34a80e"/><rect x="100.6" y="248.0" width="3.20" height="3.20" fill="#3fd60e"/><rect x="102.8" y="248.0" width="3.20" height="3.20" fill="#34a80e"/><rect x="105.0" y="248.0" width="9.80" height="3.20" fill="#27780a"/><rect x="113.8" y="248.0" width="7.60" height="3.20" fill="#3fd60e"/><rect x="120.4" y="248.0" width="5.40" height="3.20" fill="#52e81a"/><rect x="124.8" y="248.0" width="3.20" height="3.20" fill="#98f56a"/><rect x="127.0" y="248.0" width="3.20" height="3.20" fill="#3fd60e"/><rect x="129.2" y="248.0" width="9.80" height="3.20" fill="#27780a"/><rect x="138.0" y="248.0" width="3.20" height="3.20" fill="#34a80e"/><rect x="140.2" y="248.0" width="3.20" height="3.20" fill="#98f56a"/><rect x="23.6" y="250.2" width="14.20" height="3.20" fill="#d3f7c2"/><rect x="36.8" y="250.2" width="3.20" height="3.20" fill="#b4701a"/><rect x="39.0" y="250.2" width="3.20" height="3.20" fill="#27780a"/><rect x="41.2" y="250.2" width="7.60" height="3.20" fill="#b4701a"/><rect x="47.8" y="250.2" width="3.20" height="3.20" fill="#27780a"/><rect x="50.0" y="250.2" width="3.20" height="3.20" fill="#b4701a"/><rect x="52.2" y="250.2" width="40.60" height="3.20" fill="#d3f7c2"/><rect x="91.8" y="250.2" width="3.20" height="3.20" fill="#98f56a"/><rect x="94.0" y="250.2" width="3.20" height="3.20" fill="#52e81a"/><rect x="96.2" y="250.2" width="3.20" height="3.20" fill="#34a80e"/><rect x="98.4" y="250.2" width="14.20" height="3.20" fill="#27780a"/><rect x="111.6" y="250.2" width="3.20" height="3.20" fill="#34a80e"/><rect x="113.8" y="250.2" width="3.20" height="3.20" fill="#27780a"/><rect x="116.0" y="250.2" width="9.80" height="3.20" fill="#52e81a"/><rect x="124.8" y="250.2" width="3.20" height="3.20" fill="#98f56a"/><rect x="127.0" y="250.2" width="12.00" height="3.20" fill="#27780a"/><rect x="138.0" y="250.2" width="3.20" height="3.20" fill="#34a80e"/><rect x="140.2" y="250.2" width="5.40" height="3.20" fill="#52e81a"/><rect x="28.0" y="252.4" width="12.00" height="3.20" fill="#d3f7c2"/><rect x="39.0" y="252.4" width="3.20" height="3.20" fill="#b4701a"/><rect x="41.2" y="252.4" width="3.20" height="3.20" fill="#d3f7c2"/><rect x="43.4" y="252.4" width="7.60" height="3.20" fill="#b4701a"/><rect x="50.0" y="252.4" width="3.20" height="3.20" fill="#52e81a"/><rect x="52.2" y="252.4" width="38.40" height="3.20" fill="#d3f7c2"/><rect x="89.6" y="252.4" width="3.20" height="3.20" fill="#98f56a"/><rect x="91.8" y="252.4" width="3.20" height="3.20" fill="#52e81a"/><rect x="94.0" y="252.4" width="3.20" height="3.20" fill="#3fd60e"/><rect x="96.2" y="252.4" width="3.20" height="3.20" fill="#34a80e"/><rect x="98.4" y="252.4" width="14.20" height="3.20" fill="#27780a"/><rect x="111.6" y="252.4" width="3.20" height="3.20" fill="#34a80e"/><rect x="113.8" y="252.4" width="3.20" height="3.20" fill="#3fd60e"/><rect x="116.0" y="252.4" width="9.80" height="3.20" fill="#52e81a"/><rect x="124.8" y="252.4" width="3.20" height="3.20" fill="#98f56a"/><rect x="127.0" y="252.4" width="3.20" height="3.20" fill="#34a80e"/><rect x="129.2" y="252.4" width="12.00" height="3.20" fill="#27780a"/><rect x="140.2" y="252.4" width="7.60" height="3.20" fill="#52e81a"/><rect x="30.2" y="254.6" width="7.60" height="3.20" fill="#98f56a"/><rect x="36.8" y="254.6" width="3.20" height="3.20" fill="#d3f7c2"/><rect x="39.0" y="254.6" width="3.20" height="3.20" fill="#52e81a"/><rect x="41.2" y="254.6" width="3.20" height="3.20" fill="#d3f7c2"/><rect x="43.4" y="254.6" width="3.20" height="3.20" fill="#27780a"/><rect x="45.6" y="254.6" width="5.40" height="3.20" fill="#d3f7c2"/><rect x="50.0" y="254.6" width="3.20" height="3.20" fill="#27780a"/><rect x="52.2" y="254.6" width="36.20" height="3.20" fill="#d3f7c2"/><rect x="87.4" y="254.6" width="5.40" height="3.20" fill="#98f56a"/><rect x="91.8" y="254.6" width="3.20" height="3.20" fill="#3fd60e"/><rect x="94.0" y="254.6" width="3.20" height="3.20" fill="#34a80e"/><rect x="96.2" y="254.6" width="20.80" height="3.20" fill="#27780a"/><rect x="116.0" y="254.6" width="3.20" height="3.20" fill="#34a80e"/><rect x="118.2" y="254.6" width="3.20" height="3.20" fill="#52e81a"/><rect x="120.4" y="254.6" width="3.20" height="3.20" fill="#98f56a"/><rect x="122.6" y="254.6" width="5.40" height="3.20" fill="#52e81a"/><rect x="127.0" y="254.6" width="14.20" height="3.20" fill="#27780a"/><rect x="140.2" y="254.6" width="5.40" height="3.20" fill="#52e81a"/><rect x="144.6" y="254.6" width="3.20" height="3.20" fill="#3fd60e"/><rect x="34.6" y="256.8" width="3.20" height="3.20" fill="#d3f7c2"/><rect x="36.8" y="256.8" width="3.20" height="3.20" fill="#b4701a"/><rect x="39.0" y="256.8" width="49.40" height="3.20" fill="#d3f7c2"/><rect x="87.4" y="256.8" width="3.20" height="3.20" fill="#98f56a"/><rect x="89.6" y="256.8" width="3.20" height="3.20" fill="#52e81a"/><rect x="91.8" y="256.8" width="3.20" height="3.20" fill="#34a80e"/><rect x="94.0" y="256.8" width="23.00" height="3.20" fill="#27780a"/><rect x="116.0" y="256.8" width="9.80" height="3.20" fill="#52e81a"/><rect x="124.8" y="256.8" width="3.20" height="3.20" fill="#34a80e"/><rect x="127.0" y="256.8" width="12.00" height="3.20" fill="#27780a"/><rect x="138.0" y="256.8" width="3.20" height="3.20" fill="#3fd60e"/><rect x="140.2" y="256.8" width="5.40" height="3.20" fill="#52e81a"/><rect x="144.6" y="256.8" width="3.20" height="3.20" fill="#98f56a"/><rect x="36.8" y="259.0" width="49.40" height="3.20" fill="#d3f7c2"/><rect x="85.2" y="259.0" width="5.40" height="3.20" fill="#98f56a"/><rect x="89.6" y="259.0" width="3.20" height="3.20" fill="#3fd60e"/><rect x="91.8" y="259.0" width="23.00" height="3.20" fill="#27780a"/><rect x="113.8" y="259.0" width="9.80" height="3.20" fill="#52e81a"/><rect x="122.6" y="259.0" width="3.20" height="3.20" fill="#34a80e"/><rect x="124.8" y="259.0" width="14.20" height="3.20" fill="#27780a"/><rect x="138.0" y="259.0" width="3.20" height="3.20" fill="#34a80e"/><rect x="140.2" y="259.0" width="5.40" height="3.20" fill="#52e81a"/><rect x="144.6" y="259.0" width="3.20" height="3.20" fill="#3fd60e"/><rect x="39.0" y="261.2" width="45.00" height="3.20" fill="#d3f7c2"/><rect x="83.0" y="261.2" width="5.40" height="3.20" fill="#98f56a"/><rect x="87.4" y="261.2" width="3.20" height="3.20" fill="#52e81a"/><rect x="89.6" y="261.2" width="3.20" height="3.20" fill="#3fd60e"/><rect x="91.8" y="261.2" width="14.20" height="3.20" fill="#27780a"/><rect x="105.0" y="261.2" width="5.40" height="3.20" fill="#34a80e"/><rect x="109.4" y="261.2" width="5.40" height="3.20" fill="#27780a"/><rect x="113.8" y="261.2" width="9.80" height="3.20" fill="#52e81a"/><rect x="122.6" y="261.2" width="3.20" height="3.20" fill="#34a80e"/><rect x="124.8" y="261.2" width="16.40" height="3.20" fill="#27780a"/><rect x="140.2" y="261.2" width="7.60" height="3.20" fill="#52e81a"/><rect x="45.6" y="263.4" width="14.20" height="3.20" fill="#98f56a"/><rect x="58.8" y="263.4" width="3.20" height="3.20" fill="#27780a"/><rect x="61.0" y="263.4" width="3.20" height="3.20" fill="#d3f7c2"/><rect x="63.2" y="263.4" width="3.20" height="3.20" fill="#b4701a"/><rect x="65.4" y="263.4" width="3.20" height="3.20" fill="#d3f7c2"/><rect x="67.6" y="263.4" width="3.20" height="3.20" fill="#27780a"/><rect x="69.8" y="263.4" width="9.80" height="3.20" fill="#d3f7c2"/><rect x="78.6" y="263.4" width="3.20" height="3.20" fill="#98f56a"/><rect x="80.8" y="263.4" width="3.20" height="3.20" fill="#52e81a"/><rect x="83.0" y="263.4" width="3.20" height="3.20" fill="#3fd60e"/><rect x="85.2" y="263.4" width="3.20" height="3.20" fill="#34a80e"/><rect x="87.4" y="263.4" width="18.60" height="3.20" fill="#27780a"/><rect x="105.0" y="263.4" width="3.20" height="3.20" fill="#34a80e"/><rect x="107.2" y="263.4" width="3.20" height="3.20" fill="#27780a"/><rect x="109.4" y="263.4" width="5.40" height="3.20" fill="#34a80e"/><rect x="113.8" y="263.4" width="3.20" height="3.20" fill="#3fd60e"/><rect x="116.0" y="263.4" width="9.80" height="3.20" fill="#52e81a"/><rect x="124.8" y="263.4" width="3.20" height="3.20" fill="#3fd60e"/><rect x="127.0" y="263.4" width="14.20" height="3.20" fill="#27780a"/><rect x="140.2" y="263.4" width="5.40" height="3.20" fill="#52e81a"/><rect x="144.6" y="263.4" width="3.20" height="3.20" fill="#3fd60e"/><rect x="47.8" y="265.6" width="5.40" height="3.20" fill="#52e81a"/><rect x="52.2" y="265.6" width="3.20" height="3.20" fill="#98f56a"/><rect x="54.4" y="265.6" width="3.20" height="3.20" fill="#52e81a"/><rect x="56.6" y="265.6" width="5.40" height="3.20" fill="#98f56a"/><rect x="61.0" y="265.6" width="3.20" height="3.20" fill="#27780a"/><rect x="72.0" y="265.6" width="7.60" height="3.20" fill="#98f56a"/><rect x="78.6" y="265.6" width="5.40" height="3.20" fill="#52e81a"/><rect x="83.0" y="265.6" width="14.20" height="3.20" fill="#27780a"/><rect x="96.2" y="265.6" width="18.60" height="3.20" fill="#52e81a"/><rect x="113.8" y="265.6" width="3.20" height="3.20" fill="#3fd60e"/><rect x="116.0" y="265.6" width="9.80" height="3.20" fill="#52e81a"/><rect x="124.8" y="265.6" width="3.20" height="3.20" fill="#3fd60e"/><rect x="127.0" y="265.6" width="12.00" height="3.20" fill="#27780a"/><rect x="138.0" y="265.6" width="7.60" height="3.20" fill="#52e81a"/><rect x="144.6" y="265.6" width="3.20" height="3.20" fill="#34a80e"/><rect x="56.6" y="267.8" width="7.60" height="3.20" fill="#d3f7c2"/><rect x="74.2" y="267.8" width="25.20" height="3.20" fill="#52e81a"/><rect x="98.4" y="267.8" width="3.20" height="3.20" fill="#3fd60e"/><rect x="100.6" y="267.8" width="5.40" height="3.20" fill="#52e81a"/><rect x="105.0" y="267.8" width="5.40" height="3.20" fill="#3fd60e"/><rect x="109.4" y="267.8" width="5.40" height="3.20" fill="#52e81a"/><rect x="113.8" y="267.8" width="5.40" height="3.20" fill="#98f56a"/><rect x="118.2" y="267.8" width="7.60" height="3.20" fill="#52e81a"/><rect x="124.8" y="267.8" width="5.40" height="3.20" fill="#3fd60e"/><rect x="129.2" y="267.8" width="7.60" height="3.20" fill="#27780a"/><rect x="135.8" y="267.8" width="3.20" height="3.20" fill="#3fd60e"/><rect x="138.0" y="267.8" width="3.20" height="3.20" fill="#52e81a"/><rect x="140.2" y="267.8" width="5.40" height="3.20" fill="#98f56a"/><rect x="58.8" y="270.0" width="3.20" height="3.20" fill="#d3f7c2"/><rect x="76.4" y="270.0" width="23.00" height="3.20" fill="#52e81a"/><rect x="98.4" y="270.0" width="3.20" height="3.20" fill="#3fd60e"/><rect x="100.6" y="270.0" width="20.80" height="3.20" fill="#52e81a"/><rect x="120.4" y="270.0" width="3.20" height="3.20" fill="#98f56a"/><rect x="122.6" y="270.0" width="5.40" height="3.20" fill="#52e81a"/><rect x="127.0" y="270.0" width="5.40" height="3.20" fill="#34a80e"/><rect x="131.4" y="270.0" width="5.40" height="3.20" fill="#27780a"/><rect x="135.8" y="270.0" width="3.20" height="3.20" fill="#3fd60e"/><rect x="138.0" y="270.0" width="5.40" height="3.20" fill="#52e81a"/><rect x="142.4" y="270.0" width="3.20" height="3.20" fill="#98f56a"/><rect x="76.4" y="272.2" width="5.40" height="3.20" fill="#52e81a"/><rect x="80.8" y="272.2" width="3.20" height="3.20" fill="#3fd60e"/><rect x="83.0" y="272.2" width="36.20" height="3.20" fill="#52e81a"/><rect x="118.2" y="272.2" width="7.60" height="3.20" fill="#98f56a"/><rect x="124.8" y="272.2" width="3.20" height="3.20" fill="#52e81a"/><rect x="127.0" y="272.2" width="3.20" height="3.20" fill="#3fd60e"/><rect x="129.2" y="272.2" width="3.20" height="3.20" fill="#27780a"/><rect x="131.4" y="272.2" width="5.40" height="3.20" fill="#34a80e"/><rect x="135.8" y="272.2" width="7.60" height="3.20" fill="#52e81a"/><rect x="76.4" y="274.4" width="9.80" height="3.20" fill="#52e81a"/><rect x="85.2" y="274.4" width="3.20" height="3.20" fill="#98f56a"/><rect x="87.4" y="274.4" width="16.40" height="3.20" fill="#52e81a"/><rect x="102.8" y="274.4" width="3.20" height="3.20" fill="#98f56a"/><rect x="105.0" y="274.4" width="23.00" height="3.20" fill="#52e81a"/><rect x="127.0" y="274.4" width="3.20" height="3.20" fill="#34a80e"/><rect x="129.2" y="274.4" width="7.60" height="3.20" fill="#27780a"/><rect x="135.8" y="274.4" width="3.20" height="3.20" fill="#3fd60e"/><rect x="138.0" y="274.4" width="3.20" height="3.20" fill="#52e81a"/><rect x="146.8" y="274.4" width="3.20" height="3.20" fill="#52e81a"/><rect x="76.4" y="276.6" width="3.20" height="3.20" fill="#3fd60e"/><rect x="78.6" y="276.6" width="9.80" height="3.20" fill="#52e81a"/><rect x="87.4" y="276.6" width="5.40" height="3.20" fill="#98f56a"/><rect x="91.8" y="276.6" width="5.40" height="3.20" fill="#34a80e"/><rect x="96.2" y="276.6" width="5.40" height="3.20" fill="#98f56a"/><rect x="100.6" y="276.6" width="7.60" height="3.20" fill="#52e81a"/><rect x="107.2" y="276.6" width="3.20" height="3.20" fill="#98f56a"/><rect x="109.4" y="276.6" width="3.20" height="3.20" fill="#52e81a"/><rect x="111.6" y="276.6" width="5.40" height="3.20" fill="#98f56a"/><rect x="116.0" y="276.6" width="3.20" height="3.20" fill="#52e81a"/><rect x="118.2" y="276.6" width="3.20" height="3.20" fill="#3fd60e"/><rect x="120.4" y="276.6" width="7.60" height="3.20" fill="#52e81a"/><rect x="127.0" y="276.6" width="5.40" height="3.20" fill="#34a80e"/><rect x="131.4" y="276.6" width="7.60" height="3.20" fill="#27780a"/><rect x="138.0" y="276.6" width="3.20" height="3.20" fill="#52e81a"/><rect x="144.6" y="276.6" width="7.60" height="3.20" fill="#52e81a"/><rect x="74.2" y="278.8" width="5.40" height="3.20" fill="#27780a"/><rect x="78.6" y="278.8" width="3.20" height="3.20" fill="#3fd60e"/><rect x="80.8" y="278.8" width="3.20" height="3.20" fill="#52e81a"/><rect x="83.0" y="278.8" width="3.20" height="3.20" fill="#3fd60e"/><rect x="85.2" y="278.8" width="5.40" height="3.20" fill="#52e81a"/><rect x="89.6" y="278.8" width="3.20" height="3.20" fill="#3fd60e"/><rect x="91.8" y="278.8" width="5.40" height="3.20" fill="#27780a"/><rect x="96.2" y="278.8" width="3.20" height="3.20" fill="#34a80e"/><rect x="98.4" y="278.8" width="3.20" height="3.20" fill="#27780a"/><rect x="100.6" y="278.8" width="5.40" height="3.20" fill="#3fd60e"/><rect x="105.0" y="278.8" width="5.40" height="3.20" fill="#27780a"/><rect x="109.4" y="278.8" width="3.20" height="3.20" fill="#3fd60e"/><rect x="111.6" y="278.8" width="3.20" height="3.20" fill="#27780a"/><rect x="113.8" y="278.8" width="3.20" height="3.20" fill="#34a80e"/><rect x="116.0" y="278.8" width="3.20" height="3.20" fill="#3fd60e"/><rect x="118.2" y="278.8" width="5.40" height="3.20" fill="#27780a"/><rect x="122.6" y="278.8" width="3.20" height="3.20" fill="#34a80e"/><rect x="124.8" y="278.8" width="14.20" height="3.20" fill="#27780a"/><rect x="144.6" y="278.8" width="5.40" height="3.20" fill="#52e81a"/><rect x="74.2" y="281.0" width="3.20" height="3.20" fill="#52e81a"/><rect x="76.4" y="281.0" width="3.20" height="3.20" fill="#34a80e"/><rect x="78.6" y="281.0" width="49.40" height="3.20" fill="#27780a"/><rect x="127.0" y="281.0" width="5.40" height="3.20" fill="#3fd60e"/><rect x="131.4" y="281.0" width="5.40" height="3.20" fill="#52e81a"/><rect x="144.6" y="281.0" width="5.40" height="3.20" fill="#52e81a"/><rect x="76.4" y="283.2" width="51.60" height="3.20" fill="#27780a"/><rect x="127.0" y="283.2" width="3.20" height="3.20" fill="#34a80e"/><rect x="129.2" y="283.2" width="3.20" height="3.20" fill="#3fd60e"/><rect x="144.6" y="283.2" width="3.20" height="3.20" fill="#52e81a"/><rect x="78.6" y="285.4" width="16.40" height="3.20" fill="#27780a"/><rect x="98.4" y="285.4" width="3.20" height="3.20" fill="#27780a"/><rect x="100.6" y="285.4" width="3.20" height="3.20" fill="#34a80e"/><rect x="102.8" y="285.4" width="7.60" height="3.20" fill="#27780a"/><rect x="109.4" y="285.4" width="3.20" height="3.20" fill="#34a80e"/><rect x="111.6" y="285.4" width="16.40" height="3.20" fill="#27780a"/><rect x="127.0" y="285.4" width="3.20" height="3.20" fill="#52e81a"/><rect x="78.6" y="287.6" width="9.80" height="3.20" fill="#27780a"/><rect x="100.6" y="287.6" width="3.20" height="3.20" fill="#52e81a"/><rect x="102.8" y="287.6" width="5.40" height="3.20" fill="#34a80e"/><rect x="107.2" y="287.6" width="3.20" height="3.20" fill="#27780a"/><rect x="109.4" y="287.6" width="7.60" height="3.20" fill="#52e81a"/><rect x="116.0" y="287.6" width="3.20" height="3.20" fill="#3fd60e"/><rect x="118.2" y="287.6" width="7.60" height="3.20" fill="#27780a"/><rect x="80.8" y="289.8" width="5.40" height="3.20" fill="#27780a"/><rect x="85.2" y="289.8" width="3.20" height="3.20" fill="#3fd60e"/><rect x="102.8" y="289.8" width="3.20" height="3.20" fill="#52e81a"/><rect x="105.0" y="289.8" width="3.20" height="3.20" fill="#3fd60e"/><rect x="107.2" y="289.8" width="3.20" height="3.20" fill="#52e81a"/><rect x="109.4" y="289.8" width="3.20" height="3.20" fill="#34a80e"/><rect x="111.6" y="289.8" width="3.20" height="3.20" fill="#3fd60e"/><rect x="113.8" y="289.8" width="5.40" height="3.20" fill="#27780a"/><rect x="111.6" y="292.0" width="3.20" height="3.20" fill="#52e81a"/><rect x="111.6" y="294.2" width="3.20" height="3.20" fill="#3fd60e"/><rect x="113.8" y="294.2" width="3.20" height="3.20" fill="#52e81a"/><rect x="109.4" y="296.4" width="7.60" height="3.20" fill="#52e81a"/><rect x="107.2" y="298.6" width="3.20" height="3.20" fill="#34a80e"/><rect x="109.4" y="298.6" width="3.20" height="3.20" fill="#52e81a"/><rect x="111.6" y="298.6" width="3.20" height="3.20" fill="#3fd60e"/><rect x="113.8" y="298.6" width="3.20" height="3.20" fill="#52e81a"/><rect x="109.4" y="300.8" width="5.40" height="3.20" fill="#52e81a"/></g>
<polygon points="55.7,191.9 57.6,192.6 59.2,194.8 60.3,199.5 61.8,204.4 64.2,207.4 67.1,209.6 70.3,211.2 73.2,212.3 75.2,214.3 76.7,216.6 81.5,218.3 87.1,219.2 90.8,220.3 94.1,221.0 97.5,220.4 100.5,219.2 104.2,217.6 107.4,215.7 110.2,213.0 112.6,210.5 115.2,208.6 117.9,207.0 121.4,205.2 124.8,203.6 128.5,202.6 131.8,200.9 129.8,199.0 127.5,197.5 124.2,196.0 121.4,194.0 123.8,192.4 126.6,191.4 129.2,190.0 130.9,187.9 130.4,183.4 129.2,179.2 132.4,178.4 136.2,176.6 139.4,177.4 142.3,179.2 144.2,181.8 145.7,184.4 148.2,186.8 151.0,188.7 154.4,190.8 157.9,192.2 161.0,190.6 164.0,188.7 165.3,189.6 164.9,192.2 163.8,195.8 162.3,199.2 161.6,203.2 160.6,207.0 158.6,210.2 156.2,212.8 152.5,216.2 149.4,219.2 145.3,222.7 142.8,225.0 140.7,226.8 139.7,225.2 140.6,223.2 141.5,221.8 140.4,220.8 139.3,220.8 137.0,222.4 135.0,223.8 133.0,225.4 131.4,227.2 130.3,229.3 131.0,230.8 132.2,232.0 133.6,233.6 135.2,234.9 137.0,234.8 139.0,234.3 141.4,233.6 143.8,233.3 142.6,235.0 141.0,236.5 139.2,238.0 137.5,239.2 136.2,240.6 137.0,242.2 138.0,243.5 139.2,245.2 140.5,247.0 142.8,249.6 144.9,252.2 146.0,255.6 146.6,259.2 146.4,262.8 145.7,266.1 144.2,269.8 142.3,273.1 140.2,276.3 137.9,279.2 135.0,282.0 131.8,284.4 128.4,286.3 124.8,287.9 121.4,289.4 117.9,290.5 115.4,291.4 113.6,293.4 112.2,294.6 111.2,293.0 110.9,291.6 109.2,291.6 107.4,291.4 104.8,290.8 102.2,289.7 99.6,287.8 97.0,285.3 93.6,285.6 90.6,287.0 88.8,287.6 87.1,288.8 86.4,290.8 85.4,292.3 83.2,291.8 81.0,290.5 79.2,287.6 77.5,284.4 75.2,282.8 73.2,280.9 75.2,278.4 77.5,275.7 77.4,273.0 76.7,270.5 75.0,268.6 73.2,267.0 71.4,265.4 69.7,264.4 67.0,264.9 64.5,266.1 62.8,268.4 61.0,270.5 58.8,270.4 56.6,269.6 54.6,267.6 52.3,266.1 49.6,266.3 47.0,266.1 45.2,264.6 43.6,263.5 40.6,262.4 37.5,260.9 35.2,258.8 33.1,256.6 29.6,254.6 26.1,252.2 23.0,250.6 20.0,248.7 20.0,246.0 20.9,243.5 22.3,241.9 22.6,238.0 21.8,234.0 20.0,232.4 18.3,230.6 16.8,229.0 15.7,227.1 14.4,223.2 13.9,219.2 14.4,217.0 15.7,215.4 19.2,215.4 22.6,214.9 27.2,213.4 31.4,211.4 33.8,209.8 35.7,207.9 36.4,205.2 37.5,202.7 40.6,201.6 43.6,200.9 47.2,199.8 50.5,198.3 51.2,196.0 52.3,194.0 54.0,192.6" fill="none" stroke="#9aa58a" stroke-width="0.35"/>
<g fill="none" stroke="#8d9388" stroke-width="0.45" opacity="0.75">
<path d="M14.8 217.5C15.5 222 17.5 226 19.2 227C21.5 229.5 23.5 230.6 26.1 230.6C33 230.3 38 228.8 43.6 228C50 226.8 55 225.3 61 225.3C66 225.3 71 225.8 74.9 227.1C79.5 228.5 83 229.8 85.4 231.4C88.2 233.6 89.6 236 90.6 238.4L94.1 243.6"/>
<path d="M90 241.9L100.5 238.4L109.2 234.9L112.6 229.7L124.8 224.5L135.3 217.5L139 219.5"/>
<path d="M94.1 243.6C92 250 88 258 85 262C80 266 74 267 70 264.5"/>
</g>
<g fill="#777">
<rect x="120.5" y="305.6" width="0.8" height="0.8"/>
<rect x="122.0" y="307.2" width="0.8" height="0.8"/>
<rect x="124.6" y="306.1" width="0.8" height="0.8"/>
<rect x="126.2" y="308.4" width="0.8" height="0.8"/>
<rect x="131.5" y="307.5" width="0.8" height="0.8"/>
<rect x="133.0" y="308.8" width="0.8" height="0.8"/>
<rect x="138.5" y="307.0" width="0.8" height="0.8"/>
<rect x="143.0" y="306.4" width="0.8" height="0.8"/>
<rect x="147.0" y="305.4" width="0.8" height="0.8"/>
<rect x="149.4" y="300.2" width="0.8" height="0.8"/>
<rect x="148.6" y="296.0" width="0.8" height="0.8"/>
<rect x="134.0" y="292.3" width="0.8" height="0.8"/>
<rect x="137.4" y="293.2" width="0.8" height="0.8"/>
<rect x="150.2" y="289.6" width="0.8" height="0.8"/>
<rect x="120.2" y="309.4" width="0.8" height="0.8"/>
<rect x="128.4" y="309.9" width="0.8" height="0.8"/>
<rect x="140.4" y="309.6" width="0.8" height="0.8"/>
<rect x="146.2" y="309.1" width="0.8" height="0.8"/>
</g>
<rect x="154.0" y="274.9" width="24.0" height="37.3" rx="0.8" fill="#fff" stroke="#969696" stroke-width="0.9"/>
<g clip-path="url(#insetclip)">
<ellipse cx="162.2" cy="274.4" rx="7.6" ry="7.0" fill="#27780a"/>
<ellipse cx="160.0" cy="274.0" rx="4.6" ry="3.4" fill="#52e81a"/>
<ellipse cx="158.2" cy="284.2" rx="1.3" ry="1.0" fill="#52e81a"/>
<ellipse cx="171.3" cy="276.4" rx="0.9" ry="2.2" fill="#52e81a"/>
</g>
<g fill="#666">
<rect x="160.2" y="288.2" width="0.8" height="0.8"/>
<rect x="162.4" y="288.8" width="0.8" height="0.8"/>
<rect x="165.5" y="287.4" width="0.8" height="0.8"/>
<rect x="168.2" y="291.8" width="0.8" height="0.8"/>
<rect x="166.4" y="293.6" width="0.8" height="0.8"/>
<rect x="164.6" y="295.2" width="0.8" height="0.8"/>
<rect x="162.8" y="296.8" width="0.8" height="0.8"/>
<rect x="161.0" y="298.2" width="0.8" height="0.8"/>
<rect x="165.6" y="297.6" width="0.8" height="0.8"/>
<rect x="167.3" y="294.6" width="0.8" height="0.8"/>
<rect x="169.5" y="293.0" width="0.8" height="0.8"/>
<rect x="163.4" y="301.2" width="0.8" height="0.8"/>
<rect x="166.2" y="300.0" width="0.8" height="0.8"/>
<rect x="170.4" y="284.4" width="0.8" height="0.8"/>
<rect x="169.8" y="280.2" width="0.8" height="0.8"/>
<rect x="164.4" y="292.0" width="0.8" height="0.8"/>
</g>
<text x="53.0" y="221.5" font-size="9.4" text-anchor="middle" font-weight="normal" fill="#111" stroke="#fff" stroke-width="2.1" stroke-linejoin="round" paint-order="stroke">I</text>
<text x="138.0" y="191.5" font-size="9.4" text-anchor="middle" font-weight="normal" fill="#111" stroke="#fff" stroke-width="2.1" stroke-linejoin="round" paint-order="stroke">II</text>
<text x="57.3" y="250.7" font-size="9.4" text-anchor="middle" font-weight="normal" fill="#111" stroke="#fff" stroke-width="2.1" stroke-linejoin="round" paint-order="stroke">III</text>
<text x="114.7" y="274.1" font-size="9.4" text-anchor="middle" font-weight="normal" fill="#111" stroke="#fff" stroke-width="2.1" stroke-linejoin="round" paint-order="stroke">IV</text>
<text x="13.6" y="192.2" font-size="17.2" text-anchor="start" font-weight="normal" fill="#000">(d)</text>
<text x="43.5" y="169.5" font-size="5.2" text-anchor="middle" font-weight="bold" fill="#222">80°0'0"E</text>
<text x="85.4" y="169.5" font-size="5.2" text-anchor="middle" font-weight="bold" fill="#222">100°0'0"E</text>
<text x="127.5" y="169.5" font-size="5.2" text-anchor="middle" font-weight="bold" fill="#222">120°0'0"E</text>
<text x="171.9" y="169.5" font-size="5.2" text-anchor="middle" font-weight="bold" fill="#222">140°0'0"E</text>
<text x="78.4" y="321.9" font-size="5.1" text-anchor="middle" font-weight="bold" fill="#222">100°0'0"E</text>
<text x="149.2" y="321.9" font-size="5.1" text-anchor="middle" font-weight="bold" fill="#222">120°0'0"E</text>
<text x="5.6" y="193.2" font-size="5.1" text-anchor="middle" font-weight="bold" fill="#222" transform="rotate(-90 5.6 193.2)">45°0'0"N</text>
<text x="184.1" y="194.2" font-size="5.1" text-anchor="middle" font-weight="bold" fill="#222" transform="rotate(90 184.1 194.2)">45°0'0"N</text>
<text x="5.6" y="249.6" font-size="5.1" text-anchor="middle" font-weight="bold" fill="#222" transform="rotate(-90 5.6 249.6)">30°0'0"N</text>
<text x="184.1" y="250.6" font-size="5.1" text-anchor="middle" font-weight="bold" fill="#222" transform="rotate(90 184.1 250.6)">30°0'0"N</text>
<text x="5.6" y="302.7" font-size="5.1" text-anchor="middle" font-weight="bold" fill="#222" transform="rotate(-90 5.6 302.7)">15°0'0"N</text>
<text x="184.1" y="303.7" font-size="5.1" text-anchor="middle" font-weight="bold" fill="#222" transform="rotate(90 184.1 303.7)">15°0'0"N</text>
<rect x="19.70" y="323.5" width="19.66" height="3.8" fill="#b4701a"/>
<rect x="39.16" y="323.5" width="19.66" height="3.8" fill="#f9c676"/>
<rect x="58.62" y="323.5" width="19.66" height="3.8" fill="#d3f7c2"/>
<rect x="78.08" y="323.5" width="19.66" height="3.8" fill="#98f56a"/>
<rect x="97.54" y="323.5" width="19.66" height="3.8" fill="#52e81a"/>
<rect x="117.00" y="323.5" width="19.66" height="3.8" fill="#3fd60e"/>
<rect x="136.46" y="323.5" width="19.66" height="3.8" fill="#34a80e"/>
<rect x="155.92" y="323.5" width="19.66" height="3.8" fill="#27780a"/>
<rect x="19.70" y="323.5" width="155.7" height="3.8" fill="none" stroke="#666" stroke-width="0.5"/>
<line x1="39.16" y1="323.5" x2="39.16" y2="327.3" stroke="#666" stroke-width="0.4"/>
<text x="37.5" y="336.7" font-size="7.3" text-anchor="middle" font-weight="normal" fill="#000">-2</text>
<line x1="58.62" y1="323.5" x2="58.62" y2="327.3" stroke="#666" stroke-width="0.4"/>
<text x="57.7" y="336.7" font-size="7.3" text-anchor="middle" font-weight="normal" fill="#000">0</text>
<line x1="78.08" y1="323.5" x2="78.08" y2="327.3" stroke="#666" stroke-width="0.4"/>
<text x="77.2" y="336.7" font-size="7.3" text-anchor="middle" font-weight="normal" fill="#000">1</text>
<line x1="97.54" y1="323.5" x2="97.54" y2="327.3" stroke="#666" stroke-width="0.4"/>
<text x="96.6" y="336.7" font-size="7.3" text-anchor="middle" font-weight="normal" fill="#000">2</text>
<line x1="117.00" y1="323.5" x2="117.00" y2="327.3" stroke="#666" stroke-width="0.4"/>
<text x="116.1" y="336.7" font-size="7.3" text-anchor="middle" font-weight="normal" fill="#000">3</text>
<line x1="136.46" y1="323.5" x2="136.46" y2="327.3" stroke="#666" stroke-width="0.4"/>
<text x="135.6" y="336.7" font-size="7.3" text-anchor="middle" font-weight="normal" fill="#000">4</text>
<line x1="155.92" y1="323.5" x2="155.92" y2="327.3" stroke="#666" stroke-width="0.4"/>
<text x="155.0" y="336.7" font-size="7.3" text-anchor="middle" font-weight="normal" fill="#000">5</text>
</g>
<g id="panel-e">
<rect x="107.6" y="389.0" width="17.8" height="88.8" fill="#0b7d0e" stroke="#000" stroke-width="1.2"/>
<rect x="107.6" y="367.4" width="17.8" height="21.6" fill="#b7612e" stroke="#000" stroke-width="1.2"/>
<rect x="125.4" y="426.7" width="17.8" height="51.1" fill="#3b82c4" stroke="#000" stroke-width="1.2"/>
<path d="M116.5 365.0V370.6M111.2 365.0H121.8M111.2 370.6H121.8" stroke="#f4c8a6" stroke-width="1.1" fill="none"/>
<path d="M116.5 382.0V395.5M111.2 382.0H121.8M111.2 395.5H121.8" stroke="#d2e6b8" stroke-width="1.1" fill="none"/>
<path d="M134.3 418.6V435.1M128.3 418.6H140.3M128.3 435.1H140.3" stroke="#000" stroke-width="1.1" fill="none"/>
<text x="116.5" y="493.6" font-size="12.5" text-anchor="middle" font-weight="normal" fill="#000">China</text>
<rect x="196.0" y="472.5" width="17.8" height="5.3" fill="#0b7d0e" stroke="#000" stroke-width="1.2"/>
<rect x="196.0" y="468.8" width="17.8" height="3.7" fill="#b7612e" stroke="#000" stroke-width="1.2"/>
<rect x="213.8" y="465.7" width="17.8" height="12.1" fill="#3b82c4" stroke="#000" stroke-width="1.2"/>
<path d="M204.9 467.6V470.2M199.6 467.6H210.2M199.6 470.2H210.2" stroke="#f4c8a6" stroke-width="1.1" fill="none"/>
<path d="M204.9 471.2V474.2M199.6 471.2H210.2M199.6 474.2H210.2" stroke="#d2e6b8" stroke-width="1.1" fill="none"/>
<path d="M222.7 456.3V474.7M216.7 456.3H228.7M216.7 474.7H228.7" stroke="#000" stroke-width="1.1" fill="none"/>
<text x="204.9" y="493.6" font-size="12.5" text-anchor="middle" font-weight="normal" fill="#000">I</text>
<rect x="284.4" y="446.3" width="17.8" height="31.5" fill="#0b7d0e" stroke="#000" stroke-width="1.2"/>
<rect x="284.4" y="442.9" width="17.8" height="3.4" fill="#b7612e" stroke="#000" stroke-width="1.2"/>
<rect x="302.2" y="366.5" width="17.8" height="111.3" fill="#3b82c4" stroke="#000" stroke-width="1.2"/>
<path d="M293.3 441.4V444.8M288.0 441.4H298.6M288.0 444.8H298.6" stroke="#f4c8a6" stroke-width="1.1" fill="none"/>
<path d="M293.3 444.3V449.2M288.0 444.3H298.6M288.0 449.2H298.6" stroke="#d2e6b8" stroke-width="1.1" fill="none"/>
<path d="M311.1 353.4V379.9M305.1 353.4H317.1M305.1 379.9H317.1" stroke="#000" stroke-width="1.1" fill="none"/>
<text x="293.3" y="493.6" font-size="12.5" text-anchor="middle" font-weight="normal" fill="#000">II</text>
<rect x="372.8" y="470.3" width="17.8" height="7.5" fill="#0b7d0e" stroke="#000" stroke-width="1.2"/>
<rect x="372.8" y="464.7" width="17.8" height="5.6" fill="#b7612e" stroke="#000" stroke-width="1.2"/>
<rect x="390.6" y="457.9" width="17.8" height="19.9" fill="#3b82c4" stroke="#000" stroke-width="1.2"/>
<path d="M381.7 462.5V467.3M376.4 462.5H387.0M376.4 467.3H387.0" stroke="#f4c8a6" stroke-width="1.1" fill="none"/>
<path d="M381.7 467.3V472.6M376.4 467.3H387.0M376.4 472.6H387.0" stroke="#d2e6b8" stroke-width="1.1" fill="none"/>
<path d="M399.5 453.2V462.5M393.5 453.2H405.5M393.5 462.5H405.5" stroke="#000" stroke-width="1.1" fill="none"/>
<text x="381.7" y="493.6" font-size="12.5" text-anchor="middle" font-weight="normal" fill="#000">III</text>
<rect x="461.2" y="432.6" width="17.8" height="45.2" fill="#0b7d0e" stroke="#000" stroke-width="1.2"/>
<rect x="461.2" y="424.2" width="17.8" height="8.4" fill="#b7612e" stroke="#000" stroke-width="1.2"/>
<rect x="479.0" y="412.7" width="17.8" height="65.1" fill="#3b82c4" stroke="#000" stroke-width="1.2"/>
<path d="M470.1 422.6V426.4M464.8 422.6H475.4M464.8 426.4H475.4" stroke="#f4c8a6" stroke-width="1.1" fill="none"/>
<path d="M470.1 428.9V436.7M464.8 428.9H475.4M464.8 436.7H475.4" stroke="#d2e6b8" stroke-width="1.1" fill="none"/>
<path d="M487.9 387.7V436.7M481.9 387.7H493.9M481.9 436.7H493.9" stroke="#000" stroke-width="1.1" fill="none"/>
<text x="470.1" y="493.6" font-size="12.5" text-anchor="middle" font-weight="normal" fill="#000">IV</text>
<rect x="45.2" y="346.9" width="487.7" height="130.90000000000003" fill="none" stroke="#000" stroke-width="1.3"/>
<text x="37.4" y="481.5" font-size="11.6" text-anchor="end" font-weight="normal" fill="#000">0.00</text>
<line x1="45.2" y1="454.4" x2="51.2" y2="454.4" stroke="#000" stroke-width="1.1"/>
<text x="37.4" y="458.1" font-size="11.6" text-anchor="end" font-weight="normal" fill="#000">0.05</text>
<line x1="45.2" y1="431.0" x2="51.2" y2="431.0" stroke="#000" stroke-width="1.1"/>
<text x="37.4" y="434.7" font-size="11.6" text-anchor="end" font-weight="normal" fill="#000">0.10</text>
<line x1="45.2" y1="407.6" x2="51.2" y2="407.6" stroke="#000" stroke-width="1.1"/>
<text x="37.4" y="411.3" font-size="11.6" text-anchor="end" font-weight="normal" fill="#000">0.15</text>
<line x1="45.2" y1="384.2" x2="51.2" y2="384.2" stroke="#000" stroke-width="1.1"/>
<text x="37.4" y="387.9" font-size="11.6" text-anchor="end" font-weight="normal" fill="#000">0.20</text>
<line x1="45.2" y1="360.8" x2="51.2" y2="360.8" stroke="#000" stroke-width="1.1"/>
<text x="37.4" y="364.5" font-size="11.6" text-anchor="end" font-weight="normal" fill="#000">0.25</text>
<text x="540.0" y="482.0" font-size="12.5" text-anchor="start" font-weight="normal" fill="#000">0</text>
<line x1="532.9" y1="454.0" x2="526.9" y2="454.0" stroke="#000" stroke-width="1.1"/>
<text x="540.0" y="458.2" font-size="12.5" text-anchor="start" font-weight="normal" fill="#000">2</text>
<line x1="532.9" y1="430.2" x2="526.9" y2="430.2" stroke="#000" stroke-width="1.1"/>
<text x="540.0" y="434.4" font-size="12.5" text-anchor="start" font-weight="normal" fill="#000">4</text>
<line x1="532.9" y1="406.4" x2="526.9" y2="406.4" stroke="#000" stroke-width="1.1"/>
<text x="540.0" y="410.6" font-size="12.5" text-anchor="start" font-weight="normal" fill="#000">6</text>
<line x1="532.9" y1="382.6" x2="526.9" y2="382.6" stroke="#000" stroke-width="1.1"/>
<text x="540.0" y="386.8" font-size="12.5" text-anchor="start" font-weight="normal" fill="#000">8</text>
<line x1="532.9" y1="358.8" x2="526.9" y2="358.8" stroke="#000" stroke-width="1.1"/>
<text x="540.0" y="363.0" font-size="12.5" text-anchor="start" font-weight="normal" fill="#000">10</text>
<text x="10.2" y="412.0" font-size="13.6" text-anchor="middle" font-weight="normal" fill="#000" transform="rotate(-90 10.2 412.0)">Carbon slope (PgC/yr)</text>
<text x="567" y="433.6" font-size="14" text-anchor="start" transform="rotate(-90 567 433.6)">Ratio<tspan font-size="9.2" dy="3.2">sink</tspan></text>
<text x="53.4" y="367.2" font-size="17.5" text-anchor="start" font-weight="normal" fill="#000">(e)</text>
<rect x="138.5" y="353.4" width="28.8" height="14" fill="#b7612e" stroke="#000" stroke-width="1.1"/>
<text x="172.0" y="364.9" font-size="13.8" text-anchor="start" font-weight="normal" fill="#000">cSoil slope</text>
<rect x="138.5" y="370.4" width="28.8" height="14" fill="#0b7d0e" stroke="#000" stroke-width="1.1"/>
<text x="172.0" y="381.9" font-size="13.8" text-anchor="start" font-weight="normal" fill="#000">cVeg slope</text>
<rect x="138.5" y="387.5" width="28.8" height="14" fill="#3b82c4" stroke="#000" stroke-width="1.1"/>
<text x="172" y="399.2" font-size="13.8" text-anchor="start">Ratio<tspan font-size="9.2" dy="3.4">sink</tspan></text>
</g>
</svg>
</body></html>
